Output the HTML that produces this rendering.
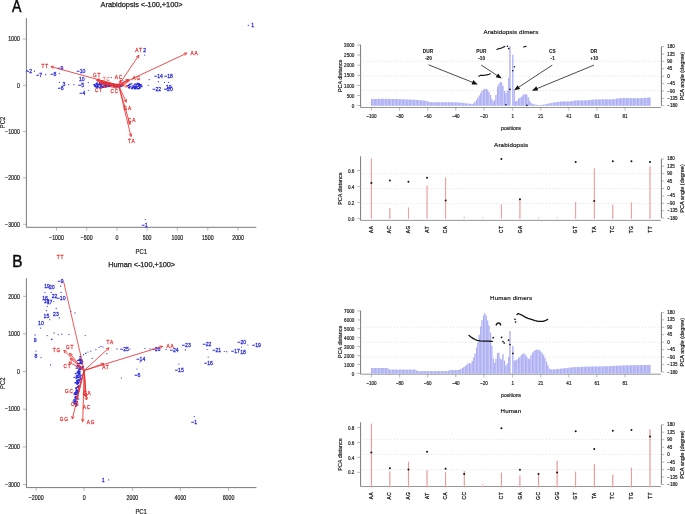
<!DOCTYPE html>
<html><head><meta charset="utf-8"><title>PCA figure</title>
<style>html,body{margin:0;padding:0;background:#fff;width:685px;height:514px;overflow:hidden}svg{display:block;will-change:transform}text{font-family:"Liberation Sans",sans-serif}</style>
</head><body>
<svg width="685" height="514" viewBox="0 0 685 514" font-family='"Liberation Sans", sans-serif'><text transform="translate(12.00 11.60) scale(0.83 1)" font-size="17.0" fill="#0a0a0a" stroke="#0a0a0a" stroke-width="0.5" text-anchor="start" font-weight="normal" dominant-baseline="auto">A</text>
<text transform="translate(100.60 6.80)" font-size="7.4" fill="#1e1e1e" stroke="#1e1e1e" stroke-width="0.25" text-anchor="start" font-weight="normal" dominant-baseline="auto" textLength="82.10" lengthAdjust="spacing">Arabidopsis &lt;-100,+100&gt;</text>
<line x1="26.40" y1="18.10" x2="26.40" y2="227.30" stroke="#6a6a6a" stroke-width="0.9"/>
<line x1="26.40" y1="227.30" x2="256.30" y2="227.30" stroke="#6a6a6a" stroke-width="0.9"/>
<line x1="22.90" y1="39.00" x2="26.40" y2="39.00" stroke="#888" stroke-width="0.6"/>
<text transform="translate(19.90 39.10) scale(0.84 1)" font-size="6.3" fill="#1e1e1e" stroke="#1e1e1e" stroke-width="0.2" text-anchor="end" font-weight="normal" dominant-baseline="central">1000</text>
<line x1="22.90" y1="85.30" x2="26.40" y2="85.30" stroke="#888" stroke-width="0.6"/>
<text transform="translate(19.90 85.40) scale(0.84 1)" font-size="6.3" fill="#1e1e1e" stroke="#1e1e1e" stroke-width="0.2" text-anchor="end" font-weight="normal" dominant-baseline="central">0</text>
<line x1="22.90" y1="131.60" x2="26.40" y2="131.60" stroke="#888" stroke-width="0.6"/>
<text transform="translate(19.90 131.70) scale(0.84 1)" font-size="6.3" fill="#1e1e1e" stroke="#1e1e1e" stroke-width="0.2" text-anchor="end" font-weight="normal" dominant-baseline="central">−1000</text>
<line x1="22.90" y1="177.90" x2="26.40" y2="177.90" stroke="#888" stroke-width="0.6"/>
<text transform="translate(19.90 178.00) scale(0.84 1)" font-size="6.3" fill="#1e1e1e" stroke="#1e1e1e" stroke-width="0.2" text-anchor="end" font-weight="normal" dominant-baseline="central">−2000</text>
<line x1="22.90" y1="224.30" x2="26.40" y2="224.30" stroke="#888" stroke-width="0.6"/>
<text transform="translate(19.90 224.40) scale(0.84 1)" font-size="6.3" fill="#1e1e1e" stroke="#1e1e1e" stroke-width="0.2" text-anchor="end" font-weight="normal" dominant-baseline="central">−3000</text>
<line x1="56.50" y1="227.30" x2="56.50" y2="230.60" stroke="#888" stroke-width="0.6"/>
<text transform="translate(56.50 237.70) scale(0.84 1)" font-size="6.3" fill="#1e1e1e" stroke="#1e1e1e" stroke-width="0.2" text-anchor="middle" font-weight="normal" dominant-baseline="central">−1000</text>
<line x1="86.70" y1="227.30" x2="86.70" y2="230.60" stroke="#888" stroke-width="0.6"/>
<text transform="translate(86.70 237.70) scale(0.84 1)" font-size="6.3" fill="#1e1e1e" stroke="#1e1e1e" stroke-width="0.2" text-anchor="middle" font-weight="normal" dominant-baseline="central">−500</text>
<line x1="116.90" y1="227.30" x2="116.90" y2="230.60" stroke="#888" stroke-width="0.6"/>
<text transform="translate(116.90 237.70) scale(0.84 1)" font-size="6.3" fill="#1e1e1e" stroke="#1e1e1e" stroke-width="0.2" text-anchor="middle" font-weight="normal" dominant-baseline="central">0</text>
<line x1="147.10" y1="227.30" x2="147.10" y2="230.60" stroke="#888" stroke-width="0.6"/>
<text transform="translate(147.10 237.70) scale(0.84 1)" font-size="6.3" fill="#1e1e1e" stroke="#1e1e1e" stroke-width="0.2" text-anchor="middle" font-weight="normal" dominant-baseline="central">500</text>
<line x1="177.40" y1="227.30" x2="177.40" y2="230.60" stroke="#888" stroke-width="0.6"/>
<text transform="translate(177.40 237.70) scale(0.84 1)" font-size="6.3" fill="#1e1e1e" stroke="#1e1e1e" stroke-width="0.2" text-anchor="middle" font-weight="normal" dominant-baseline="central">1000</text>
<line x1="207.80" y1="227.30" x2="207.80" y2="230.60" stroke="#888" stroke-width="0.6"/>
<text transform="translate(207.80 237.70) scale(0.84 1)" font-size="6.3" fill="#1e1e1e" stroke="#1e1e1e" stroke-width="0.2" text-anchor="middle" font-weight="normal" dominant-baseline="central">1500</text>
<line x1="238.10" y1="227.30" x2="238.10" y2="230.60" stroke="#888" stroke-width="0.6"/>
<text transform="translate(238.10 237.70) scale(0.84 1)" font-size="6.3" fill="#1e1e1e" stroke="#1e1e1e" stroke-width="0.2" text-anchor="middle" font-weight="normal" dominant-baseline="central">2000</text>
<text transform="translate(141.30 251.30) scale(0.86 1)" font-size="6.8" fill="#1e1e1e" stroke="#1e1e1e" stroke-width="0.2" text-anchor="middle" font-weight="normal" dominant-baseline="central">PC1</text>
<text transform="translate(2.80 122.50) rotate(-90) scale(0.86 1)" font-size="6.8" fill="#1e1e1e" stroke="#1e1e1e" stroke-width="0.2" text-anchor="middle" font-weight="normal" dominant-baseline="central">PC2</text>
<text transform="translate(12.20 266.90) scale(0.9 1)" font-size="17.0" fill="#0a0a0a" stroke="#0a0a0a" stroke-width="0.5" text-anchor="start" font-weight="normal" dominant-baseline="auto">B</text>
<text transform="translate(108.30 267.00)" font-size="7.4" fill="#1e1e1e" stroke="#1e1e1e" stroke-width="0.25" text-anchor="start" font-weight="normal" dominant-baseline="auto" textLength="66.80" lengthAdjust="spacing">Human &lt;-100,+100&gt;</text>
<line x1="26.40" y1="278.30" x2="26.40" y2="487.60" stroke="#6a6a6a" stroke-width="0.9"/>
<line x1="26.40" y1="487.60" x2="256.40" y2="487.60" stroke="#6a6a6a" stroke-width="0.9"/>
<line x1="22.90" y1="296.30" x2="26.40" y2="296.30" stroke="#888" stroke-width="0.6"/>
<text transform="translate(19.90 296.40) scale(0.84 1)" font-size="6.3" fill="#1e1e1e" stroke="#1e1e1e" stroke-width="0.2" text-anchor="end" font-weight="normal" dominant-baseline="central">2000</text>
<line x1="22.90" y1="333.90" x2="26.40" y2="333.90" stroke="#888" stroke-width="0.6"/>
<text transform="translate(19.90 334.00) scale(0.84 1)" font-size="6.3" fill="#1e1e1e" stroke="#1e1e1e" stroke-width="0.2" text-anchor="end" font-weight="normal" dominant-baseline="central">1000</text>
<line x1="22.90" y1="371.50" x2="26.40" y2="371.50" stroke="#888" stroke-width="0.6"/>
<text transform="translate(19.90 371.60) scale(0.84 1)" font-size="6.3" fill="#1e1e1e" stroke="#1e1e1e" stroke-width="0.2" text-anchor="end" font-weight="normal" dominant-baseline="central">0</text>
<line x1="22.90" y1="409.20" x2="26.40" y2="409.20" stroke="#888" stroke-width="0.6"/>
<text transform="translate(19.90 409.30) scale(0.84 1)" font-size="6.3" fill="#1e1e1e" stroke="#1e1e1e" stroke-width="0.2" text-anchor="end" font-weight="normal" dominant-baseline="central">−1000</text>
<line x1="22.90" y1="446.90" x2="26.40" y2="446.90" stroke="#888" stroke-width="0.6"/>
<text transform="translate(19.90 447.00) scale(0.84 1)" font-size="6.3" fill="#1e1e1e" stroke="#1e1e1e" stroke-width="0.2" text-anchor="end" font-weight="normal" dominant-baseline="central">−2000</text>
<line x1="22.90" y1="484.60" x2="26.40" y2="484.60" stroke="#888" stroke-width="0.6"/>
<text transform="translate(19.90 484.70) scale(0.84 1)" font-size="6.3" fill="#1e1e1e" stroke="#1e1e1e" stroke-width="0.2" text-anchor="end" font-weight="normal" dominant-baseline="central">−3000</text>
<line x1="36.20" y1="487.60" x2="36.20" y2="490.90" stroke="#888" stroke-width="0.6"/>
<text transform="translate(36.20 497.80) scale(0.84 1)" font-size="6.3" fill="#1e1e1e" stroke="#1e1e1e" stroke-width="0.2" text-anchor="middle" font-weight="normal" dominant-baseline="central">−2000</text>
<line x1="84.10" y1="487.60" x2="84.10" y2="490.90" stroke="#888" stroke-width="0.6"/>
<text transform="translate(84.10 497.80) scale(0.84 1)" font-size="6.3" fill="#1e1e1e" stroke="#1e1e1e" stroke-width="0.2" text-anchor="middle" font-weight="normal" dominant-baseline="central">0</text>
<line x1="132.40" y1="487.60" x2="132.40" y2="490.90" stroke="#888" stroke-width="0.6"/>
<text transform="translate(132.40 497.80) scale(0.84 1)" font-size="6.3" fill="#1e1e1e" stroke="#1e1e1e" stroke-width="0.2" text-anchor="middle" font-weight="normal" dominant-baseline="central">2000</text>
<line x1="180.40" y1="487.60" x2="180.40" y2="490.90" stroke="#888" stroke-width="0.6"/>
<text transform="translate(180.40 497.80) scale(0.84 1)" font-size="6.3" fill="#1e1e1e" stroke="#1e1e1e" stroke-width="0.2" text-anchor="middle" font-weight="normal" dominant-baseline="central">4000</text>
<line x1="228.50" y1="487.60" x2="228.50" y2="490.90" stroke="#888" stroke-width="0.6"/>
<text transform="translate(228.50 497.80) scale(0.84 1)" font-size="6.3" fill="#1e1e1e" stroke="#1e1e1e" stroke-width="0.2" text-anchor="middle" font-weight="normal" dominant-baseline="central">6000</text>
<text transform="translate(141.10 511.60) scale(0.86 1)" font-size="6.8" fill="#1e1e1e" stroke="#1e1e1e" stroke-width="0.2" text-anchor="middle" font-weight="normal" dominant-baseline="central">PC1</text>
<text transform="translate(2.70 383.30) rotate(-90) scale(0.86 1)" font-size="6.8" fill="#1e1e1e" stroke="#1e1e1e" stroke-width="0.2" text-anchor="middle" font-weight="normal" dominant-baseline="central">PC2</text>
<text transform="translate(483.60 34.00)" font-size="6.2" fill="#1e1e1e" stroke="#1e1e1e" stroke-width="0.22" text-anchor="start" font-weight="normal" dominant-baseline="auto" textLength="54.70" lengthAdjust="spacing">Arabidopsis dimers</text>
<line x1="360.60" y1="44.60" x2="360.60" y2="107.50" stroke="#6a6a6a" stroke-width="0.9"/>
<line x1="360.60" y1="107.50" x2="660.90" y2="107.50" stroke="#8a8a8a" stroke-width="0.9"/>
<line x1="357.30" y1="45.00" x2="360.60" y2="45.00" stroke="#888" stroke-width="0.6"/>
<text transform="translate(354.40 45.00) scale(0.86 1)" font-size="5.4" fill="#1e1e1e" stroke="#1e1e1e" stroke-width="0.2" text-anchor="end" font-weight="normal" dominant-baseline="central">3000</text>
<line x1="357.30" y1="55.10" x2="360.60" y2="55.10" stroke="#888" stroke-width="0.6"/>
<text transform="translate(354.40 55.10) scale(0.86 1)" font-size="5.4" fill="#1e1e1e" stroke="#1e1e1e" stroke-width="0.2" text-anchor="end" font-weight="normal" dominant-baseline="central">2500</text>
<line x1="357.30" y1="65.20" x2="360.60" y2="65.20" stroke="#888" stroke-width="0.6"/>
<text transform="translate(354.40 65.20) scale(0.86 1)" font-size="5.4" fill="#1e1e1e" stroke="#1e1e1e" stroke-width="0.2" text-anchor="end" font-weight="normal" dominant-baseline="central">2000</text>
<line x1="357.30" y1="75.30" x2="360.60" y2="75.30" stroke="#888" stroke-width="0.6"/>
<text transform="translate(354.40 75.30) scale(0.86 1)" font-size="5.4" fill="#1e1e1e" stroke="#1e1e1e" stroke-width="0.2" text-anchor="end" font-weight="normal" dominant-baseline="central">1500</text>
<line x1="357.30" y1="85.40" x2="360.60" y2="85.40" stroke="#888" stroke-width="0.6"/>
<text transform="translate(354.40 85.40) scale(0.86 1)" font-size="5.4" fill="#1e1e1e" stroke="#1e1e1e" stroke-width="0.2" text-anchor="end" font-weight="normal" dominant-baseline="central">1000</text>
<line x1="357.30" y1="95.50" x2="360.60" y2="95.50" stroke="#888" stroke-width="0.6"/>
<text transform="translate(354.40 95.50) scale(0.86 1)" font-size="5.4" fill="#1e1e1e" stroke="#1e1e1e" stroke-width="0.2" text-anchor="end" font-weight="normal" dominant-baseline="central">500</text>
<line x1="357.30" y1="105.60" x2="360.60" y2="105.60" stroke="#888" stroke-width="0.6"/>
<text transform="translate(354.40 105.60) scale(0.86 1)" font-size="5.4" fill="#1e1e1e" stroke="#1e1e1e" stroke-width="0.2" text-anchor="end" font-weight="normal" dominant-baseline="central">0</text>
<line x1="363.00" y1="61.30" x2="661.40" y2="61.30" stroke="#cfcfcf" stroke-width="0.6" stroke-dasharray="1.1 2.0"/>
<line x1="363.00" y1="76.10" x2="661.40" y2="76.10" stroke="#cfcfcf" stroke-width="0.6" stroke-dasharray="1.1 2.0"/>
<line x1="363.00" y1="90.60" x2="661.40" y2="90.60" stroke="#cfcfcf" stroke-width="0.6" stroke-dasharray="1.1 2.0"/>
<line x1="661.40" y1="46.60" x2="661.40" y2="105.80" stroke="#6a6a6a" stroke-width="0.9"/>
<line x1="661.40" y1="46.60" x2="664.20" y2="46.60" stroke="#888" stroke-width="0.6"/>
<text transform="translate(667.30 46.60) scale(0.9 1)" font-size="5.0" fill="#1e1e1e" stroke="#1e1e1e" stroke-width="0.2" text-anchor="start" font-weight="normal" dominant-baseline="central">180</text>
<line x1="661.40" y1="54.00" x2="664.20" y2="54.00" stroke="#888" stroke-width="0.6"/>
<text transform="translate(667.30 54.00) scale(0.9 1)" font-size="5.0" fill="#1e1e1e" stroke="#1e1e1e" stroke-width="0.2" text-anchor="start" font-weight="normal" dominant-baseline="central">135</text>
<line x1="661.40" y1="61.40" x2="664.20" y2="61.40" stroke="#888" stroke-width="0.6"/>
<text transform="translate(667.30 61.40) scale(0.9 1)" font-size="5.0" fill="#1e1e1e" stroke="#1e1e1e" stroke-width="0.2" text-anchor="start" font-weight="normal" dominant-baseline="central">90</text>
<line x1="661.40" y1="68.80" x2="664.20" y2="68.80" stroke="#888" stroke-width="0.6"/>
<text transform="translate(667.30 68.80) scale(0.9 1)" font-size="5.0" fill="#1e1e1e" stroke="#1e1e1e" stroke-width="0.2" text-anchor="start" font-weight="normal" dominant-baseline="central">45</text>
<line x1="661.40" y1="76.20" x2="664.20" y2="76.20" stroke="#888" stroke-width="0.6"/>
<text transform="translate(667.30 76.20) scale(0.9 1)" font-size="5.0" fill="#1e1e1e" stroke="#1e1e1e" stroke-width="0.2" text-anchor="start" font-weight="normal" dominant-baseline="central">0</text>
<line x1="661.40" y1="83.60" x2="664.20" y2="83.60" stroke="#888" stroke-width="0.6"/>
<text transform="translate(667.30 83.60) scale(0.9 1)" font-size="5.0" fill="#1e1e1e" stroke="#1e1e1e" stroke-width="0.2" text-anchor="start" font-weight="normal" dominant-baseline="central">−45</text>
<line x1="661.40" y1="91.00" x2="664.20" y2="91.00" stroke="#888" stroke-width="0.6"/>
<text transform="translate(667.30 91.00) scale(0.9 1)" font-size="5.0" fill="#1e1e1e" stroke="#1e1e1e" stroke-width="0.2" text-anchor="start" font-weight="normal" dominant-baseline="central">−90</text>
<line x1="661.40" y1="98.40" x2="664.20" y2="98.40" stroke="#888" stroke-width="0.6"/>
<text transform="translate(667.30 98.40) scale(0.9 1)" font-size="5.0" fill="#1e1e1e" stroke="#1e1e1e" stroke-width="0.2" text-anchor="start" font-weight="normal" dominant-baseline="central">−135</text>
<line x1="661.40" y1="105.80" x2="664.20" y2="105.80" stroke="#888" stroke-width="0.6"/>
<text transform="translate(667.30 105.80) scale(0.9 1)" font-size="5.0" fill="#1e1e1e" stroke="#1e1e1e" stroke-width="0.2" text-anchor="start" font-weight="normal" dominant-baseline="central">−180</text>
<text transform="translate(339.50 75.80) rotate(-90)" font-size="5.9" fill="#1e1e1e" stroke="#1e1e1e" stroke-width="0.2" text-anchor="middle" font-weight="normal" dominant-baseline="central" textLength="32.50" lengthAdjust="spacingAndGlyphs">PCA distance</text>
<text transform="translate(682.00 76.10) rotate(-90)" font-size="5.9" fill="#1e1e1e" stroke="#1e1e1e" stroke-width="0.2" text-anchor="middle" font-weight="normal" dominant-baseline="central" textLength="48.50" lengthAdjust="spacingAndGlyphs">PCA angle (degree)</text>
<line x1="371.40" y1="107.50" x2="371.40" y2="110.70" stroke="#888" stroke-width="0.6"/>
<text transform="translate(371.40 116.80) scale(0.88 1)" font-size="5.2" fill="#1e1e1e" stroke="#1e1e1e" stroke-width="0.2" text-anchor="middle" font-weight="normal" dominant-baseline="central">−100</text>
<line x1="399.60" y1="107.50" x2="399.60" y2="110.70" stroke="#888" stroke-width="0.6"/>
<text transform="translate(399.60 116.80) scale(0.88 1)" font-size="5.2" fill="#1e1e1e" stroke="#1e1e1e" stroke-width="0.2" text-anchor="middle" font-weight="normal" dominant-baseline="central">−80</text>
<line x1="427.70" y1="107.50" x2="427.70" y2="110.70" stroke="#888" stroke-width="0.6"/>
<text transform="translate(427.70 116.80) scale(0.88 1)" font-size="5.2" fill="#1e1e1e" stroke="#1e1e1e" stroke-width="0.2" text-anchor="middle" font-weight="normal" dominant-baseline="central">−60</text>
<line x1="455.80" y1="107.50" x2="455.80" y2="110.70" stroke="#888" stroke-width="0.6"/>
<text transform="translate(455.80 116.80) scale(0.88 1)" font-size="5.2" fill="#1e1e1e" stroke="#1e1e1e" stroke-width="0.2" text-anchor="middle" font-weight="normal" dominant-baseline="central">−40</text>
<line x1="483.90" y1="107.50" x2="483.90" y2="110.70" stroke="#888" stroke-width="0.6"/>
<text transform="translate(483.90 116.80) scale(0.88 1)" font-size="5.2" fill="#1e1e1e" stroke="#1e1e1e" stroke-width="0.2" text-anchor="middle" font-weight="normal" dominant-baseline="central">−20</text>
<line x1="512.70" y1="107.50" x2="512.70" y2="110.70" stroke="#888" stroke-width="0.6"/>
<text transform="translate(512.70 116.80) scale(0.88 1)" font-size="5.2" fill="#1e1e1e" stroke="#1e1e1e" stroke-width="0.2" text-anchor="middle" font-weight="normal" dominant-baseline="central">1</text>
<line x1="540.80" y1="107.50" x2="540.80" y2="110.70" stroke="#888" stroke-width="0.6"/>
<text transform="translate(540.80 116.80) scale(0.88 1)" font-size="5.2" fill="#1e1e1e" stroke="#1e1e1e" stroke-width="0.2" text-anchor="middle" font-weight="normal" dominant-baseline="central">21</text>
<line x1="568.90" y1="107.50" x2="568.90" y2="110.70" stroke="#888" stroke-width="0.6"/>
<text transform="translate(568.90 116.80) scale(0.88 1)" font-size="5.2" fill="#1e1e1e" stroke="#1e1e1e" stroke-width="0.2" text-anchor="middle" font-weight="normal" dominant-baseline="central">41</text>
<line x1="597.00" y1="107.50" x2="597.00" y2="110.70" stroke="#888" stroke-width="0.6"/>
<text transform="translate(597.00 116.80) scale(0.88 1)" font-size="5.2" fill="#1e1e1e" stroke="#1e1e1e" stroke-width="0.2" text-anchor="middle" font-weight="normal" dominant-baseline="central">61</text>
<line x1="625.10" y1="107.50" x2="625.10" y2="110.70" stroke="#888" stroke-width="0.6"/>
<text transform="translate(625.10 116.80) scale(0.88 1)" font-size="5.2" fill="#1e1e1e" stroke="#1e1e1e" stroke-width="0.2" text-anchor="middle" font-weight="normal" dominant-baseline="central">81</text>
<text transform="translate(511.10 128.30)" font-size="5.6" fill="#1e1e1e" stroke="#1e1e1e" stroke-width="0.2" text-anchor="middle" font-weight="normal" dominant-baseline="central" textLength="20.00" lengthAdjust="spacingAndGlyphs">positions</text>
<rect x="371.00" y="98.99" width="1.2" height="6.81" fill="#bdbff8"/><rect x="371.00" y="98.99" width="0.4" height="6.81" fill="#9294eb"/><rect x="372.40" y="98.97" width="1.2" height="6.83" fill="#bdbff8"/><rect x="372.40" y="98.97" width="0.4" height="6.83" fill="#9294eb"/><rect x="373.80" y="98.95" width="1.2" height="6.85" fill="#bdbff8"/><rect x="373.80" y="98.95" width="0.4" height="6.85" fill="#9294eb"/><rect x="375.20" y="98.93" width="1.2" height="6.87" fill="#bdbff8"/><rect x="375.20" y="98.93" width="0.4" height="6.87" fill="#9294eb"/><rect x="376.60" y="98.91" width="1.2" height="6.89" fill="#bdbff8"/><rect x="376.60" y="98.91" width="0.4" height="6.89" fill="#9294eb"/><rect x="378.00" y="98.89" width="1.2" height="6.91" fill="#bdbff8"/><rect x="378.00" y="98.89" width="0.4" height="6.91" fill="#9294eb"/><rect x="379.40" y="98.87" width="1.2" height="6.93" fill="#bdbff8"/><rect x="379.40" y="98.87" width="0.4" height="6.93" fill="#9294eb"/><rect x="380.80" y="98.85" width="1.2" height="6.95" fill="#bdbff8"/><rect x="380.80" y="98.85" width="0.4" height="6.95" fill="#9294eb"/><rect x="382.20" y="98.83" width="1.2" height="6.97" fill="#bdbff8"/><rect x="382.20" y="98.83" width="0.4" height="6.97" fill="#9294eb"/><rect x="383.60" y="98.81" width="1.2" height="6.99" fill="#bdbff8"/><rect x="383.60" y="98.81" width="0.4" height="6.99" fill="#9294eb"/><rect x="385.00" y="98.82" width="1.2" height="6.98" fill="#bdbff8"/><rect x="385.00" y="98.82" width="0.4" height="6.98" fill="#9294eb"/><rect x="386.40" y="98.85" width="1.2" height="6.95" fill="#bdbff8"/><rect x="386.40" y="98.85" width="0.4" height="6.95" fill="#9294eb"/><rect x="387.80" y="98.89" width="1.2" height="6.91" fill="#bdbff8"/><rect x="387.80" y="98.89" width="0.4" height="6.91" fill="#9294eb"/><rect x="389.20" y="98.93" width="1.2" height="6.87" fill="#bdbff8"/><rect x="389.20" y="98.93" width="0.4" height="6.87" fill="#9294eb"/><rect x="390.60" y="98.97" width="1.2" height="6.83" fill="#bdbff8"/><rect x="390.60" y="98.97" width="0.4" height="6.83" fill="#9294eb"/><rect x="392.00" y="99.00" width="1.2" height="6.80" fill="#bdbff8"/><rect x="392.00" y="99.00" width="0.4" height="6.80" fill="#9294eb"/><rect x="393.40" y="99.04" width="1.2" height="6.76" fill="#bdbff8"/><rect x="393.40" y="99.04" width="0.4" height="6.76" fill="#9294eb"/><rect x="394.80" y="99.08" width="1.2" height="6.72" fill="#bdbff8"/><rect x="394.80" y="99.08" width="0.4" height="6.72" fill="#9294eb"/><rect x="396.20" y="99.11" width="1.2" height="6.69" fill="#bdbff8"/><rect x="396.20" y="99.11" width="0.4" height="6.69" fill="#9294eb"/><rect x="397.60" y="99.15" width="1.2" height="6.65" fill="#bdbff8"/><rect x="397.60" y="99.15" width="0.4" height="6.65" fill="#9294eb"/><rect x="399.00" y="99.19" width="1.2" height="6.61" fill="#bdbff8"/><rect x="399.00" y="99.19" width="0.4" height="6.61" fill="#9294eb"/><rect x="400.40" y="99.24" width="1.2" height="6.56" fill="#bdbff8"/><rect x="400.40" y="99.24" width="0.4" height="6.56" fill="#9294eb"/><rect x="401.80" y="99.30" width="1.2" height="6.50" fill="#bdbff8"/><rect x="401.80" y="99.30" width="0.4" height="6.50" fill="#9294eb"/><rect x="403.20" y="99.35" width="1.2" height="6.45" fill="#bdbff8"/><rect x="403.20" y="99.35" width="0.4" height="6.45" fill="#9294eb"/><rect x="404.60" y="99.41" width="1.2" height="6.39" fill="#bdbff8"/><rect x="404.60" y="99.41" width="0.4" height="6.39" fill="#9294eb"/><rect x="406.00" y="99.46" width="1.2" height="6.34" fill="#bdbff8"/><rect x="406.00" y="99.46" width="0.4" height="6.34" fill="#9294eb"/><rect x="407.40" y="99.52" width="1.2" height="6.28" fill="#bdbff8"/><rect x="407.40" y="99.52" width="0.4" height="6.28" fill="#9294eb"/><rect x="408.80" y="99.58" width="1.2" height="6.22" fill="#bdbff8"/><rect x="408.80" y="99.58" width="0.4" height="6.22" fill="#9294eb"/><rect x="410.20" y="99.63" width="1.2" height="6.17" fill="#bdbff8"/><rect x="410.20" y="99.63" width="0.4" height="6.17" fill="#9294eb"/><rect x="411.60" y="99.69" width="1.2" height="6.11" fill="#bdbff8"/><rect x="411.60" y="99.69" width="0.4" height="6.11" fill="#9294eb"/><rect x="413.00" y="99.74" width="1.2" height="6.06" fill="#bdbff8"/><rect x="413.00" y="99.74" width="0.4" height="6.06" fill="#9294eb"/><rect x="414.40" y="99.80" width="1.2" height="6.00" fill="#bdbff8"/><rect x="414.40" y="99.80" width="0.4" height="6.00" fill="#9294eb"/><rect x="415.80" y="99.91" width="1.2" height="5.89" fill="#bdbff8"/><rect x="415.80" y="99.91" width="0.4" height="5.89" fill="#9294eb"/><rect x="417.20" y="100.02" width="1.2" height="5.78" fill="#bdbff8"/><rect x="417.20" y="100.02" width="0.4" height="5.78" fill="#9294eb"/><rect x="418.60" y="100.14" width="1.2" height="5.66" fill="#bdbff8"/><rect x="418.60" y="100.14" width="0.4" height="5.66" fill="#9294eb"/><rect x="420.00" y="100.25" width="1.2" height="5.55" fill="#bdbff8"/><rect x="420.00" y="100.25" width="0.4" height="5.55" fill="#9294eb"/><rect x="421.40" y="100.36" width="1.2" height="5.44" fill="#bdbff8"/><rect x="421.40" y="100.36" width="0.4" height="5.44" fill="#9294eb"/><rect x="422.80" y="100.47" width="1.2" height="5.33" fill="#bdbff8"/><rect x="422.80" y="100.47" width="0.4" height="5.33" fill="#9294eb"/><rect x="424.20" y="100.58" width="1.2" height="5.22" fill="#bdbff8"/><rect x="424.20" y="100.58" width="0.4" height="5.22" fill="#9294eb"/><rect x="425.60" y="100.94" width="1.2" height="4.86" fill="#bdbff8"/><rect x="425.60" y="100.94" width="0.4" height="4.86" fill="#9294eb"/><rect x="427.00" y="101.34" width="1.2" height="4.46" fill="#bdbff8"/><rect x="427.00" y="101.34" width="0.4" height="4.46" fill="#9294eb"/><rect x="428.40" y="101.73" width="1.2" height="4.07" fill="#bdbff8"/><rect x="428.40" y="101.73" width="0.4" height="4.07" fill="#9294eb"/><rect x="429.80" y="102.13" width="1.2" height="3.67" fill="#bdbff8"/><rect x="429.80" y="102.13" width="0.4" height="3.67" fill="#9294eb"/><rect x="431.20" y="102.29" width="1.2" height="3.51" fill="#bdbff8"/><rect x="431.20" y="102.29" width="0.4" height="3.51" fill="#9294eb"/><rect x="432.60" y="102.28" width="1.2" height="3.52" fill="#bdbff8"/><rect x="432.60" y="102.28" width="0.4" height="3.52" fill="#9294eb"/><rect x="434.00" y="102.27" width="1.2" height="3.53" fill="#bdbff8"/><rect x="434.00" y="102.27" width="0.4" height="3.53" fill="#9294eb"/><rect x="435.40" y="102.26" width="1.2" height="3.54" fill="#bdbff8"/><rect x="435.40" y="102.26" width="0.4" height="3.54" fill="#9294eb"/><rect x="436.80" y="102.25" width="1.2" height="3.55" fill="#bdbff8"/><rect x="436.80" y="102.25" width="0.4" height="3.55" fill="#9294eb"/><rect x="438.20" y="102.24" width="1.2" height="3.56" fill="#bdbff8"/><rect x="438.20" y="102.24" width="0.4" height="3.56" fill="#9294eb"/><rect x="439.60" y="102.23" width="1.2" height="3.57" fill="#bdbff8"/><rect x="439.60" y="102.23" width="0.4" height="3.57" fill="#9294eb"/><rect x="441.00" y="102.22" width="1.2" height="3.58" fill="#bdbff8"/><rect x="441.00" y="102.22" width="0.4" height="3.58" fill="#9294eb"/><rect x="442.40" y="102.21" width="1.2" height="3.59" fill="#bdbff8"/><rect x="442.40" y="102.21" width="0.4" height="3.59" fill="#9294eb"/><rect x="443.80" y="102.20" width="1.2" height="3.60" fill="#bdbff8"/><rect x="443.80" y="102.20" width="0.4" height="3.60" fill="#9294eb"/><rect x="445.20" y="102.22" width="1.2" height="3.58" fill="#bdbff8"/><rect x="445.20" y="102.22" width="0.4" height="3.58" fill="#9294eb"/><rect x="446.60" y="102.24" width="1.2" height="3.56" fill="#bdbff8"/><rect x="446.60" y="102.24" width="0.4" height="3.56" fill="#9294eb"/><rect x="448.00" y="102.27" width="1.2" height="3.53" fill="#bdbff8"/><rect x="448.00" y="102.27" width="0.4" height="3.53" fill="#9294eb"/><rect x="449.40" y="102.30" width="1.2" height="3.50" fill="#bdbff8"/><rect x="449.40" y="102.30" width="0.4" height="3.50" fill="#9294eb"/><rect x="450.80" y="102.33" width="1.2" height="3.47" fill="#bdbff8"/><rect x="450.80" y="102.33" width="0.4" height="3.47" fill="#9294eb"/><rect x="452.20" y="102.36" width="1.2" height="3.44" fill="#bdbff8"/><rect x="452.20" y="102.36" width="0.4" height="3.44" fill="#9294eb"/><rect x="453.60" y="102.38" width="1.2" height="3.42" fill="#bdbff8"/><rect x="453.60" y="102.38" width="0.4" height="3.42" fill="#9294eb"/><rect x="455.00" y="102.41" width="1.2" height="3.39" fill="#bdbff8"/><rect x="455.00" y="102.41" width="0.4" height="3.39" fill="#9294eb"/><rect x="456.40" y="102.44" width="1.2" height="3.36" fill="#bdbff8"/><rect x="456.40" y="102.44" width="0.4" height="3.36" fill="#9294eb"/><rect x="457.80" y="102.47" width="1.2" height="3.33" fill="#bdbff8"/><rect x="457.80" y="102.47" width="0.4" height="3.33" fill="#9294eb"/><rect x="459.20" y="102.50" width="1.2" height="3.30" fill="#bdbff8"/><rect x="459.20" y="102.50" width="0.4" height="3.30" fill="#9294eb"/><rect x="460.60" y="102.66" width="1.2" height="3.14" fill="#bdbff8"/><rect x="460.60" y="102.66" width="0.4" height="3.14" fill="#9294eb"/><rect x="462.00" y="102.84" width="1.2" height="2.96" fill="#bdbff8"/><rect x="462.00" y="102.84" width="0.4" height="2.96" fill="#9294eb"/><rect x="463.40" y="103.02" width="1.2" height="2.78" fill="#bdbff8"/><rect x="463.40" y="103.02" width="0.4" height="2.78" fill="#9294eb"/><rect x="464.80" y="103.20" width="1.2" height="2.60" fill="#bdbff8"/><rect x="464.80" y="103.20" width="0.4" height="2.60" fill="#9294eb"/><rect x="466.20" y="103.38" width="1.2" height="2.42" fill="#bdbff8"/><rect x="466.20" y="103.38" width="0.4" height="2.42" fill="#9294eb"/><rect x="467.60" y="103.57" width="1.2" height="2.23" fill="#bdbff8"/><rect x="467.60" y="103.57" width="0.4" height="2.23" fill="#9294eb"/><rect x="469.00" y="103.75" width="1.2" height="2.05" fill="#bdbff8"/><rect x="469.00" y="103.75" width="0.4" height="2.05" fill="#9294eb"/><rect x="470.40" y="103.86" width="1.2" height="1.94" fill="#bdbff8"/><rect x="470.40" y="103.86" width="0.4" height="1.94" fill="#9294eb"/><rect x="471.80" y="103.95" width="1.2" height="1.85" fill="#bdbff8"/><rect x="471.80" y="103.95" width="0.4" height="1.85" fill="#9294eb"/><rect x="473.20" y="103.42" width="1.2" height="2.38" fill="#bdbff8"/><rect x="473.20" y="103.42" width="0.4" height="2.38" fill="#9294eb"/><rect x="474.60" y="101.80" width="1.2" height="4.00" fill="#bdbff8"/><rect x="474.60" y="101.80" width="0.4" height="4.00" fill="#9294eb"/><rect x="476.00" y="100.12" width="1.2" height="5.68" fill="#bdbff8"/><rect x="476.00" y="100.12" width="0.4" height="5.68" fill="#9294eb"/><rect x="477.40" y="97.86" width="1.2" height="7.94" fill="#bdbff8"/><rect x="477.40" y="97.86" width="0.4" height="7.94" fill="#9294eb"/><rect x="478.80" y="95.45" width="1.2" height="10.35" fill="#bdbff8"/><rect x="478.80" y="95.45" width="0.4" height="10.35" fill="#9294eb"/><rect x="480.20" y="93.10" width="1.2" height="12.70" fill="#bdbff8"/><rect x="480.20" y="93.10" width="0.4" height="12.70" fill="#9294eb"/><rect x="481.60" y="90.91" width="1.2" height="14.89" fill="#bdbff8"/><rect x="481.60" y="90.91" width="0.4" height="14.89" fill="#9294eb"/><rect x="483.00" y="89.57" width="1.2" height="16.23" fill="#bdbff8"/><rect x="483.00" y="89.57" width="0.4" height="16.23" fill="#9294eb"/><rect x="484.40" y="89.01" width="1.2" height="16.79" fill="#bdbff8"/><rect x="484.40" y="89.01" width="0.4" height="16.79" fill="#9294eb"/><rect x="485.80" y="88.64" width="1.2" height="17.16" fill="#bdbff8"/><rect x="485.80" y="88.64" width="0.4" height="17.16" fill="#9294eb"/><rect x="487.20" y="89.85" width="1.2" height="15.95" fill="#bdbff8"/><rect x="487.20" y="89.85" width="0.4" height="15.95" fill="#9294eb"/><rect x="488.60" y="91.91" width="1.2" height="13.89" fill="#bdbff8"/><rect x="488.60" y="91.91" width="0.4" height="13.89" fill="#9294eb"/><rect x="490.00" y="94.88" width="1.2" height="10.92" fill="#bdbff8"/><rect x="490.00" y="94.88" width="0.4" height="10.92" fill="#9294eb"/><rect x="491.40" y="99.00" width="1.2" height="6.80" fill="#bdbff8"/><rect x="491.40" y="99.00" width="0.4" height="6.80" fill="#9294eb"/><rect x="492.80" y="101.36" width="1.2" height="4.44" fill="#bdbff8"/><rect x="492.80" y="101.36" width="0.4" height="4.44" fill="#9294eb"/><rect x="494.20" y="100.07" width="1.2" height="5.73" fill="#bdbff8"/><rect x="494.20" y="100.07" width="0.4" height="5.73" fill="#9294eb"/><rect x="495.60" y="94.98" width="1.2" height="10.82" fill="#bdbff8"/><rect x="495.60" y="94.98" width="0.4" height="10.82" fill="#9294eb"/><rect x="497.00" y="86.57" width="1.2" height="19.23" fill="#bdbff8"/><rect x="497.00" y="86.57" width="0.4" height="19.23" fill="#9294eb"/><rect x="498.40" y="83.99" width="1.2" height="21.81" fill="#bdbff8"/><rect x="498.40" y="83.99" width="0.4" height="21.81" fill="#9294eb"/><rect x="499.80" y="81.94" width="1.2" height="23.86" fill="#bdbff8"/><rect x="499.80" y="81.94" width="0.4" height="23.86" fill="#9294eb"/><rect x="501.20" y="82.53" width="1.2" height="23.27" fill="#bdbff8"/><rect x="501.20" y="82.53" width="0.4" height="23.27" fill="#9294eb"/><rect x="502.60" y="85.90" width="1.2" height="19.90" fill="#bdbff8"/><rect x="502.60" y="85.90" width="0.4" height="19.90" fill="#9294eb"/><rect x="504.00" y="91.00" width="1.2" height="14.80" fill="#bdbff8"/><rect x="504.00" y="91.00" width="0.4" height="14.80" fill="#9294eb"/><rect x="505.40" y="93.43" width="1.2" height="12.37" fill="#bdbff8"/><rect x="505.40" y="93.43" width="0.4" height="12.37" fill="#9294eb"/><rect x="506.80" y="90.74" width="1.2" height="15.06" fill="#bdbff8"/><rect x="506.80" y="90.74" width="0.4" height="15.06" fill="#9294eb"/><rect x="508.20" y="78.10" width="1.2" height="27.70" fill="#bdbff8"/><rect x="508.20" y="78.10" width="0.4" height="27.70" fill="#9294eb"/><rect x="509.60" y="46.20" width="1.2" height="59.60" fill="#bdbff8"/><rect x="509.60" y="46.20" width="0.4" height="59.60" fill="#9294eb"/><rect x="512.40" y="54.80" width="1.2" height="51.00" fill="#bdbff8"/><rect x="512.40" y="54.80" width="0.4" height="51.00" fill="#9294eb"/><rect x="513.80" y="90.30" width="1.2" height="15.50" fill="#bdbff8"/><rect x="513.80" y="90.30" width="0.4" height="15.50" fill="#9294eb"/><rect x="515.20" y="101.47" width="1.2" height="4.33" fill="#bdbff8"/><rect x="515.20" y="101.47" width="0.4" height="4.33" fill="#9294eb"/><rect x="516.60" y="100.78" width="1.2" height="5.02" fill="#bdbff8"/><rect x="516.60" y="100.78" width="0.4" height="5.02" fill="#9294eb"/><rect x="518.00" y="98.45" width="1.2" height="7.35" fill="#bdbff8"/><rect x="518.00" y="98.45" width="0.4" height="7.35" fill="#9294eb"/><rect x="519.40" y="98.19" width="1.2" height="7.61" fill="#bdbff8"/><rect x="519.40" y="98.19" width="0.4" height="7.61" fill="#9294eb"/><rect x="520.80" y="96.89" width="1.2" height="8.91" fill="#bdbff8"/><rect x="520.80" y="96.89" width="0.4" height="8.91" fill="#9294eb"/><rect x="522.20" y="95.47" width="1.2" height="10.33" fill="#bdbff8"/><rect x="522.20" y="95.47" width="0.4" height="10.33" fill="#9294eb"/><rect x="523.60" y="94.33" width="1.2" height="11.47" fill="#bdbff8"/><rect x="523.60" y="94.33" width="0.4" height="11.47" fill="#9294eb"/><rect x="525.00" y="94.14" width="1.2" height="11.66" fill="#bdbff8"/><rect x="525.00" y="94.14" width="0.4" height="11.66" fill="#9294eb"/><rect x="526.40" y="94.68" width="1.2" height="11.12" fill="#bdbff8"/><rect x="526.40" y="94.68" width="0.4" height="11.12" fill="#9294eb"/><rect x="527.80" y="97.33" width="1.2" height="8.47" fill="#bdbff8"/><rect x="527.80" y="97.33" width="0.4" height="8.47" fill="#9294eb"/><rect x="529.20" y="100.75" width="1.2" height="5.05" fill="#bdbff8"/><rect x="529.20" y="100.75" width="0.4" height="5.05" fill="#9294eb"/><rect x="530.60" y="102.85" width="1.2" height="2.95" fill="#bdbff8"/><rect x="530.60" y="102.85" width="0.4" height="2.95" fill="#9294eb"/><rect x="532.00" y="103.80" width="1.2" height="2.00" fill="#bdbff8"/><rect x="532.00" y="103.80" width="0.4" height="2.00" fill="#9294eb"/><rect x="533.40" y="104.25" width="1.2" height="1.55" fill="#bdbff8"/><rect x="533.40" y="104.25" width="0.4" height="1.55" fill="#9294eb"/><rect x="534.80" y="104.58" width="1.2" height="1.22" fill="#bdbff8"/><rect x="534.80" y="104.58" width="0.4" height="1.22" fill="#9294eb"/><rect x="536.20" y="104.77" width="1.2" height="1.03" fill="#bdbff8"/><rect x="536.20" y="104.77" width="0.4" height="1.03" fill="#9294eb"/><rect x="537.60" y="104.96" width="1.2" height="0.84" fill="#bdbff8"/><rect x="537.60" y="104.96" width="0.4" height="0.84" fill="#9294eb"/><rect x="539.00" y="105.15" width="1.2" height="0.65" fill="#bdbff8"/><rect x="539.00" y="105.15" width="0.4" height="0.65" fill="#9294eb"/><rect x="540.40" y="105.04" width="1.2" height="0.76" fill="#bdbff8"/><rect x="540.40" y="105.04" width="0.4" height="0.76" fill="#9294eb"/><rect x="541.80" y="104.81" width="1.2" height="0.99" fill="#bdbff8"/><rect x="541.80" y="104.81" width="0.4" height="0.99" fill="#9294eb"/><rect x="543.20" y="104.58" width="1.2" height="1.22" fill="#bdbff8"/><rect x="543.20" y="104.58" width="0.4" height="1.22" fill="#9294eb"/><rect x="544.60" y="104.35" width="1.2" height="1.45" fill="#bdbff8"/><rect x="544.60" y="104.35" width="0.4" height="1.45" fill="#9294eb"/><rect x="546.00" y="104.02" width="1.2" height="1.78" fill="#bdbff8"/><rect x="546.00" y="104.02" width="0.4" height="1.78" fill="#9294eb"/><rect x="547.40" y="103.68" width="1.2" height="2.12" fill="#bdbff8"/><rect x="547.40" y="103.68" width="0.4" height="2.12" fill="#9294eb"/><rect x="548.80" y="103.35" width="1.2" height="2.45" fill="#bdbff8"/><rect x="548.80" y="103.35" width="0.4" height="2.45" fill="#9294eb"/><rect x="550.20" y="103.12" width="1.2" height="2.68" fill="#bdbff8"/><rect x="550.20" y="103.12" width="0.4" height="2.68" fill="#9294eb"/><rect x="551.60" y="102.90" width="1.2" height="2.90" fill="#bdbff8"/><rect x="551.60" y="102.90" width="0.4" height="2.90" fill="#9294eb"/><rect x="553.00" y="102.67" width="1.2" height="3.13" fill="#bdbff8"/><rect x="553.00" y="102.67" width="0.4" height="3.13" fill="#9294eb"/><rect x="554.40" y="102.43" width="1.2" height="3.37" fill="#bdbff8"/><rect x="554.40" y="102.43" width="0.4" height="3.37" fill="#9294eb"/><rect x="555.80" y="102.20" width="1.2" height="3.60" fill="#bdbff8"/><rect x="555.80" y="102.20" width="0.4" height="3.60" fill="#9294eb"/><rect x="557.20" y="101.97" width="1.2" height="3.83" fill="#bdbff8"/><rect x="557.20" y="101.97" width="0.4" height="3.83" fill="#9294eb"/><rect x="558.60" y="101.81" width="1.2" height="3.99" fill="#bdbff8"/><rect x="558.60" y="101.81" width="0.4" height="3.99" fill="#9294eb"/><rect x="560.00" y="101.68" width="1.2" height="4.12" fill="#bdbff8"/><rect x="560.00" y="101.68" width="0.4" height="4.12" fill="#9294eb"/><rect x="561.40" y="101.55" width="1.2" height="4.25" fill="#bdbff8"/><rect x="561.40" y="101.55" width="0.4" height="4.25" fill="#9294eb"/><rect x="562.80" y="101.43" width="1.2" height="4.37" fill="#bdbff8"/><rect x="562.80" y="101.43" width="0.4" height="4.37" fill="#9294eb"/><rect x="564.20" y="101.42" width="1.2" height="4.38" fill="#bdbff8"/><rect x="564.20" y="101.42" width="0.4" height="4.38" fill="#9294eb"/><rect x="565.60" y="101.45" width="1.2" height="4.35" fill="#bdbff8"/><rect x="565.60" y="101.45" width="0.4" height="4.35" fill="#9294eb"/><rect x="567.00" y="101.47" width="1.2" height="4.33" fill="#bdbff8"/><rect x="567.00" y="101.47" width="0.4" height="4.33" fill="#9294eb"/><rect x="568.40" y="101.50" width="1.2" height="4.30" fill="#bdbff8"/><rect x="568.40" y="101.50" width="0.4" height="4.30" fill="#9294eb"/><rect x="569.80" y="101.32" width="1.2" height="4.48" fill="#bdbff8"/><rect x="569.80" y="101.32" width="0.4" height="4.48" fill="#9294eb"/><rect x="571.20" y="101.11" width="1.2" height="4.69" fill="#bdbff8"/><rect x="571.20" y="101.11" width="0.4" height="4.69" fill="#9294eb"/><rect x="572.60" y="100.90" width="1.2" height="4.90" fill="#bdbff8"/><rect x="572.60" y="100.90" width="0.4" height="4.90" fill="#9294eb"/><rect x="574.00" y="100.69" width="1.2" height="5.11" fill="#bdbff8"/><rect x="574.00" y="100.69" width="0.4" height="5.11" fill="#9294eb"/><rect x="575.40" y="100.48" width="1.2" height="5.32" fill="#bdbff8"/><rect x="575.40" y="100.48" width="0.4" height="5.32" fill="#9294eb"/><rect x="576.80" y="100.40" width="1.2" height="5.40" fill="#bdbff8"/><rect x="576.80" y="100.40" width="0.4" height="5.40" fill="#9294eb"/><rect x="578.20" y="100.40" width="1.2" height="5.40" fill="#bdbff8"/><rect x="578.20" y="100.40" width="0.4" height="5.40" fill="#9294eb"/><rect x="579.60" y="100.40" width="1.2" height="5.40" fill="#bdbff8"/><rect x="579.60" y="100.40" width="0.4" height="5.40" fill="#9294eb"/><rect x="581.00" y="100.40" width="1.2" height="5.40" fill="#bdbff8"/><rect x="581.00" y="100.40" width="0.4" height="5.40" fill="#9294eb"/><rect x="582.40" y="100.40" width="1.2" height="5.40" fill="#bdbff8"/><rect x="582.40" y="100.40" width="0.4" height="5.40" fill="#9294eb"/><rect x="583.80" y="100.40" width="1.2" height="5.40" fill="#bdbff8"/><rect x="583.80" y="100.40" width="0.4" height="5.40" fill="#9294eb"/><rect x="585.20" y="100.38" width="1.2" height="5.42" fill="#bdbff8"/><rect x="585.20" y="100.38" width="0.4" height="5.42" fill="#9294eb"/><rect x="586.60" y="100.24" width="1.2" height="5.56" fill="#bdbff8"/><rect x="586.60" y="100.24" width="0.4" height="5.56" fill="#9294eb"/><rect x="588.00" y="100.10" width="1.2" height="5.70" fill="#bdbff8"/><rect x="588.00" y="100.10" width="0.4" height="5.70" fill="#9294eb"/><rect x="589.40" y="99.96" width="1.2" height="5.84" fill="#bdbff8"/><rect x="589.40" y="99.96" width="0.4" height="5.84" fill="#9294eb"/><rect x="590.80" y="99.83" width="1.2" height="5.97" fill="#bdbff8"/><rect x="590.80" y="99.83" width="0.4" height="5.97" fill="#9294eb"/><rect x="592.20" y="99.69" width="1.2" height="6.11" fill="#bdbff8"/><rect x="592.20" y="99.69" width="0.4" height="6.11" fill="#9294eb"/><rect x="593.60" y="99.55" width="1.2" height="6.25" fill="#bdbff8"/><rect x="593.60" y="99.55" width="0.4" height="6.25" fill="#9294eb"/><rect x="595.00" y="99.48" width="1.2" height="6.32" fill="#bdbff8"/><rect x="595.00" y="99.48" width="0.4" height="6.32" fill="#9294eb"/><rect x="596.40" y="99.45" width="1.2" height="6.35" fill="#bdbff8"/><rect x="596.40" y="99.45" width="0.4" height="6.35" fill="#9294eb"/><rect x="597.80" y="99.42" width="1.2" height="6.38" fill="#bdbff8"/><rect x="597.80" y="99.42" width="0.4" height="6.38" fill="#9294eb"/><rect x="599.20" y="99.39" width="1.2" height="6.41" fill="#bdbff8"/><rect x="599.20" y="99.39" width="0.4" height="6.41" fill="#9294eb"/><rect x="600.60" y="99.36" width="1.2" height="6.44" fill="#bdbff8"/><rect x="600.60" y="99.36" width="0.4" height="6.44" fill="#9294eb"/><rect x="602.00" y="99.33" width="1.2" height="6.47" fill="#bdbff8"/><rect x="602.00" y="99.33" width="0.4" height="6.47" fill="#9294eb"/><rect x="603.40" y="99.30" width="1.2" height="6.50" fill="#bdbff8"/><rect x="603.40" y="99.30" width="0.4" height="6.50" fill="#9294eb"/><rect x="604.80" y="99.30" width="1.2" height="6.50" fill="#bdbff8"/><rect x="604.80" y="99.30" width="0.4" height="6.50" fill="#9294eb"/><rect x="606.20" y="99.30" width="1.2" height="6.50" fill="#bdbff8"/><rect x="606.20" y="99.30" width="0.4" height="6.50" fill="#9294eb"/><rect x="607.60" y="99.30" width="1.2" height="6.50" fill="#bdbff8"/><rect x="607.60" y="99.30" width="0.4" height="6.50" fill="#9294eb"/><rect x="609.00" y="99.30" width="1.2" height="6.50" fill="#bdbff8"/><rect x="609.00" y="99.30" width="0.4" height="6.50" fill="#9294eb"/><rect x="610.40" y="99.30" width="1.2" height="6.50" fill="#bdbff8"/><rect x="610.40" y="99.30" width="0.4" height="6.50" fill="#9294eb"/><rect x="611.80" y="99.30" width="1.2" height="6.50" fill="#bdbff8"/><rect x="611.80" y="99.30" width="0.4" height="6.50" fill="#9294eb"/><rect x="613.20" y="99.17" width="1.2" height="6.63" fill="#bdbff8"/><rect x="613.20" y="99.17" width="0.4" height="6.63" fill="#9294eb"/><rect x="614.60" y="98.94" width="1.2" height="6.86" fill="#bdbff8"/><rect x="614.60" y="98.94" width="0.4" height="6.86" fill="#9294eb"/><rect x="616.00" y="98.71" width="1.2" height="7.09" fill="#bdbff8"/><rect x="616.00" y="98.71" width="0.4" height="7.09" fill="#9294eb"/><rect x="617.40" y="98.48" width="1.2" height="7.32" fill="#bdbff8"/><rect x="617.40" y="98.48" width="0.4" height="7.32" fill="#9294eb"/><rect x="618.80" y="98.25" width="1.2" height="7.55" fill="#bdbff8"/><rect x="618.80" y="98.25" width="0.4" height="7.55" fill="#9294eb"/><rect x="620.20" y="98.10" width="1.2" height="7.70" fill="#bdbff8"/><rect x="620.20" y="98.10" width="0.4" height="7.70" fill="#9294eb"/><rect x="621.60" y="98.11" width="1.2" height="7.69" fill="#bdbff8"/><rect x="621.60" y="98.11" width="0.4" height="7.69" fill="#9294eb"/><rect x="623.00" y="98.12" width="1.2" height="7.68" fill="#bdbff8"/><rect x="623.00" y="98.12" width="0.4" height="7.68" fill="#9294eb"/><rect x="624.40" y="98.12" width="1.2" height="7.68" fill="#bdbff8"/><rect x="624.40" y="98.12" width="0.4" height="7.68" fill="#9294eb"/><rect x="625.80" y="98.13" width="1.2" height="7.67" fill="#bdbff8"/><rect x="625.80" y="98.13" width="0.4" height="7.67" fill="#9294eb"/><rect x="627.20" y="98.14" width="1.2" height="7.66" fill="#bdbff8"/><rect x="627.20" y="98.14" width="0.4" height="7.66" fill="#9294eb"/><rect x="628.60" y="98.14" width="1.2" height="7.66" fill="#bdbff8"/><rect x="628.60" y="98.14" width="0.4" height="7.66" fill="#9294eb"/><rect x="630.00" y="98.15" width="1.2" height="7.65" fill="#bdbff8"/><rect x="630.00" y="98.15" width="0.4" height="7.65" fill="#9294eb"/><rect x="631.40" y="98.16" width="1.2" height="7.64" fill="#bdbff8"/><rect x="631.40" y="98.16" width="0.4" height="7.64" fill="#9294eb"/><rect x="632.80" y="98.17" width="1.2" height="7.63" fill="#bdbff8"/><rect x="632.80" y="98.17" width="0.4" height="7.63" fill="#9294eb"/><rect x="634.20" y="98.17" width="1.2" height="7.63" fill="#bdbff8"/><rect x="634.20" y="98.17" width="0.4" height="7.63" fill="#9294eb"/><rect x="635.60" y="98.18" width="1.2" height="7.62" fill="#bdbff8"/><rect x="635.60" y="98.18" width="0.4" height="7.62" fill="#9294eb"/><rect x="637.00" y="98.19" width="1.2" height="7.61" fill="#bdbff8"/><rect x="637.00" y="98.19" width="0.4" height="7.61" fill="#9294eb"/><rect x="638.40" y="98.19" width="1.2" height="7.61" fill="#bdbff8"/><rect x="638.40" y="98.19" width="0.4" height="7.61" fill="#9294eb"/><rect x="639.80" y="98.20" width="1.2" height="7.60" fill="#bdbff8"/><rect x="639.80" y="98.20" width="0.4" height="7.60" fill="#9294eb"/><rect x="641.20" y="98.10" width="1.2" height="7.70" fill="#bdbff8"/><rect x="641.20" y="98.10" width="0.4" height="7.70" fill="#9294eb"/><rect x="642.60" y="98.00" width="1.2" height="7.80" fill="#bdbff8"/><rect x="642.60" y="98.00" width="0.4" height="7.80" fill="#9294eb"/><rect x="644.00" y="97.89" width="1.2" height="7.91" fill="#bdbff8"/><rect x="644.00" y="97.89" width="0.4" height="7.91" fill="#9294eb"/><rect x="645.40" y="97.79" width="1.2" height="8.01" fill="#bdbff8"/><rect x="645.40" y="97.79" width="0.4" height="8.01" fill="#9294eb"/><rect x="646.80" y="97.69" width="1.2" height="8.11" fill="#bdbff8"/><rect x="646.80" y="97.69" width="0.4" height="8.11" fill="#9294eb"/><rect x="648.20" y="97.59" width="1.2" height="8.21" fill="#bdbff8"/><rect x="648.20" y="97.59" width="0.4" height="8.21" fill="#9294eb"/><rect x="649.60" y="97.50" width="1.2" height="8.30" fill="#bdbff8"/><rect x="649.60" y="97.50" width="0.4" height="8.30" fill="#9294eb"/>
<polyline points="478.90,76.30 480.00,75.60 481.10,75.20 483.00,75.40 484.80,75.30 486.30,74.90 487.80,74.60 489.20,74.20 490.30,73.70" fill="none" stroke="#111" stroke-width="1.1" stroke-linecap="round" stroke-linejoin="round"/>
<polyline points="496.90,49.50 498.50,48.80 500.00,48.40 501.50,47.90 503.00,47.20 504.80,46.40" fill="none" stroke="#111" stroke-width="1.1" stroke-linecap="round" stroke-linejoin="round"/>
<circle cx="507.40" cy="46.30" r="0.8" fill="#111"/>
<circle cx="508.70" cy="48.60" r="0.8" fill="#111"/>
<polyline points="523.60,47.00 526.20,46.30" fill="none" stroke="#111" stroke-width="1.1" stroke-linecap="round" stroke-linejoin="round"/>
<circle cx="514.40" cy="66.70" r="0.8" fill="#111"/>
<circle cx="512.80" cy="70.80" r="0.8" fill="#111"/>
<circle cx="509.90" cy="89.40" r="0.8" fill="#111"/>
<circle cx="505.90" cy="104.80" r="0.8" fill="#111"/>
<circle cx="526.90" cy="105.40" r="0.8" fill="#111"/>
<text transform="translate(428.00 51.00) scale(0.95 1)" font-size="5.0" fill="#1e1e1e" stroke="#1e1e1e" stroke-width="0.1" text-anchor="middle" font-weight="bold" dominant-baseline="central">DUR</text>
<text transform="translate(428.40 58.20) scale(0.95 1)" font-size="5.0" fill="#1e1e1e" stroke="#1e1e1e" stroke-width="0.1" text-anchor="middle" font-weight="bold" dominant-baseline="central">-20</text>
<text transform="translate(481.30 51.00) scale(0.95 1)" font-size="5.0" fill="#1e1e1e" stroke="#1e1e1e" stroke-width="0.1" text-anchor="middle" font-weight="bold" dominant-baseline="central">PUR</text>
<text transform="translate(481.70 58.20) scale(0.95 1)" font-size="5.0" fill="#1e1e1e" stroke="#1e1e1e" stroke-width="0.1" text-anchor="middle" font-weight="bold" dominant-baseline="central">-10</text>
<text transform="translate(552.30 51.00) scale(0.95 1)" font-size="5.0" fill="#1e1e1e" stroke="#1e1e1e" stroke-width="0.1" text-anchor="middle" font-weight="bold" dominant-baseline="central">CS</text>
<text transform="translate(552.70 58.20) scale(0.95 1)" font-size="5.0" fill="#1e1e1e" stroke="#1e1e1e" stroke-width="0.1" text-anchor="middle" font-weight="bold" dominant-baseline="central">-1</text>
<text transform="translate(593.80 51.00) scale(0.95 1)" font-size="5.0" fill="#1e1e1e" stroke="#1e1e1e" stroke-width="0.1" text-anchor="middle" font-weight="bold" dominant-baseline="central">DR</text>
<text transform="translate(594.20 58.20) scale(0.95 1)" font-size="5.0" fill="#1e1e1e" stroke="#1e1e1e" stroke-width="0.1" text-anchor="middle" font-weight="bold" dominant-baseline="central">+10</text>
<line x1="428.50" y1="64.80" x2="472.87" y2="82.44" stroke="#111" stroke-width="0.75"/>
<polygon points="477.80,84.40 471.56,84.39 473.26,80.12" fill="#111"/>
<line x1="481.10" y1="65.00" x2="497.36" y2="75.60" stroke="#111" stroke-width="0.75"/>
<polygon points="501.80,78.50 495.69,77.26 498.20,73.41" fill="#111"/>
<line x1="552.30" y1="65.10" x2="518.43" y2="87.39" stroke="#111" stroke-width="0.75"/>
<polygon points="514.00,90.30 517.58,85.19 520.11,89.03" fill="#111"/>
<line x1="594.00" y1="65.10" x2="536.80" y2="88.68" stroke="#111" stroke-width="0.75"/>
<polygon points="531.90,90.70 536.39,86.36 538.14,90.62" fill="#111"/>
<text transform="translate(494.10 146.60)" font-size="6.2" fill="#1e1e1e" stroke="#1e1e1e" stroke-width="0.22" text-anchor="start" font-weight="normal" dominant-baseline="auto" textLength="34.00" lengthAdjust="spacing">Arabidopsis</text>
<line x1="360.60" y1="156.30" x2="360.60" y2="220.40" stroke="#6a6a6a" stroke-width="0.9"/>
<line x1="360.60" y1="220.40" x2="660.90" y2="220.40" stroke="#8a8a8a" stroke-width="0.9"/>
<line x1="357.30" y1="170.50" x2="360.60" y2="170.50" stroke="#888" stroke-width="0.6"/>
<text transform="translate(354.40 170.50) scale(0.86 1)" font-size="5.4" fill="#1e1e1e" stroke="#1e1e1e" stroke-width="0.2" text-anchor="end" font-weight="normal" dominant-baseline="central">0.6</text>
<line x1="357.30" y1="186.55" x2="360.60" y2="186.55" stroke="#888" stroke-width="0.6"/>
<text transform="translate(354.40 186.55) scale(0.86 1)" font-size="5.4" fill="#1e1e1e" stroke="#1e1e1e" stroke-width="0.2" text-anchor="end" font-weight="normal" dominant-baseline="central">0.4</text>
<line x1="357.30" y1="202.60" x2="360.60" y2="202.60" stroke="#888" stroke-width="0.6"/>
<text transform="translate(354.40 202.60) scale(0.86 1)" font-size="5.4" fill="#1e1e1e" stroke="#1e1e1e" stroke-width="0.2" text-anchor="end" font-weight="normal" dominant-baseline="central">0.2</text>
<line x1="357.30" y1="218.65" x2="360.60" y2="218.65" stroke="#888" stroke-width="0.6"/>
<text transform="translate(354.40 218.65) scale(0.86 1)" font-size="5.4" fill="#1e1e1e" stroke="#1e1e1e" stroke-width="0.2" text-anchor="end" font-weight="normal" dominant-baseline="central">0.0</text>
<line x1="363.00" y1="173.60" x2="661.40" y2="173.60" stroke="#cfcfcf" stroke-width="0.6" stroke-dasharray="1.1 2.0"/>
<line x1="363.00" y1="188.60" x2="661.40" y2="188.60" stroke="#cfcfcf" stroke-width="0.6" stroke-dasharray="1.1 2.0"/>
<line x1="363.00" y1="203.60" x2="661.40" y2="203.60" stroke="#cfcfcf" stroke-width="0.6" stroke-dasharray="1.1 2.0"/>
<line x1="661.40" y1="158.90" x2="661.40" y2="218.10" stroke="#6a6a6a" stroke-width="0.9"/>
<line x1="661.40" y1="158.90" x2="664.20" y2="158.90" stroke="#888" stroke-width="0.6"/>
<text transform="translate(667.30 158.90) scale(0.9 1)" font-size="5.0" fill="#1e1e1e" stroke="#1e1e1e" stroke-width="0.2" text-anchor="start" font-weight="normal" dominant-baseline="central">180</text>
<line x1="661.40" y1="166.30" x2="664.20" y2="166.30" stroke="#888" stroke-width="0.6"/>
<text transform="translate(667.30 166.30) scale(0.9 1)" font-size="5.0" fill="#1e1e1e" stroke="#1e1e1e" stroke-width="0.2" text-anchor="start" font-weight="normal" dominant-baseline="central">135</text>
<line x1="661.40" y1="173.70" x2="664.20" y2="173.70" stroke="#888" stroke-width="0.6"/>
<text transform="translate(667.30 173.70) scale(0.9 1)" font-size="5.0" fill="#1e1e1e" stroke="#1e1e1e" stroke-width="0.2" text-anchor="start" font-weight="normal" dominant-baseline="central">90</text>
<line x1="661.40" y1="181.10" x2="664.20" y2="181.10" stroke="#888" stroke-width="0.6"/>
<text transform="translate(667.30 181.10) scale(0.9 1)" font-size="5.0" fill="#1e1e1e" stroke="#1e1e1e" stroke-width="0.2" text-anchor="start" font-weight="normal" dominant-baseline="central">45</text>
<line x1="661.40" y1="188.50" x2="664.20" y2="188.50" stroke="#888" stroke-width="0.6"/>
<text transform="translate(667.30 188.50) scale(0.9 1)" font-size="5.0" fill="#1e1e1e" stroke="#1e1e1e" stroke-width="0.2" text-anchor="start" font-weight="normal" dominant-baseline="central">0</text>
<line x1="661.40" y1="195.90" x2="664.20" y2="195.90" stroke="#888" stroke-width="0.6"/>
<text transform="translate(667.30 195.90) scale(0.9 1)" font-size="5.0" fill="#1e1e1e" stroke="#1e1e1e" stroke-width="0.2" text-anchor="start" font-weight="normal" dominant-baseline="central">−45</text>
<line x1="661.40" y1="203.30" x2="664.20" y2="203.30" stroke="#888" stroke-width="0.6"/>
<text transform="translate(667.30 203.30) scale(0.9 1)" font-size="5.0" fill="#1e1e1e" stroke="#1e1e1e" stroke-width="0.2" text-anchor="start" font-weight="normal" dominant-baseline="central">−90</text>
<line x1="661.40" y1="210.70" x2="664.20" y2="210.70" stroke="#888" stroke-width="0.6"/>
<text transform="translate(667.30 210.70) scale(0.9 1)" font-size="5.0" fill="#1e1e1e" stroke="#1e1e1e" stroke-width="0.2" text-anchor="start" font-weight="normal" dominant-baseline="central">−135</text>
<line x1="661.40" y1="218.10" x2="664.20" y2="218.10" stroke="#888" stroke-width="0.6"/>
<text transform="translate(667.30 218.10) scale(0.9 1)" font-size="5.0" fill="#1e1e1e" stroke="#1e1e1e" stroke-width="0.2" text-anchor="start" font-weight="normal" dominant-baseline="central">−180</text>
<text transform="translate(339.50 188.50) rotate(-90)" font-size="5.9" fill="#1e1e1e" stroke="#1e1e1e" stroke-width="0.2" text-anchor="middle" font-weight="normal" dominant-baseline="central" textLength="32.50" lengthAdjust="spacingAndGlyphs">PCA distance</text>
<text transform="translate(682.00 188.50) rotate(-90)" font-size="5.9" fill="#1e1e1e" stroke="#1e1e1e" stroke-width="0.2" text-anchor="middle" font-weight="normal" dominant-baseline="central" textLength="48.50" lengthAdjust="spacingAndGlyphs">PCA angle (degree)</text>
<rect x="370.70" y="158.60" width="1.2" height="60.20" fill="#f5caca"/>
<rect x="371.00" y="158.60" width="0.6" height="60.20" fill="#e48888"/>
<rect x="389.28" y="208.00" width="1.2" height="10.80" fill="#f5caca"/>
<rect x="389.58" y="208.00" width="0.6" height="10.80" fill="#e48888"/>
<rect x="407.86" y="207.50" width="1.2" height="11.30" fill="#f5caca"/>
<rect x="408.16" y="207.50" width="0.6" height="11.30" fill="#e48888"/>
<rect x="426.44" y="185.70" width="1.2" height="33.10" fill="#f5caca"/>
<rect x="426.74" y="185.70" width="0.6" height="33.10" fill="#e48888"/>
<rect x="445.02" y="177.60" width="1.2" height="41.20" fill="#f5caca"/>
<rect x="445.32" y="177.60" width="0.6" height="41.20" fill="#e48888"/>
<rect x="463.60" y="216.50" width="1.2" height="2.30" fill="#f4c4c4"/>
<rect x="482.18" y="217.50" width="1.2" height="1.30" fill="#f4c4c4"/>
<rect x="500.76" y="204.40" width="1.2" height="14.40" fill="#f5caca"/>
<rect x="501.06" y="204.40" width="0.6" height="14.40" fill="#e48888"/>
<rect x="519.34" y="199.90" width="1.2" height="18.90" fill="#f5caca"/>
<rect x="519.64" y="199.90" width="0.6" height="18.90" fill="#e48888"/>
<rect x="537.92" y="217.30" width="1.2" height="1.50" fill="#f4c4c4"/>
<rect x="556.50" y="217.30" width="1.2" height="1.50" fill="#f4c4c4"/>
<rect x="575.08" y="201.90" width="1.2" height="16.90" fill="#f5caca"/>
<rect x="575.38" y="201.90" width="0.6" height="16.90" fill="#e48888"/>
<rect x="593.66" y="168.30" width="1.2" height="50.50" fill="#f5caca"/>
<rect x="593.96" y="168.30" width="0.6" height="50.50" fill="#e48888"/>
<rect x="612.24" y="204.70" width="1.2" height="14.10" fill="#f5caca"/>
<rect x="612.54" y="204.70" width="0.6" height="14.10" fill="#e48888"/>
<rect x="630.82" y="202.50" width="1.2" height="16.30" fill="#f5caca"/>
<rect x="631.12" y="202.50" width="0.6" height="16.30" fill="#e48888"/>
<rect x="649.40" y="166.30" width="1.2" height="52.50" fill="#f5caca"/>
<rect x="649.70" y="166.30" width="0.6" height="52.50" fill="#e48888"/>
<circle cx="371.30" cy="183.10" r="1.0" fill="#111"/>
<circle cx="389.88" cy="180.50" r="1.0" fill="#111"/>
<circle cx="408.46" cy="181.80" r="1.0" fill="#111"/>
<circle cx="427.04" cy="177.80" r="1.0" fill="#111"/>
<circle cx="445.62" cy="200.40" r="1.0" fill="#111"/>
<circle cx="501.36" cy="158.90" r="1.0" fill="#111"/>
<circle cx="519.94" cy="199.30" r="1.0" fill="#111"/>
<circle cx="575.68" cy="162.00" r="1.0" fill="#111"/>
<circle cx="594.26" cy="201.00" r="1.0" fill="#111"/>
<circle cx="612.84" cy="161.20" r="1.0" fill="#111"/>
<circle cx="631.42" cy="161.20" r="1.0" fill="#111"/>
<circle cx="650.00" cy="162.00" r="1.0" fill="#111"/>
<text transform="translate(371.30 229.30) rotate(-90) scale(0.9 1)" font-size="5.2" fill="#1e1e1e" stroke="#1e1e1e" stroke-width="0.3" text-anchor="middle" font-weight="normal" dominant-baseline="central" letter-spacing="0.7">AA</text>
<text transform="translate(389.88 229.30) rotate(-90) scale(0.9 1)" font-size="5.2" fill="#1e1e1e" stroke="#1e1e1e" stroke-width="0.3" text-anchor="middle" font-weight="normal" dominant-baseline="central" letter-spacing="0.7">AC</text>
<text transform="translate(408.46 229.30) rotate(-90) scale(0.9 1)" font-size="5.2" fill="#1e1e1e" stroke="#1e1e1e" stroke-width="0.3" text-anchor="middle" font-weight="normal" dominant-baseline="central" letter-spacing="0.7">AG</text>
<text transform="translate(427.04 229.30) rotate(-90) scale(0.9 1)" font-size="5.2" fill="#1e1e1e" stroke="#1e1e1e" stroke-width="0.3" text-anchor="middle" font-weight="normal" dominant-baseline="central" letter-spacing="0.7">AT</text>
<text transform="translate(445.62 229.30) rotate(-90) scale(0.9 1)" font-size="5.2" fill="#1e1e1e" stroke="#1e1e1e" stroke-width="0.3" text-anchor="middle" font-weight="normal" dominant-baseline="central" letter-spacing="0.7">CA</text>
<text transform="translate(501.36 229.30) rotate(-90) scale(0.9 1)" font-size="5.2" fill="#1e1e1e" stroke="#1e1e1e" stroke-width="0.3" text-anchor="middle" font-weight="normal" dominant-baseline="central" letter-spacing="0.7">CT</text>
<text transform="translate(519.94 229.30) rotate(-90) scale(0.9 1)" font-size="5.2" fill="#1e1e1e" stroke="#1e1e1e" stroke-width="0.3" text-anchor="middle" font-weight="normal" dominant-baseline="central" letter-spacing="0.7">GA</text>
<text transform="translate(575.68 229.30) rotate(-90) scale(0.9 1)" font-size="5.2" fill="#1e1e1e" stroke="#1e1e1e" stroke-width="0.3" text-anchor="middle" font-weight="normal" dominant-baseline="central" letter-spacing="0.7">GT</text>
<text transform="translate(594.26 229.30) rotate(-90) scale(0.9 1)" font-size="5.2" fill="#1e1e1e" stroke="#1e1e1e" stroke-width="0.3" text-anchor="middle" font-weight="normal" dominant-baseline="central" letter-spacing="0.7">TA</text>
<text transform="translate(612.84 229.30) rotate(-90) scale(0.9 1)" font-size="5.2" fill="#1e1e1e" stroke="#1e1e1e" stroke-width="0.3" text-anchor="middle" font-weight="normal" dominant-baseline="central" letter-spacing="0.7">TC</text>
<text transform="translate(631.42 229.30) rotate(-90) scale(0.9 1)" font-size="5.2" fill="#1e1e1e" stroke="#1e1e1e" stroke-width="0.3" text-anchor="middle" font-weight="normal" dominant-baseline="central" letter-spacing="0.7">TG</text>
<text transform="translate(650.00 229.30) rotate(-90) scale(0.9 1)" font-size="5.2" fill="#1e1e1e" stroke="#1e1e1e" stroke-width="0.3" text-anchor="middle" font-weight="normal" dominant-baseline="central" letter-spacing="0.7">TT</text>
<text transform="translate(490.00 300.20)" font-size="6.2" fill="#1e1e1e" stroke="#1e1e1e" stroke-width="0.22" text-anchor="start" font-weight="normal" dominant-baseline="auto" textLength="42.10" lengthAdjust="spacing">Human dimers</text>
<line x1="360.60" y1="310.60" x2="360.60" y2="374.20" stroke="#6a6a6a" stroke-width="0.9"/>
<line x1="360.60" y1="374.20" x2="660.90" y2="374.20" stroke="#8a8a8a" stroke-width="0.9"/>
<line x1="357.30" y1="311.00" x2="360.60" y2="311.00" stroke="#888" stroke-width="0.6"/>
<text transform="translate(354.40 311.00) scale(0.86 1)" font-size="5.4" fill="#1e1e1e" stroke="#1e1e1e" stroke-width="0.2" text-anchor="end" font-weight="normal" dominant-baseline="central">7000</text>
<line x1="357.30" y1="319.91" x2="360.60" y2="319.91" stroke="#888" stroke-width="0.6"/>
<text transform="translate(354.40 319.91) scale(0.86 1)" font-size="5.4" fill="#1e1e1e" stroke="#1e1e1e" stroke-width="0.2" text-anchor="end" font-weight="normal" dominant-baseline="central">6000</text>
<line x1="357.30" y1="328.82" x2="360.60" y2="328.82" stroke="#888" stroke-width="0.6"/>
<text transform="translate(354.40 328.82) scale(0.86 1)" font-size="5.4" fill="#1e1e1e" stroke="#1e1e1e" stroke-width="0.2" text-anchor="end" font-weight="normal" dominant-baseline="central">5000</text>
<line x1="357.30" y1="337.73" x2="360.60" y2="337.73" stroke="#888" stroke-width="0.6"/>
<text transform="translate(354.40 337.73) scale(0.86 1)" font-size="5.4" fill="#1e1e1e" stroke="#1e1e1e" stroke-width="0.2" text-anchor="end" font-weight="normal" dominant-baseline="central">4000</text>
<line x1="357.30" y1="346.64" x2="360.60" y2="346.64" stroke="#888" stroke-width="0.6"/>
<text transform="translate(354.40 346.64) scale(0.86 1)" font-size="5.4" fill="#1e1e1e" stroke="#1e1e1e" stroke-width="0.2" text-anchor="end" font-weight="normal" dominant-baseline="central">3000</text>
<line x1="357.30" y1="355.55" x2="360.60" y2="355.55" stroke="#888" stroke-width="0.6"/>
<text transform="translate(354.40 355.55) scale(0.86 1)" font-size="5.4" fill="#1e1e1e" stroke="#1e1e1e" stroke-width="0.2" text-anchor="end" font-weight="normal" dominant-baseline="central">2000</text>
<line x1="357.30" y1="364.46" x2="360.60" y2="364.46" stroke="#888" stroke-width="0.6"/>
<text transform="translate(354.40 364.46) scale(0.86 1)" font-size="5.4" fill="#1e1e1e" stroke="#1e1e1e" stroke-width="0.2" text-anchor="end" font-weight="normal" dominant-baseline="central">1000</text>
<line x1="357.30" y1="373.37" x2="360.60" y2="373.37" stroke="#888" stroke-width="0.6"/>
<text transform="translate(354.40 373.37) scale(0.86 1)" font-size="5.4" fill="#1e1e1e" stroke="#1e1e1e" stroke-width="0.2" text-anchor="end" font-weight="normal" dominant-baseline="central">0</text>
<line x1="363.00" y1="327.20" x2="661.40" y2="327.20" stroke="#cfcfcf" stroke-width="0.6" stroke-dasharray="1.1 2.0"/>
<line x1="363.00" y1="342.20" x2="661.40" y2="342.20" stroke="#cfcfcf" stroke-width="0.6" stroke-dasharray="1.1 2.0"/>
<line x1="363.00" y1="357.20" x2="661.40" y2="357.20" stroke="#cfcfcf" stroke-width="0.6" stroke-dasharray="1.1 2.0"/>
<line x1="661.40" y1="312.40" x2="661.40" y2="372.00" stroke="#6a6a6a" stroke-width="0.9"/>
<line x1="661.40" y1="312.40" x2="664.20" y2="312.40" stroke="#888" stroke-width="0.6"/>
<text transform="translate(667.30 312.40) scale(0.9 1)" font-size="5.0" fill="#1e1e1e" stroke="#1e1e1e" stroke-width="0.2" text-anchor="start" font-weight="normal" dominant-baseline="central">180</text>
<line x1="661.40" y1="319.85" x2="664.20" y2="319.85" stroke="#888" stroke-width="0.6"/>
<text transform="translate(667.30 319.85) scale(0.9 1)" font-size="5.0" fill="#1e1e1e" stroke="#1e1e1e" stroke-width="0.2" text-anchor="start" font-weight="normal" dominant-baseline="central">135</text>
<line x1="661.40" y1="327.30" x2="664.20" y2="327.30" stroke="#888" stroke-width="0.6"/>
<text transform="translate(667.30 327.30) scale(0.9 1)" font-size="5.0" fill="#1e1e1e" stroke="#1e1e1e" stroke-width="0.2" text-anchor="start" font-weight="normal" dominant-baseline="central">90</text>
<line x1="661.40" y1="334.75" x2="664.20" y2="334.75" stroke="#888" stroke-width="0.6"/>
<text transform="translate(667.30 334.75) scale(0.9 1)" font-size="5.0" fill="#1e1e1e" stroke="#1e1e1e" stroke-width="0.2" text-anchor="start" font-weight="normal" dominant-baseline="central">45</text>
<line x1="661.40" y1="342.20" x2="664.20" y2="342.20" stroke="#888" stroke-width="0.6"/>
<text transform="translate(667.30 342.20) scale(0.9 1)" font-size="5.0" fill="#1e1e1e" stroke="#1e1e1e" stroke-width="0.2" text-anchor="start" font-weight="normal" dominant-baseline="central">0</text>
<line x1="661.40" y1="349.65" x2="664.20" y2="349.65" stroke="#888" stroke-width="0.6"/>
<text transform="translate(667.30 349.65) scale(0.9 1)" font-size="5.0" fill="#1e1e1e" stroke="#1e1e1e" stroke-width="0.2" text-anchor="start" font-weight="normal" dominant-baseline="central">−45</text>
<line x1="661.40" y1="357.10" x2="664.20" y2="357.10" stroke="#888" stroke-width="0.6"/>
<text transform="translate(667.30 357.10) scale(0.9 1)" font-size="5.0" fill="#1e1e1e" stroke="#1e1e1e" stroke-width="0.2" text-anchor="start" font-weight="normal" dominant-baseline="central">−90</text>
<line x1="661.40" y1="364.55" x2="664.20" y2="364.55" stroke="#888" stroke-width="0.6"/>
<text transform="translate(667.30 364.55) scale(0.9 1)" font-size="5.0" fill="#1e1e1e" stroke="#1e1e1e" stroke-width="0.2" text-anchor="start" font-weight="normal" dominant-baseline="central">−135</text>
<line x1="661.40" y1="372.00" x2="664.20" y2="372.00" stroke="#888" stroke-width="0.6"/>
<text transform="translate(667.30 372.00) scale(0.9 1)" font-size="5.0" fill="#1e1e1e" stroke="#1e1e1e" stroke-width="0.2" text-anchor="start" font-weight="normal" dominant-baseline="central">−180</text>
<text transform="translate(339.50 341.70) rotate(-90)" font-size="5.9" fill="#1e1e1e" stroke="#1e1e1e" stroke-width="0.2" text-anchor="middle" font-weight="normal" dominant-baseline="central" textLength="32.50" lengthAdjust="spacingAndGlyphs">PCA distance</text>
<text transform="translate(682.00 342.20) rotate(-90)" font-size="5.9" fill="#1e1e1e" stroke="#1e1e1e" stroke-width="0.2" text-anchor="middle" font-weight="normal" dominant-baseline="central" textLength="48.50" lengthAdjust="spacingAndGlyphs">PCA angle (degree)</text>
<line x1="371.40" y1="374.20" x2="371.40" y2="377.40" stroke="#888" stroke-width="0.6"/>
<text transform="translate(371.40 383.70) scale(0.88 1)" font-size="5.2" fill="#1e1e1e" stroke="#1e1e1e" stroke-width="0.2" text-anchor="middle" font-weight="normal" dominant-baseline="central">−100</text>
<line x1="399.60" y1="374.20" x2="399.60" y2="377.40" stroke="#888" stroke-width="0.6"/>
<text transform="translate(399.60 383.70) scale(0.88 1)" font-size="5.2" fill="#1e1e1e" stroke="#1e1e1e" stroke-width="0.2" text-anchor="middle" font-weight="normal" dominant-baseline="central">−80</text>
<line x1="427.70" y1="374.20" x2="427.70" y2="377.40" stroke="#888" stroke-width="0.6"/>
<text transform="translate(427.70 383.70) scale(0.88 1)" font-size="5.2" fill="#1e1e1e" stroke="#1e1e1e" stroke-width="0.2" text-anchor="middle" font-weight="normal" dominant-baseline="central">−60</text>
<line x1="455.80" y1="374.20" x2="455.80" y2="377.40" stroke="#888" stroke-width="0.6"/>
<text transform="translate(455.80 383.70) scale(0.88 1)" font-size="5.2" fill="#1e1e1e" stroke="#1e1e1e" stroke-width="0.2" text-anchor="middle" font-weight="normal" dominant-baseline="central">−40</text>
<line x1="483.90" y1="374.20" x2="483.90" y2="377.40" stroke="#888" stroke-width="0.6"/>
<text transform="translate(483.90 383.70) scale(0.88 1)" font-size="5.2" fill="#1e1e1e" stroke="#1e1e1e" stroke-width="0.2" text-anchor="middle" font-weight="normal" dominant-baseline="central">−20</text>
<line x1="512.70" y1="374.20" x2="512.70" y2="377.40" stroke="#888" stroke-width="0.6"/>
<text transform="translate(512.70 383.70) scale(0.88 1)" font-size="5.2" fill="#1e1e1e" stroke="#1e1e1e" stroke-width="0.2" text-anchor="middle" font-weight="normal" dominant-baseline="central">1</text>
<line x1="540.80" y1="374.20" x2="540.80" y2="377.40" stroke="#888" stroke-width="0.6"/>
<text transform="translate(540.80 383.70) scale(0.88 1)" font-size="5.2" fill="#1e1e1e" stroke="#1e1e1e" stroke-width="0.2" text-anchor="middle" font-weight="normal" dominant-baseline="central">21</text>
<line x1="568.90" y1="374.20" x2="568.90" y2="377.40" stroke="#888" stroke-width="0.6"/>
<text transform="translate(568.90 383.70) scale(0.88 1)" font-size="5.2" fill="#1e1e1e" stroke="#1e1e1e" stroke-width="0.2" text-anchor="middle" font-weight="normal" dominant-baseline="central">41</text>
<line x1="597.00" y1="374.20" x2="597.00" y2="377.40" stroke="#888" stroke-width="0.6"/>
<text transform="translate(597.00 383.70) scale(0.88 1)" font-size="5.2" fill="#1e1e1e" stroke="#1e1e1e" stroke-width="0.2" text-anchor="middle" font-weight="normal" dominant-baseline="central">61</text>
<line x1="625.10" y1="374.20" x2="625.10" y2="377.40" stroke="#888" stroke-width="0.6"/>
<text transform="translate(625.10 383.70) scale(0.88 1)" font-size="5.2" fill="#1e1e1e" stroke="#1e1e1e" stroke-width="0.2" text-anchor="middle" font-weight="normal" dominant-baseline="central">81</text>
<text transform="translate(511.10 395.00)" font-size="5.6" fill="#1e1e1e" stroke="#1e1e1e" stroke-width="0.2" text-anchor="middle" font-weight="normal" dominant-baseline="central" textLength="20.00" lengthAdjust="spacingAndGlyphs">positions</text>
<rect x="371.00" y="368.00" width="1.2" height="5.60" fill="#bdbff8"/><rect x="371.00" y="368.00" width="0.4" height="5.60" fill="#9294eb"/><rect x="372.40" y="368.00" width="1.2" height="5.60" fill="#bdbff8"/><rect x="372.40" y="368.00" width="0.4" height="5.60" fill="#9294eb"/><rect x="373.80" y="368.00" width="1.2" height="5.60" fill="#bdbff8"/><rect x="373.80" y="368.00" width="0.4" height="5.60" fill="#9294eb"/><rect x="375.20" y="368.00" width="1.2" height="5.60" fill="#bdbff8"/><rect x="375.20" y="368.00" width="0.4" height="5.60" fill="#9294eb"/><rect x="376.60" y="368.00" width="1.2" height="5.60" fill="#bdbff8"/><rect x="376.60" y="368.00" width="0.4" height="5.60" fill="#9294eb"/><rect x="378.00" y="368.00" width="1.2" height="5.60" fill="#bdbff8"/><rect x="378.00" y="368.00" width="0.4" height="5.60" fill="#9294eb"/><rect x="379.40" y="368.00" width="1.2" height="5.60" fill="#bdbff8"/><rect x="379.40" y="368.00" width="0.4" height="5.60" fill="#9294eb"/><rect x="380.80" y="368.00" width="1.2" height="5.60" fill="#bdbff8"/><rect x="380.80" y="368.00" width="0.4" height="5.60" fill="#9294eb"/><rect x="382.20" y="368.00" width="1.2" height="5.60" fill="#bdbff8"/><rect x="382.20" y="368.00" width="0.4" height="5.60" fill="#9294eb"/><rect x="383.60" y="368.00" width="1.2" height="5.60" fill="#bdbff8"/><rect x="383.60" y="368.00" width="0.4" height="5.60" fill="#9294eb"/><rect x="385.00" y="368.00" width="1.2" height="5.60" fill="#bdbff8"/><rect x="385.00" y="368.00" width="0.4" height="5.60" fill="#9294eb"/><rect x="386.40" y="368.00" width="1.2" height="5.60" fill="#bdbff8"/><rect x="386.40" y="368.00" width="0.4" height="5.60" fill="#9294eb"/><rect x="387.80" y="368.64" width="1.2" height="4.96" fill="#bdbff8"/><rect x="387.80" y="368.64" width="0.4" height="4.96" fill="#9294eb"/><rect x="389.20" y="369.60" width="1.2" height="4.00" fill="#bdbff8"/><rect x="389.20" y="369.60" width="0.4" height="4.00" fill="#9294eb"/><rect x="390.60" y="369.60" width="1.2" height="4.00" fill="#bdbff8"/><rect x="390.60" y="369.60" width="0.4" height="4.00" fill="#9294eb"/><rect x="392.00" y="369.60" width="1.2" height="4.00" fill="#bdbff8"/><rect x="392.00" y="369.60" width="0.4" height="4.00" fill="#9294eb"/><rect x="393.40" y="369.60" width="1.2" height="4.00" fill="#bdbff8"/><rect x="393.40" y="369.60" width="0.4" height="4.00" fill="#9294eb"/><rect x="394.80" y="369.60" width="1.2" height="4.00" fill="#bdbff8"/><rect x="394.80" y="369.60" width="0.4" height="4.00" fill="#9294eb"/><rect x="396.20" y="369.60" width="1.2" height="4.00" fill="#bdbff8"/><rect x="396.20" y="369.60" width="0.4" height="4.00" fill="#9294eb"/><rect x="397.60" y="369.60" width="1.2" height="4.00" fill="#bdbff8"/><rect x="397.60" y="369.60" width="0.4" height="4.00" fill="#9294eb"/><rect x="399.00" y="369.60" width="1.2" height="4.00" fill="#bdbff8"/><rect x="399.00" y="369.60" width="0.4" height="4.00" fill="#9294eb"/><rect x="400.40" y="369.60" width="1.2" height="4.00" fill="#bdbff8"/><rect x="400.40" y="369.60" width="0.4" height="4.00" fill="#9294eb"/><rect x="401.80" y="369.60" width="1.2" height="4.00" fill="#bdbff8"/><rect x="401.80" y="369.60" width="0.4" height="4.00" fill="#9294eb"/><rect x="403.20" y="369.60" width="1.2" height="4.00" fill="#bdbff8"/><rect x="403.20" y="369.60" width="0.4" height="4.00" fill="#9294eb"/><rect x="404.60" y="369.60" width="1.2" height="4.00" fill="#bdbff8"/><rect x="404.60" y="369.60" width="0.4" height="4.00" fill="#9294eb"/><rect x="406.00" y="369.60" width="1.2" height="4.00" fill="#bdbff8"/><rect x="406.00" y="369.60" width="0.4" height="4.00" fill="#9294eb"/><rect x="407.40" y="369.60" width="1.2" height="4.00" fill="#bdbff8"/><rect x="407.40" y="369.60" width="0.4" height="4.00" fill="#9294eb"/><rect x="408.80" y="369.60" width="1.2" height="4.00" fill="#bdbff8"/><rect x="408.80" y="369.60" width="0.4" height="4.00" fill="#9294eb"/><rect x="410.20" y="369.60" width="1.2" height="4.00" fill="#bdbff8"/><rect x="410.20" y="369.60" width="0.4" height="4.00" fill="#9294eb"/><rect x="411.60" y="369.60" width="1.2" height="4.00" fill="#bdbff8"/><rect x="411.60" y="369.60" width="0.4" height="4.00" fill="#9294eb"/><rect x="413.00" y="369.60" width="1.2" height="4.00" fill="#bdbff8"/><rect x="413.00" y="369.60" width="0.4" height="4.00" fill="#9294eb"/><rect x="414.40" y="369.60" width="1.2" height="4.00" fill="#bdbff8"/><rect x="414.40" y="369.60" width="0.4" height="4.00" fill="#9294eb"/><rect x="415.80" y="370.20" width="1.2" height="3.40" fill="#bdbff8"/><rect x="415.80" y="370.20" width="0.4" height="3.40" fill="#9294eb"/><rect x="417.20" y="371.10" width="1.2" height="2.50" fill="#bdbff8"/><rect x="417.20" y="371.10" width="0.4" height="2.50" fill="#9294eb"/><rect x="418.60" y="371.10" width="1.2" height="2.50" fill="#bdbff8"/><rect x="418.60" y="371.10" width="0.4" height="2.50" fill="#9294eb"/><rect x="420.00" y="371.10" width="1.2" height="2.50" fill="#bdbff8"/><rect x="420.00" y="371.10" width="0.4" height="2.50" fill="#9294eb"/><rect x="421.40" y="371.10" width="1.2" height="2.50" fill="#bdbff8"/><rect x="421.40" y="371.10" width="0.4" height="2.50" fill="#9294eb"/><rect x="422.80" y="371.10" width="1.2" height="2.50" fill="#bdbff8"/><rect x="422.80" y="371.10" width="0.4" height="2.50" fill="#9294eb"/><rect x="424.20" y="371.10" width="1.2" height="2.50" fill="#bdbff8"/><rect x="424.20" y="371.10" width="0.4" height="2.50" fill="#9294eb"/><rect x="425.60" y="371.10" width="1.2" height="2.50" fill="#bdbff8"/><rect x="425.60" y="371.10" width="0.4" height="2.50" fill="#9294eb"/><rect x="427.00" y="371.10" width="1.2" height="2.50" fill="#bdbff8"/><rect x="427.00" y="371.10" width="0.4" height="2.50" fill="#9294eb"/><rect x="428.40" y="371.10" width="1.2" height="2.50" fill="#bdbff8"/><rect x="428.40" y="371.10" width="0.4" height="2.50" fill="#9294eb"/><rect x="429.80" y="371.10" width="1.2" height="2.50" fill="#bdbff8"/><rect x="429.80" y="371.10" width="0.4" height="2.50" fill="#9294eb"/><rect x="431.20" y="371.10" width="1.2" height="2.50" fill="#bdbff8"/><rect x="431.20" y="371.10" width="0.4" height="2.50" fill="#9294eb"/><rect x="432.60" y="371.10" width="1.2" height="2.50" fill="#bdbff8"/><rect x="432.60" y="371.10" width="0.4" height="2.50" fill="#9294eb"/><rect x="434.00" y="371.10" width="1.2" height="2.50" fill="#bdbff8"/><rect x="434.00" y="371.10" width="0.4" height="2.50" fill="#9294eb"/><rect x="435.40" y="371.10" width="1.2" height="2.50" fill="#bdbff8"/><rect x="435.40" y="371.10" width="0.4" height="2.50" fill="#9294eb"/><rect x="436.80" y="371.10" width="1.2" height="2.50" fill="#bdbff8"/><rect x="436.80" y="371.10" width="0.4" height="2.50" fill="#9294eb"/><rect x="438.20" y="371.10" width="1.2" height="2.50" fill="#bdbff8"/><rect x="438.20" y="371.10" width="0.4" height="2.50" fill="#9294eb"/><rect x="439.60" y="371.10" width="1.2" height="2.50" fill="#bdbff8"/><rect x="439.60" y="371.10" width="0.4" height="2.50" fill="#9294eb"/><rect x="441.00" y="371.10" width="1.2" height="2.50" fill="#bdbff8"/><rect x="441.00" y="371.10" width="0.4" height="2.50" fill="#9294eb"/><rect x="442.40" y="371.10" width="1.2" height="2.50" fill="#bdbff8"/><rect x="442.40" y="371.10" width="0.4" height="2.50" fill="#9294eb"/><rect x="443.80" y="371.10" width="1.2" height="2.50" fill="#bdbff8"/><rect x="443.80" y="371.10" width="0.4" height="2.50" fill="#9294eb"/><rect x="445.20" y="371.10" width="1.2" height="2.50" fill="#bdbff8"/><rect x="445.20" y="371.10" width="0.4" height="2.50" fill="#9294eb"/><rect x="446.60" y="371.10" width="1.2" height="2.50" fill="#bdbff8"/><rect x="446.60" y="371.10" width="0.4" height="2.50" fill="#9294eb"/><rect x="448.00" y="371.10" width="1.2" height="2.50" fill="#bdbff8"/><rect x="448.00" y="371.10" width="0.4" height="2.50" fill="#9294eb"/><rect x="449.40" y="370.00" width="1.2" height="3.60" fill="#bdbff8"/><rect x="449.40" y="370.00" width="0.4" height="3.60" fill="#9294eb"/><rect x="450.80" y="370.00" width="1.2" height="3.60" fill="#bdbff8"/><rect x="450.80" y="370.00" width="0.4" height="3.60" fill="#9294eb"/><rect x="452.20" y="370.00" width="1.2" height="3.60" fill="#bdbff8"/><rect x="452.20" y="370.00" width="0.4" height="3.60" fill="#9294eb"/><rect x="453.60" y="370.00" width="1.2" height="3.60" fill="#bdbff8"/><rect x="453.60" y="370.00" width="0.4" height="3.60" fill="#9294eb"/><rect x="455.00" y="370.00" width="1.2" height="3.60" fill="#bdbff8"/><rect x="455.00" y="370.00" width="0.4" height="3.60" fill="#9294eb"/><rect x="456.40" y="370.00" width="1.2" height="3.60" fill="#bdbff8"/><rect x="456.40" y="370.00" width="0.4" height="3.60" fill="#9294eb"/><rect x="457.80" y="370.00" width="1.2" height="3.60" fill="#bdbff8"/><rect x="457.80" y="370.00" width="0.4" height="3.60" fill="#9294eb"/><rect x="459.20" y="369.69" width="1.2" height="3.91" fill="#bdbff8"/><rect x="459.20" y="369.69" width="0.4" height="3.91" fill="#9294eb"/><rect x="460.60" y="368.81" width="1.2" height="4.79" fill="#bdbff8"/><rect x="460.60" y="368.81" width="0.4" height="4.79" fill="#9294eb"/><rect x="462.00" y="367.99" width="1.2" height="5.61" fill="#bdbff8"/><rect x="462.00" y="367.99" width="0.4" height="5.61" fill="#9294eb"/><rect x="463.40" y="367.20" width="1.2" height="6.40" fill="#bdbff8"/><rect x="463.40" y="367.20" width="0.4" height="6.40" fill="#9294eb"/><rect x="464.80" y="366.10" width="1.2" height="7.50" fill="#bdbff8"/><rect x="464.80" y="366.10" width="0.4" height="7.50" fill="#9294eb"/><rect x="466.20" y="364.90" width="1.2" height="8.70" fill="#bdbff8"/><rect x="466.20" y="364.90" width="0.4" height="8.70" fill="#9294eb"/><rect x="467.60" y="363.50" width="1.2" height="10.10" fill="#bdbff8"/><rect x="467.60" y="363.50" width="0.4" height="10.10" fill="#9294eb"/><rect x="469.00" y="363.20" width="1.2" height="10.40" fill="#bdbff8"/><rect x="469.00" y="363.20" width="0.4" height="10.40" fill="#9294eb"/><rect x="470.40" y="363.51" width="1.2" height="10.09" fill="#bdbff8"/><rect x="470.40" y="363.51" width="0.4" height="10.09" fill="#9294eb"/><rect x="471.80" y="361.04" width="1.2" height="12.56" fill="#bdbff8"/><rect x="471.80" y="361.04" width="0.4" height="12.56" fill="#9294eb"/><rect x="473.20" y="357.68" width="1.2" height="15.92" fill="#bdbff8"/><rect x="473.20" y="357.68" width="0.4" height="15.92" fill="#9294eb"/><rect x="474.60" y="353.52" width="1.2" height="20.08" fill="#bdbff8"/><rect x="474.60" y="353.52" width="0.4" height="20.08" fill="#9294eb"/><rect x="476.00" y="347.58" width="1.2" height="26.02" fill="#bdbff8"/><rect x="476.00" y="347.58" width="0.4" height="26.02" fill="#9294eb"/><rect x="477.40" y="342.55" width="1.2" height="31.05" fill="#bdbff8"/><rect x="477.40" y="342.55" width="0.4" height="31.05" fill="#9294eb"/><rect x="478.80" y="334.85" width="1.2" height="38.75" fill="#bdbff8"/><rect x="478.80" y="334.85" width="0.4" height="38.75" fill="#9294eb"/><rect x="480.20" y="326.50" width="1.2" height="47.10" fill="#bdbff8"/><rect x="480.20" y="326.50" width="0.4" height="47.10" fill="#9294eb"/><rect x="481.60" y="320.10" width="1.2" height="53.50" fill="#bdbff8"/><rect x="481.60" y="320.10" width="0.4" height="53.50" fill="#9294eb"/><rect x="483.00" y="315.43" width="1.2" height="58.17" fill="#bdbff8"/><rect x="483.00" y="315.43" width="0.4" height="58.17" fill="#9294eb"/><rect x="484.40" y="313.01" width="1.2" height="60.59" fill="#bdbff8"/><rect x="484.40" y="313.01" width="0.4" height="60.59" fill="#9294eb"/><rect x="485.80" y="315.56" width="1.2" height="58.04" fill="#bdbff8"/><rect x="485.80" y="315.56" width="0.4" height="58.04" fill="#9294eb"/><rect x="487.20" y="320.58" width="1.2" height="53.02" fill="#bdbff8"/><rect x="487.20" y="320.58" width="0.4" height="53.02" fill="#9294eb"/><rect x="488.60" y="325.43" width="1.2" height="48.17" fill="#bdbff8"/><rect x="488.60" y="325.43" width="0.4" height="48.17" fill="#9294eb"/><rect x="490.00" y="332.60" width="1.2" height="41.00" fill="#bdbff8"/><rect x="490.00" y="332.60" width="0.4" height="41.00" fill="#9294eb"/><rect x="491.40" y="345.88" width="1.2" height="27.72" fill="#bdbff8"/><rect x="491.40" y="345.88" width="0.4" height="27.72" fill="#9294eb"/><rect x="492.80" y="358.50" width="1.2" height="15.10" fill="#bdbff8"/><rect x="492.80" y="358.50" width="0.4" height="15.10" fill="#9294eb"/><rect x="494.20" y="362.85" width="1.2" height="10.75" fill="#bdbff8"/><rect x="494.20" y="362.85" width="0.4" height="10.75" fill="#9294eb"/><rect x="495.60" y="358.80" width="1.2" height="14.80" fill="#bdbff8"/><rect x="495.60" y="358.80" width="0.4" height="14.80" fill="#9294eb"/><rect x="497.00" y="353.20" width="1.2" height="20.40" fill="#bdbff8"/><rect x="497.00" y="353.20" width="0.4" height="20.40" fill="#9294eb"/><rect x="498.40" y="352.55" width="1.2" height="21.05" fill="#bdbff8"/><rect x="498.40" y="352.55" width="0.4" height="21.05" fill="#9294eb"/><rect x="499.80" y="358.51" width="1.2" height="15.09" fill="#bdbff8"/><rect x="499.80" y="358.51" width="0.4" height="15.09" fill="#9294eb"/><rect x="501.20" y="359.52" width="1.2" height="14.08" fill="#bdbff8"/><rect x="501.20" y="359.52" width="0.4" height="14.08" fill="#9294eb"/><rect x="502.60" y="354.17" width="1.2" height="19.43" fill="#bdbff8"/><rect x="502.60" y="354.17" width="0.4" height="19.43" fill="#9294eb"/><rect x="504.00" y="360.60" width="1.2" height="13.00" fill="#bdbff8"/><rect x="504.00" y="360.60" width="0.4" height="13.00" fill="#9294eb"/><rect x="505.40" y="365.77" width="1.2" height="7.83" fill="#bdbff8"/><rect x="505.40" y="365.77" width="0.4" height="7.83" fill="#9294eb"/><rect x="506.80" y="363.50" width="1.2" height="10.10" fill="#bdbff8"/><rect x="506.80" y="363.50" width="0.4" height="10.10" fill="#9294eb"/><rect x="508.20" y="356.77" width="1.2" height="16.83" fill="#bdbff8"/><rect x="508.20" y="356.77" width="0.4" height="16.83" fill="#9294eb"/><rect x="509.60" y="331.10" width="1.2" height="42.50" fill="#bdbff8"/><rect x="509.60" y="331.10" width="0.4" height="42.50" fill="#9294eb"/><rect x="512.40" y="345.90" width="1.2" height="27.70" fill="#bdbff8"/><rect x="512.40" y="345.90" width="0.4" height="27.70" fill="#9294eb"/><rect x="513.80" y="360.50" width="1.2" height="13.10" fill="#bdbff8"/><rect x="513.80" y="360.50" width="0.4" height="13.10" fill="#9294eb"/><rect x="515.20" y="360.34" width="1.2" height="13.26" fill="#bdbff8"/><rect x="515.20" y="360.34" width="0.4" height="13.26" fill="#9294eb"/><rect x="516.60" y="359.36" width="1.2" height="14.24" fill="#bdbff8"/><rect x="516.60" y="359.36" width="0.4" height="14.24" fill="#9294eb"/><rect x="518.00" y="358.38" width="1.2" height="15.22" fill="#bdbff8"/><rect x="518.00" y="358.38" width="0.4" height="15.22" fill="#9294eb"/><rect x="519.40" y="356.83" width="1.2" height="16.77" fill="#bdbff8"/><rect x="519.40" y="356.83" width="0.4" height="16.77" fill="#9294eb"/><rect x="520.80" y="355.21" width="1.2" height="18.39" fill="#bdbff8"/><rect x="520.80" y="355.21" width="0.4" height="18.39" fill="#9294eb"/><rect x="522.20" y="353.96" width="1.2" height="19.64" fill="#bdbff8"/><rect x="522.20" y="353.96" width="0.4" height="19.64" fill="#9294eb"/><rect x="523.60" y="353.40" width="1.2" height="20.20" fill="#bdbff8"/><rect x="523.60" y="353.40" width="0.4" height="20.20" fill="#9294eb"/><rect x="525.00" y="354.80" width="1.2" height="18.80" fill="#bdbff8"/><rect x="525.00" y="354.80" width="0.4" height="18.80" fill="#9294eb"/><rect x="526.40" y="356.75" width="1.2" height="16.85" fill="#bdbff8"/><rect x="526.40" y="356.75" width="0.4" height="16.85" fill="#9294eb"/><rect x="527.80" y="358.47" width="1.2" height="15.13" fill="#bdbff8"/><rect x="527.80" y="358.47" width="0.4" height="15.13" fill="#9294eb"/><rect x="529.20" y="359.06" width="1.2" height="14.54" fill="#bdbff8"/><rect x="529.20" y="359.06" width="0.4" height="14.54" fill="#9294eb"/><rect x="530.60" y="355.13" width="1.2" height="18.47" fill="#bdbff8"/><rect x="530.60" y="355.13" width="0.4" height="18.47" fill="#9294eb"/><rect x="532.00" y="352.61" width="1.2" height="20.99" fill="#bdbff8"/><rect x="532.00" y="352.61" width="0.4" height="20.99" fill="#9294eb"/><rect x="533.40" y="351.16" width="1.2" height="22.44" fill="#bdbff8"/><rect x="533.40" y="351.16" width="0.4" height="22.44" fill="#9294eb"/><rect x="534.80" y="350.14" width="1.2" height="23.46" fill="#bdbff8"/><rect x="534.80" y="350.14" width="0.4" height="23.46" fill="#9294eb"/><rect x="536.20" y="349.64" width="1.2" height="23.96" fill="#bdbff8"/><rect x="536.20" y="349.64" width="0.4" height="23.96" fill="#9294eb"/><rect x="537.60" y="349.59" width="1.2" height="24.01" fill="#bdbff8"/><rect x="537.60" y="349.59" width="0.4" height="24.01" fill="#9294eb"/><rect x="539.00" y="350.11" width="1.2" height="23.50" fill="#bdbff8"/><rect x="539.00" y="350.11" width="0.4" height="23.50" fill="#9294eb"/><rect x="540.40" y="351.58" width="1.2" height="22.02" fill="#bdbff8"/><rect x="540.40" y="351.58" width="0.4" height="22.02" fill="#9294eb"/><rect x="541.80" y="353.13" width="1.2" height="20.47" fill="#bdbff8"/><rect x="541.80" y="353.13" width="0.4" height="20.47" fill="#9294eb"/><rect x="543.20" y="355.02" width="1.2" height="18.58" fill="#bdbff8"/><rect x="543.20" y="355.02" width="0.4" height="18.58" fill="#9294eb"/><rect x="544.60" y="357.89" width="1.2" height="15.71" fill="#bdbff8"/><rect x="544.60" y="357.89" width="0.4" height="15.71" fill="#9294eb"/><rect x="546.00" y="361.71" width="1.2" height="11.89" fill="#bdbff8"/><rect x="546.00" y="361.71" width="0.4" height="11.89" fill="#9294eb"/><rect x="547.40" y="365.35" width="1.2" height="8.25" fill="#bdbff8"/><rect x="547.40" y="365.35" width="0.4" height="8.25" fill="#9294eb"/><rect x="548.80" y="368.46" width="1.2" height="5.14" fill="#bdbff8"/><rect x="548.80" y="368.46" width="0.4" height="5.14" fill="#9294eb"/><rect x="550.20" y="369.35" width="1.2" height="4.25" fill="#bdbff8"/><rect x="550.20" y="369.35" width="0.4" height="4.25" fill="#9294eb"/><rect x="551.60" y="369.51" width="1.2" height="4.09" fill="#bdbff8"/><rect x="551.60" y="369.51" width="0.4" height="4.09" fill="#9294eb"/><rect x="553.00" y="369.39" width="1.2" height="4.21" fill="#bdbff8"/><rect x="553.00" y="369.39" width="0.4" height="4.21" fill="#9294eb"/><rect x="554.40" y="369.26" width="1.2" height="4.34" fill="#bdbff8"/><rect x="554.40" y="369.26" width="0.4" height="4.34" fill="#9294eb"/><rect x="555.80" y="369.14" width="1.2" height="4.46" fill="#bdbff8"/><rect x="555.80" y="369.14" width="0.4" height="4.46" fill="#9294eb"/><rect x="557.20" y="369.02" width="1.2" height="4.58" fill="#bdbff8"/><rect x="557.20" y="369.02" width="0.4" height="4.58" fill="#9294eb"/><rect x="558.60" y="368.89" width="1.2" height="4.71" fill="#bdbff8"/><rect x="558.60" y="368.89" width="0.4" height="4.71" fill="#9294eb"/><rect x="560.00" y="368.77" width="1.2" height="4.83" fill="#bdbff8"/><rect x="560.00" y="368.77" width="0.4" height="4.83" fill="#9294eb"/><rect x="561.40" y="368.64" width="1.2" height="4.96" fill="#bdbff8"/><rect x="561.40" y="368.64" width="0.4" height="4.96" fill="#9294eb"/><rect x="562.80" y="368.48" width="1.2" height="5.12" fill="#bdbff8"/><rect x="562.80" y="368.48" width="0.4" height="5.12" fill="#9294eb"/><rect x="564.20" y="368.29" width="1.2" height="5.31" fill="#bdbff8"/><rect x="564.20" y="368.29" width="0.4" height="5.31" fill="#9294eb"/><rect x="565.60" y="368.11" width="1.2" height="5.49" fill="#bdbff8"/><rect x="565.60" y="368.11" width="0.4" height="5.49" fill="#9294eb"/><rect x="567.00" y="367.92" width="1.2" height="5.68" fill="#bdbff8"/><rect x="567.00" y="367.92" width="0.4" height="5.68" fill="#9294eb"/><rect x="568.40" y="367.73" width="1.2" height="5.87" fill="#bdbff8"/><rect x="568.40" y="367.73" width="0.4" height="5.87" fill="#9294eb"/><rect x="569.80" y="367.55" width="1.2" height="6.05" fill="#bdbff8"/><rect x="569.80" y="367.55" width="0.4" height="6.05" fill="#9294eb"/><rect x="571.20" y="367.36" width="1.2" height="6.24" fill="#bdbff8"/><rect x="571.20" y="367.36" width="0.4" height="6.24" fill="#9294eb"/><rect x="572.60" y="367.19" width="1.2" height="6.41" fill="#bdbff8"/><rect x="572.60" y="367.19" width="0.4" height="6.41" fill="#9294eb"/><rect x="574.00" y="367.14" width="1.2" height="6.46" fill="#bdbff8"/><rect x="574.00" y="367.14" width="0.4" height="6.46" fill="#9294eb"/><rect x="575.40" y="367.09" width="1.2" height="6.51" fill="#bdbff8"/><rect x="575.40" y="367.09" width="0.4" height="6.51" fill="#9294eb"/><rect x="576.80" y="367.03" width="1.2" height="6.57" fill="#bdbff8"/><rect x="576.80" y="367.03" width="0.4" height="6.57" fill="#9294eb"/><rect x="578.20" y="366.98" width="1.2" height="6.62" fill="#bdbff8"/><rect x="578.20" y="366.98" width="0.4" height="6.62" fill="#9294eb"/><rect x="579.60" y="366.93" width="1.2" height="6.67" fill="#bdbff8"/><rect x="579.60" y="366.93" width="0.4" height="6.67" fill="#9294eb"/><rect x="581.00" y="366.87" width="1.2" height="6.73" fill="#bdbff8"/><rect x="581.00" y="366.87" width="0.4" height="6.73" fill="#9294eb"/><rect x="582.40" y="366.82" width="1.2" height="6.78" fill="#bdbff8"/><rect x="582.40" y="366.82" width="0.4" height="6.78" fill="#9294eb"/><rect x="583.80" y="366.77" width="1.2" height="6.83" fill="#bdbff8"/><rect x="583.80" y="366.77" width="0.4" height="6.83" fill="#9294eb"/><rect x="585.20" y="366.71" width="1.2" height="6.89" fill="#bdbff8"/><rect x="585.20" y="366.71" width="0.4" height="6.89" fill="#9294eb"/><rect x="586.60" y="366.66" width="1.2" height="6.94" fill="#bdbff8"/><rect x="586.60" y="366.66" width="0.4" height="6.94" fill="#9294eb"/><rect x="588.00" y="366.61" width="1.2" height="6.99" fill="#bdbff8"/><rect x="588.00" y="366.61" width="0.4" height="6.99" fill="#9294eb"/><rect x="589.40" y="366.58" width="1.2" height="7.02" fill="#bdbff8"/><rect x="589.40" y="366.58" width="0.4" height="7.02" fill="#9294eb"/><rect x="590.80" y="366.56" width="1.2" height="7.04" fill="#bdbff8"/><rect x="590.80" y="366.56" width="0.4" height="7.04" fill="#9294eb"/><rect x="592.20" y="366.53" width="1.2" height="7.07" fill="#bdbff8"/><rect x="592.20" y="366.53" width="0.4" height="7.07" fill="#9294eb"/><rect x="593.60" y="366.51" width="1.2" height="7.09" fill="#bdbff8"/><rect x="593.60" y="366.51" width="0.4" height="7.09" fill="#9294eb"/><rect x="595.00" y="366.48" width="1.2" height="7.12" fill="#bdbff8"/><rect x="595.00" y="366.48" width="0.4" height="7.12" fill="#9294eb"/><rect x="596.40" y="366.46" width="1.2" height="7.14" fill="#bdbff8"/><rect x="596.40" y="366.46" width="0.4" height="7.14" fill="#9294eb"/><rect x="597.80" y="366.44" width="1.2" height="7.16" fill="#bdbff8"/><rect x="597.80" y="366.44" width="0.4" height="7.16" fill="#9294eb"/><rect x="599.20" y="366.41" width="1.2" height="7.19" fill="#bdbff8"/><rect x="599.20" y="366.41" width="0.4" height="7.19" fill="#9294eb"/><rect x="600.60" y="366.39" width="1.2" height="7.21" fill="#bdbff8"/><rect x="600.60" y="366.39" width="0.4" height="7.21" fill="#9294eb"/><rect x="602.00" y="366.36" width="1.2" height="7.24" fill="#bdbff8"/><rect x="602.00" y="366.36" width="0.4" height="7.24" fill="#9294eb"/><rect x="603.40" y="366.34" width="1.2" height="7.26" fill="#bdbff8"/><rect x="603.40" y="366.34" width="0.4" height="7.26" fill="#9294eb"/><rect x="604.80" y="366.32" width="1.2" height="7.28" fill="#bdbff8"/><rect x="604.80" y="366.32" width="0.4" height="7.28" fill="#9294eb"/><rect x="606.20" y="366.27" width="1.2" height="7.33" fill="#bdbff8"/><rect x="606.20" y="366.27" width="0.4" height="7.33" fill="#9294eb"/><rect x="607.60" y="366.20" width="1.2" height="7.40" fill="#bdbff8"/><rect x="607.60" y="366.20" width="0.4" height="7.40" fill="#9294eb"/><rect x="609.00" y="366.13" width="1.2" height="7.47" fill="#bdbff8"/><rect x="609.00" y="366.13" width="0.4" height="7.47" fill="#9294eb"/><rect x="610.40" y="366.06" width="1.2" height="7.54" fill="#bdbff8"/><rect x="610.40" y="366.06" width="0.4" height="7.54" fill="#9294eb"/><rect x="611.80" y="365.99" width="1.2" height="7.61" fill="#bdbff8"/><rect x="611.80" y="365.99" width="0.4" height="7.61" fill="#9294eb"/><rect x="613.20" y="365.91" width="1.2" height="7.69" fill="#bdbff8"/><rect x="613.20" y="365.91" width="0.4" height="7.69" fill="#9294eb"/><rect x="614.60" y="365.84" width="1.2" height="7.76" fill="#bdbff8"/><rect x="614.60" y="365.84" width="0.4" height="7.76" fill="#9294eb"/><rect x="616.00" y="365.77" width="1.2" height="7.83" fill="#bdbff8"/><rect x="616.00" y="365.77" width="0.4" height="7.83" fill="#9294eb"/><rect x="617.40" y="365.70" width="1.2" height="7.90" fill="#bdbff8"/><rect x="617.40" y="365.70" width="0.4" height="7.90" fill="#9294eb"/><rect x="618.80" y="365.63" width="1.2" height="7.97" fill="#bdbff8"/><rect x="618.80" y="365.63" width="0.4" height="7.97" fill="#9294eb"/><rect x="620.20" y="365.55" width="1.2" height="8.05" fill="#bdbff8"/><rect x="620.20" y="365.55" width="0.4" height="8.05" fill="#9294eb"/><rect x="621.60" y="365.48" width="1.2" height="8.12" fill="#bdbff8"/><rect x="621.60" y="365.48" width="0.4" height="8.12" fill="#9294eb"/><rect x="623.00" y="365.41" width="1.2" height="8.19" fill="#bdbff8"/><rect x="623.00" y="365.41" width="0.4" height="8.19" fill="#9294eb"/><rect x="624.40" y="365.38" width="1.2" height="8.22" fill="#bdbff8"/><rect x="624.40" y="365.38" width="0.4" height="8.22" fill="#9294eb"/><rect x="625.80" y="365.35" width="1.2" height="8.25" fill="#bdbff8"/><rect x="625.80" y="365.35" width="0.4" height="8.25" fill="#9294eb"/><rect x="627.20" y="365.32" width="1.2" height="8.28" fill="#bdbff8"/><rect x="627.20" y="365.32" width="0.4" height="8.28" fill="#9294eb"/><rect x="628.60" y="365.30" width="1.2" height="8.30" fill="#bdbff8"/><rect x="628.60" y="365.30" width="0.4" height="8.30" fill="#9294eb"/><rect x="630.00" y="365.27" width="1.2" height="8.33" fill="#bdbff8"/><rect x="630.00" y="365.27" width="0.4" height="8.33" fill="#9294eb"/><rect x="631.40" y="365.24" width="1.2" height="8.36" fill="#bdbff8"/><rect x="631.40" y="365.24" width="0.4" height="8.36" fill="#9294eb"/><rect x="632.80" y="365.22" width="1.2" height="8.38" fill="#bdbff8"/><rect x="632.80" y="365.22" width="0.4" height="8.38" fill="#9294eb"/><rect x="634.20" y="365.19" width="1.2" height="8.41" fill="#bdbff8"/><rect x="634.20" y="365.19" width="0.4" height="8.41" fill="#9294eb"/><rect x="635.60" y="365.16" width="1.2" height="8.44" fill="#bdbff8"/><rect x="635.60" y="365.16" width="0.4" height="8.44" fill="#9294eb"/><rect x="637.00" y="365.14" width="1.2" height="8.46" fill="#bdbff8"/><rect x="637.00" y="365.14" width="0.4" height="8.46" fill="#9294eb"/><rect x="638.40" y="365.11" width="1.2" height="8.49" fill="#bdbff8"/><rect x="638.40" y="365.11" width="0.4" height="8.49" fill="#9294eb"/><rect x="639.80" y="365.08" width="1.2" height="8.52" fill="#bdbff8"/><rect x="639.80" y="365.08" width="0.4" height="8.52" fill="#9294eb"/><rect x="641.20" y="365.06" width="1.2" height="8.54" fill="#bdbff8"/><rect x="641.20" y="365.06" width="0.4" height="8.54" fill="#9294eb"/><rect x="642.60" y="365.03" width="1.2" height="8.57" fill="#bdbff8"/><rect x="642.60" y="365.03" width="0.4" height="8.57" fill="#9294eb"/><rect x="644.00" y="365.00" width="1.2" height="8.60" fill="#bdbff8"/><rect x="644.00" y="365.00" width="0.4" height="8.60" fill="#9294eb"/><rect x="645.40" y="364.98" width="1.2" height="8.62" fill="#bdbff8"/><rect x="645.40" y="364.98" width="0.4" height="8.62" fill="#9294eb"/><rect x="646.80" y="364.95" width="1.2" height="8.65" fill="#bdbff8"/><rect x="646.80" y="364.95" width="0.4" height="8.65" fill="#9294eb"/><rect x="648.20" y="364.92" width="1.2" height="8.68" fill="#bdbff8"/><rect x="648.20" y="364.92" width="0.4" height="8.68" fill="#9294eb"/><rect x="649.60" y="364.90" width="1.2" height="8.70" fill="#bdbff8"/><rect x="649.60" y="364.90" width="0.4" height="8.70" fill="#9294eb"/>
<polyline points="469.00,335.50 471.00,337.00 473.00,338.40 475.00,339.50 477.20,340.30 480.00,340.90 484.00,341.20 488.00,341.20 492.30,341.30" fill="none" stroke="#111" stroke-width="1.3" stroke-linecap="round" stroke-linejoin="round"/>
<polyline points="496.20,324.90 497.20,323.30 498.60,322.80 499.90,323.40 500.70,324.90" fill="none" stroke="#111" stroke-width="1.4" stroke-linecap="round" stroke-linejoin="round"/>
<polyline points="517.00,314.50 518.20,313.50 521.30,314.80 525.20,317.10 528.00,318.40 531.40,319.40 535.00,320.60 538.40,321.30 543.10,321.30 546.00,320.30 547.70,319.40" fill="none" stroke="#111" stroke-width="1.3" stroke-linecap="round" stroke-linejoin="round"/>
<circle cx="493.20" cy="337.70" r="0.85" fill="#111"/>
<circle cx="501.60" cy="337.40" r="0.85" fill="#111"/>
<circle cx="503.00" cy="341.60" r="0.85" fill="#111"/>
<circle cx="504.30" cy="343.00" r="0.85" fill="#111"/>
<circle cx="508.60" cy="340.10" r="0.85" fill="#111"/>
<circle cx="509.90" cy="344.50" r="0.85" fill="#111"/>
<circle cx="512.90" cy="353.40" r="0.85" fill="#111"/>
<circle cx="515.00" cy="319.30" r="0.85" fill="#111"/>
<circle cx="515.60" cy="322.00" r="0.85" fill="#111"/>
<text transform="translate(500.60 412.70)" font-size="6.2" fill="#1e1e1e" stroke="#1e1e1e" stroke-width="0.22" text-anchor="start" font-weight="normal" dominant-baseline="auto" textLength="20.50" lengthAdjust="spacing">Human</text>
<line x1="360.60" y1="422.30" x2="360.60" y2="486.50" stroke="#6a6a6a" stroke-width="0.9"/>
<line x1="360.60" y1="486.50" x2="660.90" y2="486.50" stroke="#8a8a8a" stroke-width="0.9"/>
<line x1="357.30" y1="427.50" x2="360.60" y2="427.50" stroke="#888" stroke-width="0.6"/>
<text transform="translate(354.40 427.50) scale(0.86 1)" font-size="5.4" fill="#1e1e1e" stroke="#1e1e1e" stroke-width="0.2" text-anchor="end" font-weight="normal" dominant-baseline="central">0.8</text>
<line x1="357.30" y1="442.43" x2="360.60" y2="442.43" stroke="#888" stroke-width="0.6"/>
<text transform="translate(354.40 442.43) scale(0.86 1)" font-size="5.4" fill="#1e1e1e" stroke="#1e1e1e" stroke-width="0.2" text-anchor="end" font-weight="normal" dominant-baseline="central">0.6</text>
<line x1="357.30" y1="457.36" x2="360.60" y2="457.36" stroke="#888" stroke-width="0.6"/>
<text transform="translate(354.40 457.36) scale(0.86 1)" font-size="5.4" fill="#1e1e1e" stroke="#1e1e1e" stroke-width="0.2" text-anchor="end" font-weight="normal" dominant-baseline="central">0.4</text>
<line x1="357.30" y1="472.29" x2="360.60" y2="472.29" stroke="#888" stroke-width="0.6"/>
<text transform="translate(354.40 472.29) scale(0.86 1)" font-size="5.4" fill="#1e1e1e" stroke="#1e1e1e" stroke-width="0.2" text-anchor="end" font-weight="normal" dominant-baseline="central">0.2</text>
<line x1="363.00" y1="439.40" x2="661.40" y2="439.40" stroke="#cfcfcf" stroke-width="0.6" stroke-dasharray="1.1 2.0"/>
<line x1="363.00" y1="454.40" x2="661.40" y2="454.40" stroke="#cfcfcf" stroke-width="0.6" stroke-dasharray="1.1 2.0"/>
<line x1="363.00" y1="469.60" x2="661.40" y2="469.60" stroke="#cfcfcf" stroke-width="0.6" stroke-dasharray="1.1 2.0"/>
<line x1="661.40" y1="424.80" x2="661.40" y2="484.50" stroke="#6a6a6a" stroke-width="0.9"/>
<line x1="661.40" y1="424.80" x2="664.20" y2="424.80" stroke="#888" stroke-width="0.6"/>
<text transform="translate(667.30 424.80) scale(0.9 1)" font-size="5.0" fill="#1e1e1e" stroke="#1e1e1e" stroke-width="0.2" text-anchor="start" font-weight="normal" dominant-baseline="central">180</text>
<line x1="661.40" y1="432.26" x2="664.20" y2="432.26" stroke="#888" stroke-width="0.6"/>
<text transform="translate(667.30 432.26) scale(0.9 1)" font-size="5.0" fill="#1e1e1e" stroke="#1e1e1e" stroke-width="0.2" text-anchor="start" font-weight="normal" dominant-baseline="central">135</text>
<line x1="661.40" y1="439.73" x2="664.20" y2="439.73" stroke="#888" stroke-width="0.6"/>
<text transform="translate(667.30 439.73) scale(0.9 1)" font-size="5.0" fill="#1e1e1e" stroke="#1e1e1e" stroke-width="0.2" text-anchor="start" font-weight="normal" dominant-baseline="central">90</text>
<line x1="661.40" y1="447.19" x2="664.20" y2="447.19" stroke="#888" stroke-width="0.6"/>
<text transform="translate(667.30 447.19) scale(0.9 1)" font-size="5.0" fill="#1e1e1e" stroke="#1e1e1e" stroke-width="0.2" text-anchor="start" font-weight="normal" dominant-baseline="central">45</text>
<line x1="661.40" y1="454.65" x2="664.20" y2="454.65" stroke="#888" stroke-width="0.6"/>
<text transform="translate(667.30 454.65) scale(0.9 1)" font-size="5.0" fill="#1e1e1e" stroke="#1e1e1e" stroke-width="0.2" text-anchor="start" font-weight="normal" dominant-baseline="central">0</text>
<line x1="661.40" y1="462.11" x2="664.20" y2="462.11" stroke="#888" stroke-width="0.6"/>
<text transform="translate(667.30 462.11) scale(0.9 1)" font-size="5.0" fill="#1e1e1e" stroke="#1e1e1e" stroke-width="0.2" text-anchor="start" font-weight="normal" dominant-baseline="central">−45</text>
<line x1="661.40" y1="469.57" x2="664.20" y2="469.57" stroke="#888" stroke-width="0.6"/>
<text transform="translate(667.30 469.57) scale(0.9 1)" font-size="5.0" fill="#1e1e1e" stroke="#1e1e1e" stroke-width="0.2" text-anchor="start" font-weight="normal" dominant-baseline="central">−90</text>
<line x1="661.40" y1="477.04" x2="664.20" y2="477.04" stroke="#888" stroke-width="0.6"/>
<text transform="translate(667.30 477.04) scale(0.9 1)" font-size="5.0" fill="#1e1e1e" stroke="#1e1e1e" stroke-width="0.2" text-anchor="start" font-weight="normal" dominant-baseline="central">−135</text>
<line x1="661.40" y1="484.50" x2="664.20" y2="484.50" stroke="#888" stroke-width="0.6"/>
<text transform="translate(667.30 484.50) scale(0.9 1)" font-size="5.0" fill="#1e1e1e" stroke="#1e1e1e" stroke-width="0.2" text-anchor="start" font-weight="normal" dominant-baseline="central">−180</text>
<text transform="translate(339.50 454.40) rotate(-90)" font-size="5.9" fill="#1e1e1e" stroke="#1e1e1e" stroke-width="0.2" text-anchor="middle" font-weight="normal" dominant-baseline="central" textLength="32.50" lengthAdjust="spacingAndGlyphs">PCA distance</text>
<text transform="translate(682.00 454.60) rotate(-90)" font-size="5.9" fill="#1e1e1e" stroke="#1e1e1e" stroke-width="0.2" text-anchor="middle" font-weight="normal" dominant-baseline="central" textLength="48.50" lengthAdjust="spacingAndGlyphs">PCA angle (degree)</text>
<rect x="370.70" y="423.70" width="1.2" height="63.70" fill="#f5caca"/>
<rect x="371.00" y="423.70" width="0.6" height="63.70" fill="#e07e7e"/>
<rect x="389.28" y="471.40" width="1.2" height="16.00" fill="#f5caca"/>
<rect x="389.58" y="471.40" width="0.6" height="16.00" fill="#e07e7e"/>
<rect x="407.86" y="461.70" width="1.2" height="25.70" fill="#f5caca"/>
<rect x="408.16" y="461.70" width="0.6" height="25.70" fill="#e07e7e"/>
<rect x="426.44" y="470.20" width="1.2" height="17.20" fill="#f5caca"/>
<rect x="426.74" y="470.20" width="0.6" height="17.20" fill="#e07e7e"/>
<rect x="445.02" y="472.30" width="1.2" height="15.10" fill="#f5caca"/>
<rect x="445.32" y="472.30" width="0.6" height="15.10" fill="#e07e7e"/>
<rect x="463.60" y="471.00" width="1.2" height="16.40" fill="#f5caca"/>
<rect x="463.90" y="471.00" width="0.6" height="16.40" fill="#e07e7e"/>
<rect x="482.18" y="483.50" width="1.2" height="3.90" fill="#f4c4c4"/>
<rect x="500.76" y="472.60" width="1.2" height="14.80" fill="#f5caca"/>
<rect x="501.06" y="472.60" width="0.6" height="14.80" fill="#e07e7e"/>
<rect x="519.34" y="475.40" width="1.2" height="12.00" fill="#f5caca"/>
<rect x="519.64" y="475.40" width="0.6" height="12.00" fill="#e07e7e"/>
<rect x="537.92" y="474.90" width="1.2" height="12.50" fill="#f5caca"/>
<rect x="538.22" y="474.90" width="0.6" height="12.50" fill="#e07e7e"/>
<rect x="556.50" y="460.60" width="1.2" height="26.80" fill="#f5caca"/>
<rect x="556.80" y="460.60" width="0.6" height="26.80" fill="#e07e7e"/>
<rect x="575.08" y="471.70" width="1.2" height="15.70" fill="#f5caca"/>
<rect x="575.38" y="471.70" width="0.6" height="15.70" fill="#e07e7e"/>
<rect x="593.66" y="464.00" width="1.2" height="23.40" fill="#f5caca"/>
<rect x="593.96" y="464.00" width="0.6" height="23.40" fill="#e07e7e"/>
<rect x="612.24" y="474.60" width="1.2" height="12.80" fill="#f5caca"/>
<rect x="612.54" y="474.60" width="0.6" height="12.80" fill="#e07e7e"/>
<rect x="630.82" y="467.70" width="1.2" height="19.70" fill="#f5caca"/>
<rect x="631.12" y="467.70" width="0.6" height="19.70" fill="#e07e7e"/>
<rect x="649.40" y="429.30" width="1.2" height="58.10" fill="#f5caca"/>
<rect x="649.70" y="429.30" width="0.6" height="58.10" fill="#e07e7e"/>
<circle cx="371.30" cy="452.50" r="1.0" fill="#111"/>
<circle cx="389.88" cy="468.30" r="1.0" fill="#111"/>
<circle cx="408.46" cy="469.60" r="1.0" fill="#111"/>
<circle cx="427.04" cy="451.80" r="1.0" fill="#111"/>
<circle cx="445.62" cy="468.80" r="1.0" fill="#111"/>
<circle cx="464.20" cy="474.10" r="1.0" fill="#111"/>
<circle cx="501.36" cy="428.30" r="1.0" fill="#111"/>
<circle cx="519.94" cy="469.70" r="1.0" fill="#111"/>
<circle cx="538.52" cy="474.00" r="1.0" fill="#111"/>
<circle cx="557.10" cy="472.60" r="1.0" fill="#111"/>
<circle cx="575.68" cy="431.30" r="1.0" fill="#111"/>
<circle cx="594.26" cy="449.00" r="1.0" fill="#111"/>
<circle cx="612.84" cy="430.70" r="1.0" fill="#111"/>
<circle cx="631.42" cy="429.90" r="1.0" fill="#111"/>
<circle cx="650.00" cy="436.40" r="1.0" fill="#111"/>
<text transform="translate(371.30 495.60) rotate(-90) scale(0.9 1)" font-size="5.2" fill="#1e1e1e" stroke="#1e1e1e" stroke-width="0.3" text-anchor="middle" font-weight="normal" dominant-baseline="central" letter-spacing="0.7">AA</text>
<text transform="translate(389.88 495.60) rotate(-90) scale(0.9 1)" font-size="5.2" fill="#1e1e1e" stroke="#1e1e1e" stroke-width="0.3" text-anchor="middle" font-weight="normal" dominant-baseline="central" letter-spacing="0.7">AC</text>
<text transform="translate(408.46 495.60) rotate(-90) scale(0.9 1)" font-size="5.2" fill="#1e1e1e" stroke="#1e1e1e" stroke-width="0.3" text-anchor="middle" font-weight="normal" dominant-baseline="central" letter-spacing="0.7">AG</text>
<text transform="translate(427.04 495.60) rotate(-90) scale(0.9 1)" font-size="5.2" fill="#1e1e1e" stroke="#1e1e1e" stroke-width="0.3" text-anchor="middle" font-weight="normal" dominant-baseline="central" letter-spacing="0.7">AT</text>
<text transform="translate(445.62 495.60) rotate(-90) scale(0.9 1)" font-size="5.2" fill="#1e1e1e" stroke="#1e1e1e" stroke-width="0.3" text-anchor="middle" font-weight="normal" dominant-baseline="central" letter-spacing="0.7">CA</text>
<text transform="translate(464.20 495.60) rotate(-90) scale(0.9 1)" font-size="5.2" fill="#1e1e1e" stroke="#1e1e1e" stroke-width="0.3" text-anchor="middle" font-weight="normal" dominant-baseline="central" letter-spacing="0.7">CC</text>
<text transform="translate(501.36 495.60) rotate(-90) scale(0.9 1)" font-size="5.2" fill="#1e1e1e" stroke="#1e1e1e" stroke-width="0.3" text-anchor="middle" font-weight="normal" dominant-baseline="central" letter-spacing="0.7">CT</text>
<text transform="translate(519.94 495.60) rotate(-90) scale(0.9 1)" font-size="5.2" fill="#1e1e1e" stroke="#1e1e1e" stroke-width="0.3" text-anchor="middle" font-weight="normal" dominant-baseline="central" letter-spacing="0.7">GA</text>
<text transform="translate(538.52 495.60) rotate(-90) scale(0.9 1)" font-size="5.2" fill="#1e1e1e" stroke="#1e1e1e" stroke-width="0.3" text-anchor="middle" font-weight="normal" dominant-baseline="central" letter-spacing="0.7">GC</text>
<text transform="translate(557.10 495.60) rotate(-90) scale(0.9 1)" font-size="5.2" fill="#1e1e1e" stroke="#1e1e1e" stroke-width="0.3" text-anchor="middle" font-weight="normal" dominant-baseline="central" letter-spacing="0.7">GG</text>
<text transform="translate(575.68 495.60) rotate(-90) scale(0.9 1)" font-size="5.2" fill="#1e1e1e" stroke="#1e1e1e" stroke-width="0.3" text-anchor="middle" font-weight="normal" dominant-baseline="central" letter-spacing="0.7">GT</text>
<text transform="translate(594.26 495.60) rotate(-90) scale(0.9 1)" font-size="5.2" fill="#1e1e1e" stroke="#1e1e1e" stroke-width="0.3" text-anchor="middle" font-weight="normal" dominant-baseline="central" letter-spacing="0.7">TA</text>
<text transform="translate(612.84 495.60) rotate(-90) scale(0.9 1)" font-size="5.2" fill="#1e1e1e" stroke="#1e1e1e" stroke-width="0.3" text-anchor="middle" font-weight="normal" dominant-baseline="central" letter-spacing="0.7">TC</text>
<text transform="translate(631.42 495.60) rotate(-90) scale(0.9 1)" font-size="5.2" fill="#1e1e1e" stroke="#1e1e1e" stroke-width="0.3" text-anchor="middle" font-weight="normal" dominant-baseline="central" letter-spacing="0.7">TG</text>
<text transform="translate(650.00 495.60) rotate(-90) scale(0.9 1)" font-size="5.2" fill="#1e1e1e" stroke="#1e1e1e" stroke-width="0.3" text-anchor="middle" font-weight="normal" dominant-baseline="central" letter-spacing="0.7">TT</text>
<rect x="100.04" y="85.72" width="1.8" height="1.1" fill="#2a2ad8"/>
<rect x="100.19" y="84.14" width="1.8" height="1.1" fill="#2a2ad8"/>
<rect x="96.30" y="84.37" width="1.8" height="1.1" fill="#2a2ad8"/>
<rect x="107.59" y="85.46" width="1.8" height="1.1" fill="#2a2ad8"/>
<rect x="107.36" y="85.18" width="1.8" height="1.1" fill="#2a2ad8"/>
<rect x="104.05" y="85.11" width="1.8" height="1.1" fill="#2a2ad8"/>
<rect x="94.32" y="85.91" width="1.8" height="1.1" fill="#2a2ad8"/>
<rect x="104.63" y="85.68" width="1.8" height="1.1" fill="#2a2ad8"/>
<rect x="95.50" y="82.79" width="1.8" height="1.1" fill="#2a2ad8"/>
<rect x="96.58" y="83.93" width="1.8" height="1.1" fill="#2a2ad8"/>
<rect x="103.52" y="84.66" width="1.8" height="1.1" fill="#2a2ad8"/>
<rect x="104.65" y="83.58" width="1.8" height="1.1" fill="#2a2ad8"/>
<rect x="103.50" y="85.51" width="1.8" height="1.1" fill="#2a2ad8"/>
<rect x="98.68" y="87.11" width="1.8" height="1.1" fill="#2a2ad8"/>
<rect x="104.49" y="86.69" width="1.8" height="1.1" fill="#2a2ad8"/>
<rect x="98.07" y="83.44" width="1.8" height="1.1" fill="#2a2ad8"/>
<rect x="99.45" y="84.54" width="1.8" height="1.1" fill="#2a2ad8"/>
<rect x="105.40" y="85.21" width="1.8" height="1.1" fill="#2a2ad8"/>
<rect x="99.11" y="83.09" width="1.8" height="1.1" fill="#2a2ad8"/>
<rect x="98.90" y="86.72" width="1.8" height="1.1" fill="#2a2ad8"/>
<rect x="96.88" y="85.19" width="1.8" height="1.1" fill="#2a2ad8"/>
<rect x="103.67" y="82.50" width="1.8" height="1.1" fill="#2a2ad8"/>
<rect x="101.85" y="86.87" width="1.8" height="1.1" fill="#2a2ad8"/>
<rect x="93.29" y="84.34" width="1.8" height="1.1" fill="#2a2ad8"/>
<rect x="100.98" y="83.26" width="1.8" height="1.1" fill="#2a2ad8"/>
<rect x="104.67" y="84.63" width="1.8" height="1.1" fill="#2a2ad8"/>
<rect x="94.78" y="85.95" width="1.8" height="1.1" fill="#2a2ad8"/>
<rect x="105.24" y="86.35" width="1.8" height="1.1" fill="#2a2ad8"/>
<rect x="108.73" y="85.31" width="1.8" height="1.1" fill="#2a2ad8"/>
<rect x="102.22" y="82.64" width="1.8" height="1.1" fill="#2a2ad8"/>
<rect x="105.18" y="83.64" width="1.8" height="1.1" fill="#2a2ad8"/>
<rect x="99.26" y="82.72" width="1.8" height="1.1" fill="#2a2ad8"/>
<rect x="96.27" y="83.84" width="1.8" height="1.1" fill="#2a2ad8"/>
<rect x="106.29" y="82.45" width="1.8" height="1.1" fill="#2a2ad8"/>
<rect x="94.36" y="85.12" width="1.8" height="1.1" fill="#2a2ad8"/>
<rect x="108.60" y="85.62" width="1.8" height="1.1" fill="#2a2ad8"/>
<rect x="96.20" y="82.52" width="1.8" height="1.1" fill="#2a2ad8"/>
<rect x="103.70" y="83.41" width="1.8" height="1.1" fill="#2a2ad8"/>
<rect x="96.06" y="86.26" width="1.8" height="1.1" fill="#2a2ad8"/>
<rect x="107.65" y="85.02" width="1.8" height="1.1" fill="#2a2ad8"/>
<rect x="103.12" y="85.58" width="1.8" height="1.1" fill="#2a2ad8"/>
<rect x="108.95" y="85.64" width="1.8" height="1.1" fill="#2a2ad8"/>
<rect x="104.68" y="85.76" width="1.8" height="1.1" fill="#2a2ad8"/>
<rect x="95.09" y="86.40" width="1.8" height="1.1" fill="#2a2ad8"/>
<rect x="106.88" y="85.66" width="1.8" height="1.1" fill="#2a2ad8"/>
<rect x="93.55" y="83.95" width="1.8" height="1.1" fill="#2a2ad8"/>
<rect x="105.13" y="82.39" width="1.8" height="1.1" fill="#2a2ad8"/>
<rect x="100.57" y="86.53" width="1.8" height="1.1" fill="#2a2ad8"/>
<rect x="96.26" y="86.79" width="1.8" height="1.1" fill="#2a2ad8"/>
<rect x="104.97" y="84.46" width="1.8" height="1.1" fill="#2a2ad8"/>
<rect x="103.54" y="85.96" width="1.8" height="1.1" fill="#2a2ad8"/>
<rect x="102.26" y="86.69" width="1.8" height="1.1" fill="#2a2ad8"/>
<rect x="97.69" y="83.99" width="1.8" height="1.1" fill="#2a2ad8"/>
<rect x="107.42" y="84.80" width="1.8" height="1.1" fill="#2a2ad8"/>
<rect x="96.99" y="86.29" width="1.8" height="1.1" fill="#2a2ad8"/>
<rect x="108.76" y="84.07" width="1.8" height="1.1" fill="#2a2ad8"/>
<rect x="94.56" y="84.54" width="1.8" height="1.1" fill="#2a2ad8"/>
<rect x="100.66" y="84.17" width="1.8" height="1.1" fill="#2a2ad8"/>
<rect x="108.02" y="83.29" width="1.8" height="1.1" fill="#2a2ad8"/>
<rect x="107.27" y="82.98" width="1.8" height="1.1" fill="#2a2ad8"/>
<rect x="97.17" y="85.86" width="1.8" height="1.1" fill="#2a2ad8"/>
<rect x="107.30" y="86.10" width="1.8" height="1.1" fill="#2a2ad8"/>
<rect x="103.76" y="85.03" width="1.8" height="1.1" fill="#2a2ad8"/>
<rect x="102.53" y="85.84" width="1.8" height="1.1" fill="#2a2ad8"/>
<rect x="100.49" y="85.29" width="1.8" height="1.1" fill="#2a2ad8"/>
<rect x="105.10" y="84.75" width="1.8" height="1.1" fill="#2a2ad8"/>
<rect x="105.96" y="85.75" width="1.8" height="1.1" fill="#2a2ad8"/>
<rect x="109.91" y="85.17" width="1.8" height="1.1" fill="#2a2ad8"/>
<rect x="98.98" y="84.04" width="1.8" height="1.1" fill="#2a2ad8"/>
<rect x="101.52" y="86.40" width="1.8" height="1.1" fill="#2a2ad8"/>
<rect x="132.49" y="86.50" width="1.8" height="1.1" fill="#2a2ad8"/>
<rect x="138.16" y="83.06" width="1.8" height="1.1" fill="#2a2ad8"/>
<rect x="129.34" y="86.12" width="1.8" height="1.1" fill="#2a2ad8"/>
<rect x="136.02" y="86.18" width="1.8" height="1.1" fill="#2a2ad8"/>
<rect x="132.12" y="87.03" width="1.8" height="1.1" fill="#2a2ad8"/>
<rect x="135.44" y="84.52" width="1.8" height="1.1" fill="#2a2ad8"/>
<rect x="140.85" y="86.10" width="1.8" height="1.1" fill="#2a2ad8"/>
<rect x="131.46" y="85.43" width="1.8" height="1.1" fill="#2a2ad8"/>
<rect x="132.99" y="85.51" width="1.8" height="1.1" fill="#2a2ad8"/>
<rect x="127.28" y="85.09" width="1.8" height="1.1" fill="#2a2ad8"/>
<rect x="137.92" y="83.63" width="1.8" height="1.1" fill="#2a2ad8"/>
<rect x="133.80" y="87.58" width="1.8" height="1.1" fill="#2a2ad8"/>
<rect x="137.16" y="88.09" width="1.8" height="1.1" fill="#2a2ad8"/>
<rect x="128.05" y="85.08" width="1.8" height="1.1" fill="#2a2ad8"/>
<rect x="132.51" y="86.98" width="1.8" height="1.1" fill="#2a2ad8"/>
<rect x="136.72" y="82.71" width="1.8" height="1.1" fill="#2a2ad8"/>
<rect x="137.88" y="83.35" width="1.8" height="1.1" fill="#2a2ad8"/>
<rect x="136.61" y="83.15" width="1.8" height="1.1" fill="#2a2ad8"/>
<rect x="134.83" y="87.93" width="1.8" height="1.1" fill="#2a2ad8"/>
<rect x="133.37" y="86.08" width="1.8" height="1.1" fill="#2a2ad8"/>
<rect x="137.74" y="85.95" width="1.8" height="1.1" fill="#2a2ad8"/>
<rect x="133.76" y="88.31" width="1.8" height="1.1" fill="#2a2ad8"/>
<rect x="138.61" y="85.07" width="1.8" height="1.1" fill="#2a2ad8"/>
<rect x="140.52" y="84.42" width="1.8" height="1.1" fill="#2a2ad8"/>
<rect x="138.16" y="85.11" width="1.8" height="1.1" fill="#2a2ad8"/>
<rect x="134.72" y="87.15" width="1.8" height="1.1" fill="#2a2ad8"/>
<rect x="135.14" y="87.02" width="1.8" height="1.1" fill="#2a2ad8"/>
<rect x="129.38" y="83.52" width="1.8" height="1.1" fill="#2a2ad8"/>
<rect x="136.71" y="83.78" width="1.8" height="1.1" fill="#2a2ad8"/>
<rect x="130.52" y="83.30" width="1.8" height="1.1" fill="#2a2ad8"/>
<rect x="139.00" y="86.97" width="1.8" height="1.1" fill="#2a2ad8"/>
<rect x="139.32" y="84.13" width="1.8" height="1.1" fill="#2a2ad8"/>
<rect x="134.10" y="83.44" width="1.8" height="1.1" fill="#2a2ad8"/>
<rect x="136.80" y="88.21" width="1.8" height="1.1" fill="#2a2ad8"/>
<rect x="131.00" y="88.14" width="1.8" height="1.1" fill="#2a2ad8"/>
<rect x="138.43" y="85.29" width="1.8" height="1.1" fill="#2a2ad8"/>
<rect x="128.55" y="87.46" width="1.8" height="1.1" fill="#2a2ad8"/>
<rect x="133.64" y="84.35" width="1.8" height="1.1" fill="#2a2ad8"/>
<rect x="136.00" y="86.54" width="1.8" height="1.1" fill="#2a2ad8"/>
<rect x="139.30" y="84.03" width="1.8" height="1.1" fill="#2a2ad8"/>
<rect x="137.96" y="87.96" width="1.8" height="1.1" fill="#2a2ad8"/>
<rect x="139.73" y="85.33" width="1.8" height="1.1" fill="#2a2ad8"/>
<rect x="131.04" y="87.56" width="1.8" height="1.1" fill="#2a2ad8"/>
<rect x="134.67" y="85.93" width="1.8" height="1.1" fill="#2a2ad8"/>
<rect x="139.65" y="85.18" width="1.8" height="1.1" fill="#2a2ad8"/>
<rect x="127.43" y="85.14" width="1.8" height="1.1" fill="#2a2ad8"/>
<rect x="128.12" y="86.86" width="1.8" height="1.1" fill="#2a2ad8"/>
<rect x="135.58" y="84.35" width="1.8" height="1.1" fill="#2a2ad8"/>
<rect x="134.06" y="87.38" width="1.8" height="1.1" fill="#2a2ad8"/>
<rect x="134.42" y="88.10" width="1.8" height="1.1" fill="#2a2ad8"/>
<rect x="133.83" y="87.72" width="1.8" height="1.1" fill="#2a2ad8"/>
<rect x="138.64" y="87.89" width="1.8" height="1.1" fill="#2a2ad8"/>
<rect x="131.22" y="87.37" width="1.8" height="1.1" fill="#2a2ad8"/>
<rect x="128.34" y="84.13" width="1.8" height="1.1" fill="#2a2ad8"/>
<rect x="128.21" y="87.12" width="1.8" height="1.1" fill="#2a2ad8"/>
<rect x="113.45" y="85.24" width="1.8" height="1.1" fill="#2a2ad8"/>
<rect x="116.42" y="85.21" width="1.8" height="1.1" fill="#2a2ad8"/>
<rect x="115.11" y="85.53" width="1.8" height="1.1" fill="#2a2ad8"/>
<rect x="121.57" y="85.29" width="1.8" height="1.1" fill="#2a2ad8"/>
<rect x="118.71" y="86.34" width="1.8" height="1.1" fill="#2a2ad8"/>
<rect x="116.52" y="83.92" width="1.8" height="1.1" fill="#2a2ad8"/>
<rect x="115.45" y="86.40" width="1.8" height="1.1" fill="#2a2ad8"/>
<rect x="112.94" y="84.71" width="1.8" height="1.1" fill="#2a2ad8"/>
<rect x="120.04" y="86.08" width="1.8" height="1.1" fill="#2a2ad8"/>
<rect x="117.12" y="86.20" width="1.8" height="1.1" fill="#2a2ad8"/>
<rect x="117.60" y="83.98" width="1.8" height="1.1" fill="#2a2ad8"/>
<rect x="113.06" y="84.66" width="1.8" height="1.1" fill="#2a2ad8"/>
<rect x="119.94" y="84.62" width="1.8" height="1.1" fill="#2a2ad8"/>
<rect x="114.40" y="84.42" width="1.8" height="1.1" fill="#2a2ad8"/>
<rect x="112.95" y="85.14" width="1.8" height="1.1" fill="#2a2ad8"/>
<rect x="113.61" y="85.64" width="1.8" height="1.1" fill="#2a2ad8"/>
<rect x="112.29" y="85.49" width="1.8" height="1.1" fill="#2a2ad8"/>
<rect x="115.63" y="83.65" width="1.8" height="1.1" fill="#2a2ad8"/>
<rect x="119.48" y="84.92" width="1.8" height="1.1" fill="#2a2ad8"/>
<rect x="112.58" y="84.61" width="1.8" height="1.1" fill="#2a2ad8"/>
<circle cx="34.50" cy="71.20" r="0.6" fill="#2a2ad8"/>
<circle cx="45.60" cy="74.70" r="0.6" fill="#2a2ad8"/>
<circle cx="59.30" cy="73.60" r="0.6" fill="#2a2ad8"/>
<circle cx="59.40" cy="82.30" r="0.6" fill="#2a2ad8"/>
<circle cx="68.60" cy="84.60" r="0.6" fill="#2a2ad8"/>
<circle cx="73.90" cy="84.60" r="0.6" fill="#2a2ad8"/>
<circle cx="88.30" cy="82.60" r="0.6" fill="#2a2ad8"/>
<circle cx="88.30" cy="90.50" r="0.6" fill="#2a2ad8"/>
<circle cx="149.20" cy="79.60" r="0.6" fill="#2a2ad8"/>
<circle cx="148.20" cy="85.30" r="0.6" fill="#2a2ad8"/>
<circle cx="158.40" cy="81.70" r="0.6" fill="#2a2ad8"/>
<circle cx="164.50" cy="82.30" r="0.6" fill="#2a2ad8"/>
<circle cx="168.60" cy="82.30" r="0.6" fill="#2a2ad8"/>
<circle cx="144.80" cy="55.10" r="0.6" fill="#2a2ad8"/>
<circle cx="248.30" cy="25.40" r="0.6" fill="#2a2ad8"/>
<circle cx="145.30" cy="219.50" r="0.6" fill="#2a2ad8"/>
<circle cx="111.30" cy="77.50" r="0.6" fill="#2a2ad8"/>
<circle cx="123.00" cy="80.80" r="0.6" fill="#2a2ad8"/>
<circle cx="26.80" cy="70.50" r="0.6" fill="#2a2ad8"/>
<text transform="translate(252.80 25.00) scale(0.86 1)" font-size="6.0" fill="#2a2ad8" stroke="#2a2ad8" stroke-width="0.28" text-anchor="middle" font-weight="normal" dominant-baseline="central">1</text>
<text transform="translate(144.80 49.40) scale(0.86 1)" font-size="6.0" fill="#2a2ad8" stroke="#2a2ad8" stroke-width="0.28" text-anchor="middle" font-weight="normal" dominant-baseline="central">2</text>
<text transform="translate(144.70 224.70) scale(0.86 1)" font-size="6.0" fill="#2a2ad8" stroke="#2a2ad8" stroke-width="0.28" text-anchor="middle" font-weight="normal" dominant-baseline="central">−1</text>
<text transform="translate(29.20 70.50) scale(0.86 1)" font-size="6.0" fill="#2a2ad8" stroke="#2a2ad8" stroke-width="0.28" text-anchor="middle" font-weight="normal" dominant-baseline="central">−2</text>
<text transform="translate(39.20 74.40) scale(0.86 1)" font-size="6.0" fill="#2a2ad8" stroke="#2a2ad8" stroke-width="0.28" text-anchor="middle" font-weight="normal" dominant-baseline="central">−7</text>
<text transform="translate(53.50 74.20) scale(0.86 1)" font-size="6.0" fill="#2a2ad8" stroke="#2a2ad8" stroke-width="0.28" text-anchor="middle" font-weight="normal" dominant-baseline="central">−8</text>
<text transform="translate(60.40 68.20) scale(0.86 1)" font-size="6.0" fill="#2a2ad8" stroke="#2a2ad8" stroke-width="0.28" text-anchor="middle" font-weight="normal" dominant-baseline="central">−9</text>
<text transform="translate(81.10 71.00) scale(0.86 1)" font-size="6.0" fill="#2a2ad8" stroke="#2a2ad8" stroke-width="0.28" text-anchor="middle" font-weight="normal" dominant-baseline="central">−10</text>
<text transform="translate(81.80 79.00) scale(0.86 1)" font-size="6.0" fill="#2a2ad8" stroke="#2a2ad8" stroke-width="0.28" text-anchor="middle" font-weight="normal" dominant-baseline="central">10</text>
<text transform="translate(81.10 84.60) scale(0.86 1)" font-size="6.0" fill="#2a2ad8" stroke="#2a2ad8" stroke-width="0.28" text-anchor="middle" font-weight="normal" dominant-baseline="central">−5</text>
<text transform="translate(64.00 83.90) scale(0.86 1)" font-size="6.0" fill="#2a2ad8" stroke="#2a2ad8" stroke-width="0.28" text-anchor="middle" font-weight="normal" dominant-baseline="central">3</text>
<text transform="translate(60.70 87.60) scale(0.86 1)" font-size="6.0" fill="#2a2ad8" stroke="#2a2ad8" stroke-width="0.28" text-anchor="middle" font-weight="normal" dominant-baseline="central">−6</text>
<text transform="translate(82.40 92.40) scale(0.86 1)" font-size="6.0" fill="#2a2ad8" stroke="#2a2ad8" stroke-width="0.28" text-anchor="middle" font-weight="normal" dominant-baseline="central">−4</text>
<text transform="translate(158.60 76.30) scale(0.86 1)" font-size="6.0" fill="#2a2ad8" stroke="#2a2ad8" stroke-width="0.28" text-anchor="middle" font-weight="normal" dominant-baseline="central">−14</text>
<text transform="translate(168.60 76.30) scale(0.86 1)" font-size="6.0" fill="#2a2ad8" stroke="#2a2ad8" stroke-width="0.28" text-anchor="middle" font-weight="normal" dominant-baseline="central">−18</text>
<text transform="translate(156.80 88.60) scale(0.86 1)" font-size="6.0" fill="#2a2ad8" stroke="#2a2ad8" stroke-width="0.28" text-anchor="middle" font-weight="normal" dominant-baseline="central">−22</text>
<text transform="translate(168.40 89.00) scale(0.86 1)" font-size="6.0" fill="#2a2ad8" stroke="#2a2ad8" stroke-width="0.28" text-anchor="middle" font-weight="normal" dominant-baseline="central">−20</text>
<text transform="translate(168.80 86.80) scale(0.86 1)" font-size="6.0" fill="#2a2ad8" stroke="#2a2ad8" stroke-width="0.28" text-anchor="middle" font-weight="normal" dominant-baseline="central">19</text>
<line x1="118.60" y1="85.20" x2="50.90" y2="66.60" stroke="#e83030" stroke-width="0.85"/>
<polyline points="53.97,65.99 50.90,66.60 53.23,68.69" fill="none" stroke="#e83030" stroke-width="0.85"/>
<line x1="118.60" y1="85.20" x2="138.90" y2="55.30" stroke="#e83030" stroke-width="0.85"/>
<polyline points="138.49,58.40 138.90,55.30 136.17,56.83" fill="none" stroke="#e83030" stroke-width="0.85"/>
<line x1="118.60" y1="85.20" x2="186.90" y2="53.10" stroke="#e83030" stroke-width="0.85"/>
<polyline points="184.96,55.56 186.90,53.10 183.77,53.02" fill="none" stroke="#e83030" stroke-width="0.85"/>
<line x1="118.60" y1="85.20" x2="128.50" y2="79.50" stroke="#e83030" stroke-width="0.85"/>
<polyline points="126.77,82.11 128.50,79.50 125.37,79.68" fill="none" stroke="#e83030" stroke-width="0.85"/>
<line x1="118.60" y1="85.20" x2="121.00" y2="80.20" stroke="#e83030" stroke-width="0.85"/>
<polyline points="121.05,83.33 121.00,80.20 118.53,82.12" fill="none" stroke="#e83030" stroke-width="0.85"/>
<line x1="118.60" y1="85.20" x2="97.00" y2="79.50" stroke="#e83030" stroke-width="0.85"/>
<polyline points="100.06,78.86 97.00,79.50 99.35,81.57" fill="none" stroke="#e83030" stroke-width="0.85"/>
<line x1="118.60" y1="85.20" x2="100.50" y2="81.50" stroke="#e83030" stroke-width="0.85"/>
<polyline points="103.52,80.69 100.50,81.50 102.96,83.43" fill="none" stroke="#e83030" stroke-width="0.85"/>
<line x1="118.60" y1="85.20" x2="103.00" y2="86.50" stroke="#e83030" stroke-width="0.85"/>
<polyline points="105.67,84.87 103.00,86.50 105.91,87.66" fill="none" stroke="#e83030" stroke-width="0.85"/>
<line x1="118.60" y1="85.20" x2="115.50" y2="88.30" stroke="#e83030" stroke-width="0.85"/>
<polyline points="116.49,85.33 115.50,88.30 118.47,87.31" fill="none" stroke="#e83030" stroke-width="0.85"/>
<line x1="118.60" y1="85.20" x2="126.30" y2="102.20" stroke="#e83030" stroke-width="0.85"/>
<polyline points="123.87,100.23 126.30,102.20 126.42,99.07" fill="none" stroke="#e83030" stroke-width="0.85"/>
<line x1="118.60" y1="85.20" x2="130.00" y2="124.50" stroke="#e83030" stroke-width="0.85"/>
<polyline points="127.88,122.20 130.00,124.50 130.56,121.42" fill="none" stroke="#e83030" stroke-width="0.85"/>
<line x1="118.60" y1="85.20" x2="131.00" y2="136.50" stroke="#e83030" stroke-width="0.85"/>
<polyline points="128.98,134.11 131.00,136.50 131.70,133.45" fill="none" stroke="#e83030" stroke-width="0.85"/>
<polygon points="95.5,79 118.6,85.2 101,84.2" fill="#e83030" opacity="0.6"/>
<polygon points="118.6,85.2 128,78.8 130.5,80.8 124,85.5" fill="#e83030" opacity="0.6"/>
<line x1="118.60" y1="85.20" x2="96.50" y2="80.50" stroke="#e83030" stroke-width="0.7"/>
<polyline points="99.10,79.83 96.50,80.50 98.60,82.17" fill="none" stroke="#e83030" stroke-width="0.7"/>
<line x1="118.60" y1="85.20" x2="99.00" y2="82.50" stroke="#e83030" stroke-width="0.7"/>
<polyline points="101.54,81.64 99.00,82.50 101.21,84.02" fill="none" stroke="#e83030" stroke-width="0.7"/>
<line x1="118.60" y1="85.20" x2="102.00" y2="83.80" stroke="#e83030" stroke-width="0.7"/>
<polyline points="104.49,82.81 102.00,83.80 104.29,85.20" fill="none" stroke="#e83030" stroke-width="0.7"/>
<line x1="118.60" y1="85.20" x2="106.00" y2="84.50" stroke="#e83030" stroke-width="0.7"/>
<polyline points="108.46,83.43 106.00,84.50 108.33,85.83" fill="none" stroke="#e83030" stroke-width="0.7"/>
<line x1="118.60" y1="85.20" x2="110.00" y2="86.50" stroke="#e83030" stroke-width="0.7"/>
<polyline points="112.19,84.95 110.00,86.50 112.55,87.33" fill="none" stroke="#e83030" stroke-width="0.7"/>
<line x1="118.60" y1="85.20" x2="113.00" y2="87.50" stroke="#e83030" stroke-width="0.7"/>
<polyline points="114.76,85.48 113.00,87.50 115.68,87.70" fill="none" stroke="#e83030" stroke-width="0.7"/>
<line x1="118.60" y1="85.20" x2="124.00" y2="84.80" stroke="#e83030" stroke-width="0.7"/>
<polyline points="121.70,86.17 124.00,84.80 121.52,83.78" fill="none" stroke="#e83030" stroke-width="0.7"/>
<line x1="118.60" y1="85.20" x2="128.00" y2="86.50" stroke="#e83030" stroke-width="0.7"/>
<polyline points="125.46,87.36 128.00,86.50 125.79,84.98" fill="none" stroke="#e83030" stroke-width="0.7"/>
<text transform="translate(45.35 65.80) scale(0.82 1)" font-size="5.8" fill="#e83030" stroke="#e83030" stroke-width="0.25" text-anchor="middle" font-weight="normal" dominant-baseline="central" letter-spacing="1.0">TT</text>
<text transform="translate(139.05 50.10) scale(0.82 1)" font-size="5.8" fill="#e83030" stroke="#e83030" stroke-width="0.25" text-anchor="middle" font-weight="normal" dominant-baseline="central" letter-spacing="1.0">AT</text>
<text transform="translate(194.55 52.70) scale(0.82 1)" font-size="5.8" fill="#e83030" stroke="#e83030" stroke-width="0.25" text-anchor="middle" font-weight="normal" dominant-baseline="central" letter-spacing="1.0">AA</text>
<text transform="translate(97.05 74.60) scale(0.82 1)" font-size="5.8" fill="#e83030" stroke="#e83030" stroke-width="0.25" text-anchor="middle" font-weight="normal" dominant-baseline="central" letter-spacing="1.0">GT</text>
<text transform="translate(118.95 76.80) scale(0.82 1)" font-size="5.8" fill="#e83030" stroke="#e83030" stroke-width="0.25" text-anchor="middle" font-weight="normal" dominant-baseline="central" letter-spacing="1.0">AC</text>
<text transform="translate(136.85 78.10) scale(0.82 1)" font-size="5.8" fill="#e83030" stroke="#e83030" stroke-width="0.25" text-anchor="middle" font-weight="normal" dominant-baseline="central" letter-spacing="1.0">AG</text>
<text transform="translate(114.75 91.30) scale(0.82 1)" font-size="5.8" fill="#e83030" stroke="#e83030" stroke-width="0.25" text-anchor="middle" font-weight="normal" dominant-baseline="central" letter-spacing="1.0">CC</text>
<text transform="translate(99.05 89.80) scale(0.82 1)" font-size="5.8" fill="#e83030" stroke="#e83030" stroke-width="0.25" text-anchor="middle" font-weight="normal" dominant-baseline="central" letter-spacing="1.0">CT</text>
<text transform="translate(127.75 107.50) scale(0.82 1)" font-size="5.8" fill="#e83030" stroke="#e83030" stroke-width="0.25" text-anchor="middle" font-weight="normal" dominant-baseline="central" letter-spacing="1.0">GA</text>
<text transform="translate(132.05 120.20) scale(0.82 1)" font-size="5.8" fill="#e83030" stroke="#e83030" stroke-width="0.25" text-anchor="middle" font-weight="normal" dominant-baseline="central" letter-spacing="1.0">CA</text>
<text transform="translate(131.75 141.00) scale(0.82 1)" font-size="5.8" fill="#e83030" stroke="#e83030" stroke-width="0.25" text-anchor="middle" font-weight="normal" dominant-baseline="central" letter-spacing="1.0">TA</text>
<text transform="translate(106.65 79.20) scale(0.82 1)" font-size="5.8" fill="#f08080" stroke="#f08080" stroke-width="0.25" text-anchor="middle" font-weight="normal" dominant-baseline="central" letter-spacing="1.0">TC</text>
<rect x="75.56" y="397.17" width="1.8" height="1.1" fill="#2a2ad8"/>
<rect x="78.07" y="378.99" width="1.8" height="1.1" fill="#2a2ad8"/>
<rect x="78.02" y="359.79" width="1.8" height="1.1" fill="#2a2ad8"/>
<rect x="76.00" y="400.97" width="1.8" height="1.1" fill="#2a2ad8"/>
<rect x="77.74" y="390.60" width="1.8" height="1.1" fill="#2a2ad8"/>
<rect x="75.08" y="405.62" width="1.8" height="1.1" fill="#2a2ad8"/>
<rect x="73.50" y="376.89" width="1.8" height="1.1" fill="#2a2ad8"/>
<rect x="75.90" y="397.50" width="1.8" height="1.1" fill="#2a2ad8"/>
<rect x="76.36" y="382.64" width="1.8" height="1.1" fill="#2a2ad8"/>
<rect x="77.80" y="372.69" width="1.8" height="1.1" fill="#2a2ad8"/>
<rect x="76.39" y="383.75" width="1.8" height="1.1" fill="#2a2ad8"/>
<rect x="76.67" y="372.44" width="1.8" height="1.1" fill="#2a2ad8"/>
<rect x="81.45" y="361.16" width="1.8" height="1.1" fill="#2a2ad8"/>
<rect x="75.26" y="403.29" width="1.8" height="1.1" fill="#2a2ad8"/>
<rect x="79.48" y="359.24" width="1.8" height="1.1" fill="#2a2ad8"/>
<rect x="76.30" y="365.69" width="1.8" height="1.1" fill="#2a2ad8"/>
<rect x="75.20" y="396.45" width="1.8" height="1.1" fill="#2a2ad8"/>
<rect x="72.90" y="399.41" width="1.8" height="1.1" fill="#2a2ad8"/>
<rect x="80.89" y="363.22" width="1.8" height="1.1" fill="#2a2ad8"/>
<rect x="80.04" y="379.15" width="1.8" height="1.1" fill="#2a2ad8"/>
<rect x="76.37" y="386.80" width="1.8" height="1.1" fill="#2a2ad8"/>
<rect x="77.41" y="398.46" width="1.8" height="1.1" fill="#2a2ad8"/>
<rect x="76.26" y="380.49" width="1.8" height="1.1" fill="#2a2ad8"/>
<rect x="74.60" y="401.29" width="1.8" height="1.1" fill="#2a2ad8"/>
<rect x="76.81" y="383.05" width="1.8" height="1.1" fill="#2a2ad8"/>
<rect x="79.49" y="366.07" width="1.8" height="1.1" fill="#2a2ad8"/>
<rect x="77.13" y="374.71" width="1.8" height="1.1" fill="#2a2ad8"/>
<rect x="77.18" y="371.64" width="1.8" height="1.1" fill="#2a2ad8"/>
<rect x="78.68" y="374.35" width="1.8" height="1.1" fill="#2a2ad8"/>
<rect x="79.25" y="357.51" width="1.8" height="1.1" fill="#2a2ad8"/>
<rect x="75.52" y="367.55" width="1.8" height="1.1" fill="#2a2ad8"/>
<rect x="79.53" y="362.03" width="1.8" height="1.1" fill="#2a2ad8"/>
<rect x="77.58" y="379.85" width="1.8" height="1.1" fill="#2a2ad8"/>
<rect x="75.46" y="378.09" width="1.8" height="1.1" fill="#2a2ad8"/>
<rect x="78.72" y="372.27" width="1.8" height="1.1" fill="#2a2ad8"/>
<rect x="75.20" y="388.06" width="1.8" height="1.1" fill="#2a2ad8"/>
<rect x="79.56" y="361.29" width="1.8" height="1.1" fill="#2a2ad8"/>
<rect x="75.62" y="392.94" width="1.8" height="1.1" fill="#2a2ad8"/>
<rect x="80.49" y="360.09" width="1.8" height="1.1" fill="#2a2ad8"/>
<rect x="75.82" y="389.91" width="1.8" height="1.1" fill="#2a2ad8"/>
<rect x="77.24" y="371.98" width="1.8" height="1.1" fill="#2a2ad8"/>
<rect x="76.91" y="382.05" width="1.8" height="1.1" fill="#2a2ad8"/>
<rect x="73.51" y="402.42" width="1.8" height="1.1" fill="#2a2ad8"/>
<rect x="74.03" y="403.52" width="1.8" height="1.1" fill="#2a2ad8"/>
<rect x="78.41" y="359.50" width="1.8" height="1.1" fill="#2a2ad8"/>
<rect x="77.35" y="382.79" width="1.8" height="1.1" fill="#2a2ad8"/>
<rect x="79.42" y="359.24" width="1.8" height="1.1" fill="#2a2ad8"/>
<rect x="77.69" y="376.70" width="1.8" height="1.1" fill="#2a2ad8"/>
<rect x="78.10" y="374.01" width="1.8" height="1.1" fill="#2a2ad8"/>
<rect x="76.75" y="380.62" width="1.8" height="1.1" fill="#2a2ad8"/>
<rect x="76.71" y="390.14" width="1.8" height="1.1" fill="#2a2ad8"/>
<rect x="78.54" y="373.22" width="1.8" height="1.1" fill="#2a2ad8"/>
<rect x="75.49" y="391.09" width="1.8" height="1.1" fill="#2a2ad8"/>
<rect x="76.58" y="395.31" width="1.8" height="1.1" fill="#2a2ad8"/>
<rect x="75.96" y="391.18" width="1.8" height="1.1" fill="#2a2ad8"/>
<rect x="74.31" y="382.21" width="1.8" height="1.1" fill="#2a2ad8"/>
<rect x="76.11" y="393.54" width="1.8" height="1.1" fill="#2a2ad8"/>
<rect x="74.04" y="397.25" width="1.8" height="1.1" fill="#2a2ad8"/>
<rect x="78.99" y="369.05" width="1.8" height="1.1" fill="#2a2ad8"/>
<rect x="79.58" y="376.38" width="1.8" height="1.1" fill="#2a2ad8"/>
<rect x="75.33" y="382.55" width="1.8" height="1.1" fill="#2a2ad8"/>
<rect x="75.85" y="389.43" width="1.8" height="1.1" fill="#2a2ad8"/>
<rect x="75.34" y="393.21" width="1.8" height="1.1" fill="#2a2ad8"/>
<rect x="76.46" y="382.40" width="1.8" height="1.1" fill="#2a2ad8"/>
<rect x="75.66" y="392.49" width="1.8" height="1.1" fill="#2a2ad8"/>
<rect x="78.01" y="369.66" width="1.8" height="1.1" fill="#2a2ad8"/>
<rect x="77.15" y="391.88" width="1.8" height="1.1" fill="#2a2ad8"/>
<rect x="75.56" y="376.12" width="1.8" height="1.1" fill="#2a2ad8"/>
<rect x="74.13" y="392.10" width="1.8" height="1.1" fill="#2a2ad8"/>
<rect x="79.69" y="362.77" width="1.8" height="1.1" fill="#2a2ad8"/>
<rect x="75.07" y="393.85" width="1.8" height="1.1" fill="#2a2ad8"/>
<rect x="80.39" y="359.40" width="1.8" height="1.1" fill="#2a2ad8"/>
<rect x="75.31" y="387.20" width="1.8" height="1.1" fill="#2a2ad8"/>
<rect x="76.54" y="371.53" width="1.8" height="1.1" fill="#2a2ad8"/>
<rect x="79.10" y="381.53" width="1.8" height="1.1" fill="#2a2ad8"/>
<rect x="81.49" y="367.10" width="1.8" height="1.1" fill="#2a2ad8"/>
<rect x="77.08" y="359.86" width="1.8" height="1.1" fill="#2a2ad8"/>
<rect x="73.49" y="402.82" width="1.8" height="1.1" fill="#2a2ad8"/>
<rect x="79.25" y="367.70" width="1.8" height="1.1" fill="#2a2ad8"/>
<rect x="77.47" y="386.14" width="1.8" height="1.1" fill="#2a2ad8"/>
<rect x="76.17" y="403.58" width="1.8" height="1.1" fill="#2a2ad8"/>
<rect x="78.39" y="380.28" width="1.8" height="1.1" fill="#2a2ad8"/>
<rect x="79.50" y="368.08" width="1.8" height="1.1" fill="#2a2ad8"/>
<rect x="80.88" y="359.61" width="1.8" height="1.1" fill="#2a2ad8"/>
<rect x="76.93" y="379.64" width="1.8" height="1.1" fill="#2a2ad8"/>
<rect x="76.71" y="376.38" width="1.8" height="1.1" fill="#2a2ad8"/>
<rect x="79.50" y="356.04" width="1.8" height="1.1" fill="#2a2ad8"/>
<rect x="80.71" y="363.00" width="1.8" height="1.1" fill="#2a2ad8"/>
<rect x="74.50" y="400.69" width="1.8" height="1.1" fill="#2a2ad8"/>
<rect x="79.19" y="376.31" width="1.8" height="1.1" fill="#2a2ad8"/>
<rect x="76.69" y="375.32" width="1.8" height="1.1" fill="#2a2ad8"/>
<rect x="81.23" y="362.12" width="1.8" height="1.1" fill="#2a2ad8"/>
<rect x="78.92" y="371.06" width="1.8" height="1.1" fill="#2a2ad8"/>
<rect x="77.28" y="370.48" width="1.8" height="1.1" fill="#2a2ad8"/>
<rect x="80.16" y="374.70" width="1.8" height="1.1" fill="#2a2ad8"/>
<rect x="73.32" y="393.29" width="1.8" height="1.1" fill="#2a2ad8"/>
<rect x="72.63" y="400.62" width="1.8" height="1.1" fill="#2a2ad8"/>
<rect x="79.09" y="359.29" width="1.8" height="1.1" fill="#2a2ad8"/>
<rect x="74.93" y="391.85" width="1.8" height="1.1" fill="#2a2ad8"/>
<rect x="79.85" y="360.38" width="1.8" height="1.1" fill="#2a2ad8"/>
<rect x="76.44" y="380.84" width="1.8" height="1.1" fill="#2a2ad8"/>
<rect x="76.66" y="391.93" width="1.8" height="1.1" fill="#2a2ad8"/>
<rect x="75.57" y="389.87" width="1.8" height="1.1" fill="#2a2ad8"/>
<rect x="77.83" y="377.06" width="1.8" height="1.1" fill="#2a2ad8"/>
<rect x="79.68" y="367.06" width="1.8" height="1.1" fill="#2a2ad8"/>
<rect x="81.99" y="366.03" width="1.8" height="1.1" fill="#2a2ad8"/>
<rect x="77.70" y="379.58" width="1.8" height="1.1" fill="#2a2ad8"/>
<rect x="78.72" y="363.05" width="1.8" height="1.1" fill="#2a2ad8"/>
<rect x="78.17" y="371.02" width="1.8" height="1.1" fill="#2a2ad8"/>
<rect x="74.88" y="397.48" width="1.8" height="1.1" fill="#2a2ad8"/>
<rect x="76.10" y="377.09" width="1.8" height="1.1" fill="#2a2ad8"/>
<rect x="78.71" y="374.24" width="1.8" height="1.1" fill="#2a2ad8"/>
<rect x="75.55" y="403.57" width="1.8" height="1.1" fill="#2a2ad8"/>
<rect x="76.82" y="386.41" width="1.8" height="1.1" fill="#2a2ad8"/>
<rect x="78.10" y="372.09" width="1.8" height="1.1" fill="#2a2ad8"/>
<rect x="79.60" y="378.02" width="1.8" height="1.1" fill="#2a2ad8"/>
<rect x="75.29" y="398.21" width="1.8" height="1.1" fill="#2a2ad8"/>
<rect x="76.98" y="389.84" width="1.8" height="1.1" fill="#2a2ad8"/>
<rect x="77.74" y="385.17" width="1.8" height="1.1" fill="#2a2ad8"/>
<rect x="75.85" y="398.35" width="1.8" height="1.1" fill="#2a2ad8"/>
<rect x="74.45" y="403.31" width="1.8" height="1.1" fill="#2a2ad8"/>
<rect x="76.75" y="365.20" width="1.8" height="1.1" fill="#2a2ad8"/>
<rect x="74.27" y="399.44" width="1.8" height="1.1" fill="#2a2ad8"/>
<rect x="73.94" y="393.68" width="1.8" height="1.1" fill="#2a2ad8"/>
<rect x="79.49" y="359.32" width="1.8" height="1.1" fill="#2a2ad8"/>
<rect x="74.04" y="399.43" width="1.8" height="1.1" fill="#2a2ad8"/>
<rect x="78.81" y="366.12" width="1.8" height="1.1" fill="#2a2ad8"/>
<rect x="76.25" y="390.56" width="1.8" height="1.1" fill="#2a2ad8"/>
<rect x="75.66" y="381.67" width="1.8" height="1.1" fill="#2a2ad8"/>
<rect x="78.19" y="368.51" width="1.8" height="1.1" fill="#2a2ad8"/>
<rect x="74.75" y="372.97" width="1.8" height="1.1" fill="#2a2ad8"/>
<rect x="77.25" y="386.79" width="1.8" height="1.1" fill="#2a2ad8"/>
<rect x="78.34" y="372.44" width="1.8" height="1.1" fill="#2a2ad8"/>
<rect x="75.74" y="390.77" width="1.8" height="1.1" fill="#2a2ad8"/>
<rect x="76.29" y="379.92" width="1.8" height="1.1" fill="#2a2ad8"/>
<rect x="76.69" y="367.59" width="1.8" height="1.1" fill="#2a2ad8"/>
<rect x="79.47" y="369.02" width="1.8" height="1.1" fill="#2a2ad8"/>
<rect x="76.96" y="376.80" width="1.8" height="1.1" fill="#2a2ad8"/>
<rect x="75.25" y="393.18" width="1.8" height="1.1" fill="#2a2ad8"/>
<rect x="79.54" y="367.58" width="1.8" height="1.1" fill="#2a2ad8"/>
<rect x="75.35" y="396.67" width="1.8" height="1.1" fill="#2a2ad8"/>
<rect x="74.65" y="396.13" width="1.8" height="1.1" fill="#2a2ad8"/>
<rect x="77.28" y="381.86" width="1.8" height="1.1" fill="#2a2ad8"/>
<rect x="75.72" y="374.69" width="1.8" height="1.1" fill="#2a2ad8"/>
<rect x="78.03" y="365.67" width="1.8" height="1.1" fill="#2a2ad8"/>
<rect x="74.70" y="403.10" width="1.8" height="1.1" fill="#2a2ad8"/>
<rect x="77.01" y="362.91" width="1.8" height="1.1" fill="#2a2ad8"/>
<rect x="74.42" y="394.17" width="1.8" height="1.1" fill="#2a2ad8"/>
<rect x="74.26" y="401.57" width="1.8" height="1.1" fill="#2a2ad8"/>
<rect x="74.63" y="400.70" width="1.8" height="1.1" fill="#2a2ad8"/>
<circle cx="60.70" cy="286.20" r="0.6" fill="#2a2ad8"/>
<circle cx="45.00" cy="292.70" r="0.6" fill="#2a2ad8"/>
<circle cx="51.20" cy="292.40" r="0.6" fill="#2a2ad8"/>
<circle cx="61.10" cy="292.40" r="0.6" fill="#2a2ad8"/>
<circle cx="53.90" cy="301.60" r="0.6" fill="#2a2ad8"/>
<circle cx="47.10" cy="306.30" r="0.6" fill="#2a2ad8"/>
<circle cx="56.20" cy="308.40" r="0.6" fill="#2a2ad8"/>
<circle cx="46.40" cy="310.70" r="0.6" fill="#2a2ad8"/>
<circle cx="59.30" cy="317.90" r="0.6" fill="#2a2ad8"/>
<circle cx="49.80" cy="319.70" r="0.6" fill="#2a2ad8"/>
<circle cx="40.50" cy="328.10" r="0.6" fill="#2a2ad8"/>
<circle cx="70.90" cy="311.50" r="0.6" fill="#2a2ad8"/>
<circle cx="75.00" cy="312.90" r="0.6" fill="#2a2ad8"/>
<circle cx="35.10" cy="334.90" r="0.6" fill="#2a2ad8"/>
<circle cx="47.10" cy="335.60" r="0.6" fill="#2a2ad8"/>
<circle cx="54.10" cy="332.90" r="0.6" fill="#2a2ad8"/>
<circle cx="58.20" cy="334.60" r="0.6" fill="#2a2ad8"/>
<circle cx="61.80" cy="334.20" r="0.6" fill="#2a2ad8"/>
<circle cx="68.90" cy="334.60" r="0.6" fill="#2a2ad8"/>
<circle cx="85.20" cy="335.60" r="0.6" fill="#2a2ad8"/>
<circle cx="52.20" cy="339.00" r="0.6" fill="#2a2ad8"/>
<circle cx="36.00" cy="351.10" r="0.6" fill="#2a2ad8"/>
<circle cx="41.10" cy="357.60" r="0.6" fill="#2a2ad8"/>
<circle cx="50.60" cy="364.90" r="0.6" fill="#2a2ad8"/>
<circle cx="51.40" cy="339.40" r="0.6" fill="#2a2ad8"/>
<circle cx="90.80" cy="351.10" r="0.6" fill="#2a2ad8"/>
<circle cx="95.90" cy="349.60" r="0.6" fill="#2a2ad8"/>
<circle cx="101.00" cy="346.40" r="0.6" fill="#2a2ad8"/>
<circle cx="106.80" cy="353.70" r="0.6" fill="#2a2ad8"/>
<circle cx="92.20" cy="358.40" r="0.6" fill="#2a2ad8"/>
<circle cx="117.00" cy="348.90" r="0.6" fill="#2a2ad8"/>
<circle cx="121.40" cy="378.10" r="0.6" fill="#2a2ad8"/>
<circle cx="130.00" cy="349.00" r="0.6" fill="#2a2ad8"/>
<circle cx="145.00" cy="348.50" r="0.6" fill="#2a2ad8"/>
<circle cx="150.00" cy="348.80" r="0.6" fill="#2a2ad8"/>
<circle cx="166.00" cy="349.50" r="0.6" fill="#2a2ad8"/>
<circle cx="185.30" cy="349.90" r="0.6" fill="#2a2ad8"/>
<circle cx="207.00" cy="349.50" r="0.6" fill="#2a2ad8"/>
<circle cx="224.30" cy="351.50" r="0.6" fill="#2a2ad8"/>
<circle cx="226.70" cy="351.70" r="0.6" fill="#2a2ad8"/>
<circle cx="241.50" cy="347.00" r="0.6" fill="#2a2ad8"/>
<circle cx="247.90" cy="345.00" r="0.6" fill="#2a2ad8"/>
<circle cx="140.00" cy="362.00" r="0.6" fill="#2a2ad8"/>
<circle cx="137.00" cy="369.00" r="0.6" fill="#2a2ad8"/>
<circle cx="208.20" cy="357.10" r="0.6" fill="#2a2ad8"/>
<circle cx="178.90" cy="364.10" r="0.6" fill="#2a2ad8"/>
<circle cx="194.30" cy="416.60" r="0.6" fill="#2a2ad8"/>
<circle cx="108.70" cy="479.90" r="0.6" fill="#2a2ad8"/>
<circle cx="86.00" cy="353.00" r="0.6" fill="#2a2ad8"/>
<circle cx="88.00" cy="352.00" r="0.6" fill="#2a2ad8"/>
<circle cx="99.00" cy="347.50" r="0.6" fill="#2a2ad8"/>
<circle cx="103.00" cy="347.00" r="0.6" fill="#2a2ad8"/>
<circle cx="83.50" cy="354.70" r="0.6" fill="#2a2ad8"/>
<circle cx="85.50" cy="353.50" r="0.6" fill="#2a2ad8"/>
<text transform="translate(60.70 280.70) scale(0.86 1)" font-size="6.0" fill="#2a2ad8" stroke="#2a2ad8" stroke-width="0.28" text-anchor="middle" font-weight="normal" dominant-baseline="central">−9</text>
<text transform="translate(47.10 285.90) scale(0.86 1)" font-size="6.0" fill="#2a2ad8" stroke="#2a2ad8" stroke-width="0.28" text-anchor="middle" font-weight="normal" dominant-baseline="central">19</text>
<text transform="translate(51.80 287.00) scale(0.86 1)" font-size="6.0" fill="#2a2ad8" stroke="#2a2ad8" stroke-width="0.28" text-anchor="middle" font-weight="normal" dominant-baseline="central">20</text>
<text transform="translate(45.00 297.50) scale(0.86 1)" font-size="6.0" fill="#2a2ad8" stroke="#2a2ad8" stroke-width="0.28" text-anchor="middle" font-weight="normal" dominant-baseline="central">16</text>
<text transform="translate(54.60 296.10) scale(0.86 1)" font-size="6.0" fill="#2a2ad8" stroke="#2a2ad8" stroke-width="0.28" text-anchor="middle" font-weight="normal" dominant-baseline="central">22</text>
<text transform="translate(61.20 297.50) scale(0.86 1)" font-size="6.0" fill="#2a2ad8" stroke="#2a2ad8" stroke-width="0.28" text-anchor="middle" font-weight="normal" dominant-baseline="central">−10</text>
<text transform="translate(46.50 300.80) scale(0.86 1)" font-size="6.0" fill="#2a2ad8" stroke="#2a2ad8" stroke-width="0.28" text-anchor="middle" font-weight="normal" dominant-baseline="central">18</text>
<text transform="translate(49.50 301.60) scale(0.86 1)" font-size="6.0" fill="#2a2ad8" stroke="#2a2ad8" stroke-width="0.28" text-anchor="middle" font-weight="normal" dominant-baseline="central">17</text>
<text transform="translate(55.90 313.80) scale(0.86 1)" font-size="6.0" fill="#2a2ad8" stroke="#2a2ad8" stroke-width="0.28" text-anchor="middle" font-weight="normal" dominant-baseline="central">23</text>
<text transform="translate(46.40 315.60) scale(0.86 1)" font-size="6.0" fill="#2a2ad8" stroke="#2a2ad8" stroke-width="0.28" text-anchor="middle" font-weight="normal" dominant-baseline="central">15</text>
<text transform="translate(40.90 322.70) scale(0.86 1)" font-size="6.0" fill="#2a2ad8" stroke="#2a2ad8" stroke-width="0.28" text-anchor="middle" font-weight="normal" dominant-baseline="central">10</text>
<text transform="translate(35.10 340.10) scale(0.86 1)" font-size="6.0" fill="#2a2ad8" stroke="#2a2ad8" stroke-width="0.28" text-anchor="middle" font-weight="normal" dominant-baseline="central">9</text>
<text transform="translate(36.00 356.20) scale(0.86 1)" font-size="6.0" fill="#2a2ad8" stroke="#2a2ad8" stroke-width="0.28" text-anchor="middle" font-weight="normal" dominant-baseline="central">8</text>
<text transform="translate(124.50 348.70) scale(0.86 1)" font-size="6.0" fill="#2a2ad8" stroke="#2a2ad8" stroke-width="0.28" text-anchor="middle" font-weight="normal" dominant-baseline="central">−25</text>
<text transform="translate(156.00 348.70) scale(0.86 1)" font-size="6.0" fill="#2a2ad8" stroke="#2a2ad8" stroke-width="0.28" text-anchor="middle" font-weight="normal" dominant-baseline="central">−26</text>
<text transform="translate(174.30 349.90) scale(0.86 1)" font-size="6.0" fill="#2a2ad8" stroke="#2a2ad8" stroke-width="0.28" text-anchor="middle" font-weight="normal" dominant-baseline="central">−24</text>
<text transform="translate(186.40 344.50) scale(0.86 1)" font-size="6.0" fill="#2a2ad8" stroke="#2a2ad8" stroke-width="0.28" text-anchor="middle" font-weight="normal" dominant-baseline="central">−23</text>
<text transform="translate(207.00 343.80) scale(0.86 1)" font-size="6.0" fill="#2a2ad8" stroke="#2a2ad8" stroke-width="0.28" text-anchor="middle" font-weight="normal" dominant-baseline="central">−22</text>
<text transform="translate(216.80 349.90) scale(0.86 1)" font-size="6.0" fill="#2a2ad8" stroke="#2a2ad8" stroke-width="0.28" text-anchor="middle" font-weight="normal" dominant-baseline="central">−21</text>
<text transform="translate(235.50 351.00) scale(0.86 1)" font-size="6.0" fill="#2a2ad8" stroke="#2a2ad8" stroke-width="0.28" text-anchor="middle" font-weight="normal" dominant-baseline="central">−17</text>
<text transform="translate(243.00 352.20) scale(0.86 1)" font-size="6.0" fill="#2a2ad8" stroke="#2a2ad8" stroke-width="0.28" text-anchor="middle" font-weight="normal" dominant-baseline="central">18</text>
<text transform="translate(241.80 341.70) scale(0.86 1)" font-size="6.0" fill="#2a2ad8" stroke="#2a2ad8" stroke-width="0.28" text-anchor="middle" font-weight="normal" dominant-baseline="central">−20</text>
<text transform="translate(256.50 344.50) scale(0.86 1)" font-size="6.0" fill="#2a2ad8" stroke="#2a2ad8" stroke-width="0.28" text-anchor="middle" font-weight="normal" dominant-baseline="central">−19</text>
<text transform="translate(140.90 359.20) scale(0.86 1)" font-size="6.0" fill="#2a2ad8" stroke="#2a2ad8" stroke-width="0.28" text-anchor="middle" font-weight="normal" dominant-baseline="central">−14</text>
<text transform="translate(208.60 362.70) scale(0.86 1)" font-size="6.0" fill="#2a2ad8" stroke="#2a2ad8" stroke-width="0.28" text-anchor="middle" font-weight="normal" dominant-baseline="central">−16</text>
<text transform="translate(179.40 369.80) scale(0.86 1)" font-size="6.0" fill="#2a2ad8" stroke="#2a2ad8" stroke-width="0.28" text-anchor="middle" font-weight="normal" dominant-baseline="central">−15</text>
<text transform="translate(137.40 374.40) scale(0.86 1)" font-size="6.0" fill="#2a2ad8" stroke="#2a2ad8" stroke-width="0.28" text-anchor="middle" font-weight="normal" dominant-baseline="central">−6</text>
<text transform="translate(194.30 422.20) scale(0.86 1)" font-size="6.0" fill="#2a2ad8" stroke="#2a2ad8" stroke-width="0.28" text-anchor="middle" font-weight="normal" dominant-baseline="central">−1</text>
<text transform="translate(103.20 479.40) scale(0.86 1)" font-size="6.0" fill="#2a2ad8" stroke="#2a2ad8" stroke-width="0.28" text-anchor="middle" font-weight="normal" dominant-baseline="central">1</text>
<line x1="84.20" y1="370.50" x2="63.60" y2="281.50" stroke="#e83030" stroke-width="0.8"/>
<line x1="84.20" y1="370.50" x2="109.00" y2="347.80" stroke="#e83030" stroke-width="0.85"/>
<polyline points="107.88,350.72 109.00,347.80 105.99,348.66" fill="none" stroke="#e83030" stroke-width="0.85"/>
<line x1="84.20" y1="370.50" x2="162.60" y2="346.40" stroke="#e83030" stroke-width="0.85"/>
<polyline points="160.33,348.56 162.60,346.40 159.51,345.88" fill="none" stroke="#e83030" stroke-width="0.85"/>
<line x1="84.20" y1="370.50" x2="103.90" y2="363.50" stroke="#e83030" stroke-width="0.85"/>
<polyline points="101.73,365.76 103.90,363.50 100.79,363.12" fill="none" stroke="#e83030" stroke-width="0.85"/>
<line x1="84.20" y1="370.50" x2="63.80" y2="350.30" stroke="#e83030" stroke-width="0.85"/>
<polyline points="66.77,351.28 63.80,350.30 64.80,353.26" fill="none" stroke="#e83030" stroke-width="0.85"/>
<line x1="84.20" y1="370.50" x2="69.60" y2="353.20" stroke="#e83030" stroke-width="0.85"/>
<polyline points="72.48,354.44 69.60,353.20 70.34,356.24" fill="none" stroke="#e83030" stroke-width="0.85"/>
<line x1="84.20" y1="370.50" x2="68.90" y2="362.00" stroke="#e83030" stroke-width="0.85"/>
<polyline points="72.03,362.14 68.90,362.00 70.67,364.58" fill="none" stroke="#e83030" stroke-width="0.85"/>
<line x1="84.20" y1="370.50" x2="70.30" y2="358.40" stroke="#e83030" stroke-width="0.85"/>
<polyline points="73.33,359.18 70.30,358.40 71.49,361.29" fill="none" stroke="#e83030" stroke-width="0.85"/>
<line x1="84.20" y1="370.50" x2="78.40" y2="389.50" stroke="#e83030" stroke-width="0.85"/>
<polyline points="77.88,386.41 78.40,389.50 80.56,387.23" fill="none" stroke="#e83030" stroke-width="0.85"/>
<line x1="84.20" y1="370.50" x2="76.60" y2="398.90" stroke="#e83030" stroke-width="0.85"/>
<polyline points="75.97,395.83 76.60,398.90 78.68,396.56" fill="none" stroke="#e83030" stroke-width="0.85"/>
<line x1="84.20" y1="370.50" x2="86.50" y2="400.00" stroke="#e83030" stroke-width="0.85"/>
<polyline points="84.89,397.32 86.50,400.00 87.68,397.10" fill="none" stroke="#e83030" stroke-width="0.85"/>
<line x1="84.20" y1="370.50" x2="72.30" y2="419.00" stroke="#e83030" stroke-width="0.85"/>
<polyline points="71.61,415.95 72.30,419.00 74.33,416.61" fill="none" stroke="#e83030" stroke-width="0.85"/>
<line x1="84.20" y1="370.50" x2="82.70" y2="421.70" stroke="#e83030" stroke-width="0.85"/>
<polyline points="81.38,418.86 82.70,421.70 84.18,418.94" fill="none" stroke="#e83030" stroke-width="0.85"/>
<line x1="84.20" y1="370.50" x2="84.40" y2="396.00" stroke="#e83030" stroke-width="0.85"/>
<polyline points="82.98,393.21 84.40,396.00 85.78,393.19" fill="none" stroke="#e83030" stroke-width="0.85"/>
<line x1="84.20" y1="370.50" x2="86.20" y2="397.00" stroke="#e83030" stroke-width="0.85"/>
<polyline points="84.59,394.31 86.20,397.00 87.39,394.10" fill="none" stroke="#e83030" stroke-width="0.85"/>
<text transform="translate(60.45 256.90) scale(0.82 1)" font-size="5.8" fill="#e83030" stroke="#e83030" stroke-width="0.25" text-anchor="middle" font-weight="normal" dominant-baseline="central" letter-spacing="1.0">TT</text>
<text transform="translate(110.25 341.60) scale(0.82 1)" font-size="5.8" fill="#e83030" stroke="#e83030" stroke-width="0.25" text-anchor="middle" font-weight="normal" dominant-baseline="central" letter-spacing="1.0">TA</text>
<text transform="translate(170.45 345.70) scale(0.82 1)" font-size="5.8" fill="#e83030" stroke="#e83030" stroke-width="0.25" text-anchor="middle" font-weight="normal" dominant-baseline="central" letter-spacing="1.0">AA</text>
<text transform="translate(105.85 367.10) scale(0.82 1)" font-size="5.8" fill="#e83030" stroke="#e83030" stroke-width="0.25" text-anchor="middle" font-weight="normal" dominant-baseline="central" letter-spacing="1.0">AT</text>
<text transform="translate(56.95 349.60) scale(0.82 1)" font-size="5.8" fill="#e83030" stroke="#e83030" stroke-width="0.25" text-anchor="middle" font-weight="normal" dominant-baseline="central" letter-spacing="1.0">TG</text>
<text transform="translate(70.05 346.70) scale(0.82 1)" font-size="5.8" fill="#e83030" stroke="#e83030" stroke-width="0.25" text-anchor="middle" font-weight="normal" dominant-baseline="central" letter-spacing="1.0">GT</text>
<text transform="translate(67.55 365.70) scale(0.82 1)" font-size="5.8" fill="#e83030" stroke="#e83030" stroke-width="0.25" text-anchor="middle" font-weight="normal" dominant-baseline="central" letter-spacing="1.0">CT</text>
<text transform="translate(69.45 390.70) scale(0.82 1)" font-size="5.8" fill="#e83030" stroke="#e83030" stroke-width="0.25" text-anchor="middle" font-weight="normal" dominant-baseline="central" letter-spacing="1.0">GC</text>
<text transform="translate(75.35 404.10) scale(0.82 1)" font-size="5.8" fill="#e83030" stroke="#e83030" stroke-width="0.25" text-anchor="middle" font-weight="normal" dominant-baseline="central" letter-spacing="1.0">CC</text>
<text transform="translate(86.95 406.50) scale(0.82 1)" font-size="5.8" fill="#e83030" stroke="#e83030" stroke-width="0.25" text-anchor="middle" font-weight="normal" dominant-baseline="central" letter-spacing="1.0">AC</text>
<text transform="translate(64.25 419.30) scale(0.82 1)" font-size="5.8" fill="#e83030" stroke="#e83030" stroke-width="0.25" text-anchor="middle" font-weight="normal" dominant-baseline="central" letter-spacing="1.0">GG</text>
<text transform="translate(91.05 422.20) scale(0.82 1)" font-size="5.8" fill="#e83030" stroke="#e83030" stroke-width="0.25" text-anchor="middle" font-weight="normal" dominant-baseline="central" letter-spacing="1.0">AG</text>
<text transform="translate(87.25 393.00) scale(0.82 1)" font-size="5.8" fill="#e83030" stroke="#e83030" stroke-width="0.25" text-anchor="middle" font-weight="normal" dominant-baseline="central" letter-spacing="1.0">GA</text></svg>
</body></html>
